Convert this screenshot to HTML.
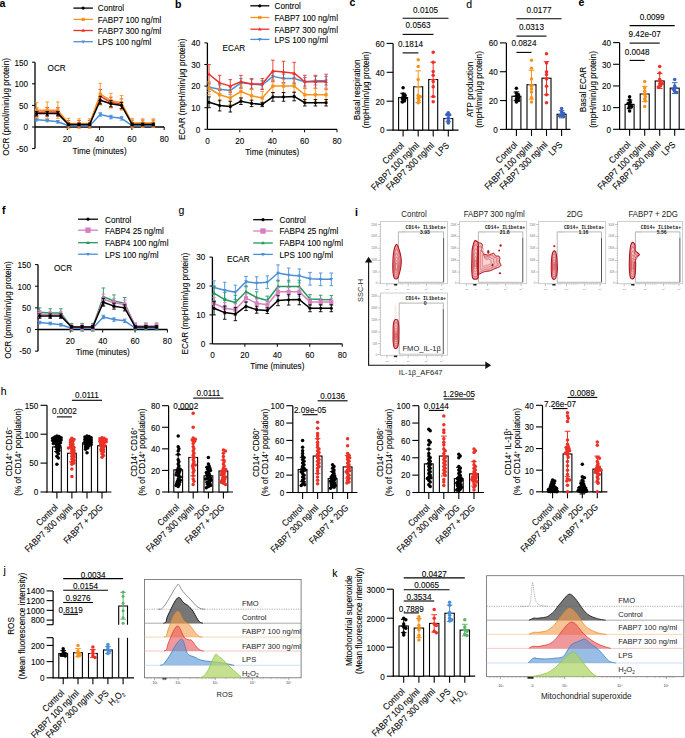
<!DOCTYPE html>
<html><head><meta charset="utf-8"><style>
html,body{margin:0;padding:0;background:#fff;}
svg{display:block;font-family:"Liberation Sans",sans-serif;font-size:8px;}
text:not([fill]){stroke:#000;stroke-width:0.18px;stroke-opacity:0.55;}
</style></head><body>
<svg width="685" height="738" viewBox="0 0 685 738">
<rect width="685" height="738" fill="#fff"/>
<text transform="translate(-0.5 6.9)" font-size="10.5" font-weight="bold">a</text>
<line x1="35" y1="62.2" x2="35" y2="148.6" stroke="#000" stroke-width="1.3"/>
<line x1="35" y1="127" x2="164.2" y2="127" stroke="#000" stroke-width="1.3"/>
<line x1="32" y1="62.2" x2="35" y2="62.2" stroke="#000" stroke-width="1"/>
<text transform="translate(28 62.2) scale(0.8870 1)" y="3.31" font-size="9.2" text-anchor="end">150</text>
<line x1="32" y1="83.8" x2="35" y2="83.8" stroke="#000" stroke-width="1"/>
<text transform="translate(28 83.8) scale(0.8870 1)" y="3.31" font-size="9.2" text-anchor="end">100</text>
<line x1="32" y1="105.4" x2="35" y2="105.4" stroke="#000" stroke-width="1"/>
<text transform="translate(28 105.4) scale(0.8870 1)" y="3.31" font-size="9.2" text-anchor="end">50</text>
<line x1="32" y1="127" x2="35" y2="127" stroke="#000" stroke-width="1"/>
<text transform="translate(28 127) scale(0.8870 1)" y="3.31" font-size="9.2" text-anchor="end">0</text>
<line x1="32" y1="148.6" x2="35" y2="148.6" stroke="#000" stroke-width="1"/>
<text transform="translate(28 148.6) scale(0.8870 1)" y="3.31" font-size="9.2" text-anchor="end">-50</text>
<line x1="67.3" y1="127" x2="67.3" y2="130" stroke="#000" stroke-width="1"/>
<text transform="translate(67.3 139) scale(0.8870 1)" y="3.31" font-size="9.2" text-anchor="middle">20</text>
<line x1="99.6" y1="127" x2="99.6" y2="130" stroke="#000" stroke-width="1"/>
<text transform="translate(99.6 139) scale(0.8870 1)" y="3.31" font-size="9.2" text-anchor="middle">40</text>
<line x1="131.9" y1="127" x2="131.9" y2="130" stroke="#000" stroke-width="1"/>
<text transform="translate(131.9 139) scale(0.8870 1)" y="3.31" font-size="9.2" text-anchor="middle">60</text>
<line x1="164.2" y1="127" x2="164.2" y2="130" stroke="#000" stroke-width="1"/>
<text transform="translate(164.2 139) scale(0.8870 1)" y="3.31" font-size="9.2" text-anchor="middle">80</text>
<text transform="translate(99.6 150.3) scale(0.8870 1)" y="3.31" font-size="9.2" text-anchor="middle">Time (minutes)</text>
<text transform="translate(5.8 106.9) rotate(-90) scale(0.8870 1)" y="3.31" font-size="9.2" text-anchor="middle">OCR (pmol/min/μg protein)</text>
<text transform="translate(47.6 67.8) scale(0.8870 1)" y="3.31" font-size="9.2">OCR</text>
<line x1="36.62" y1="118.36" x2="36.62" y2="120.95" stroke="#4A8FD8" stroke-width="0.9"/>
<line x1="34.82" y1="118.36" x2="38.41" y2="118.36" stroke="#4A8FD8" stroke-width="0.9"/>
<line x1="34.82" y1="120.95" x2="38.41" y2="120.95" stroke="#4A8FD8" stroke-width="0.9"/>
<line x1="47.23" y1="119.22" x2="47.23" y2="121.82" stroke="#4A8FD8" stroke-width="0.9"/>
<line x1="45.43" y1="119.22" x2="49.03" y2="119.22" stroke="#4A8FD8" stroke-width="0.9"/>
<line x1="45.43" y1="121.82" x2="49.03" y2="121.82" stroke="#4A8FD8" stroke-width="0.9"/>
<line x1="57.84" y1="120.52" x2="57.84" y2="123.11" stroke="#4A8FD8" stroke-width="0.9"/>
<line x1="56.04" y1="120.52" x2="59.64" y2="120.52" stroke="#4A8FD8" stroke-width="0.9"/>
<line x1="56.04" y1="123.11" x2="59.64" y2="123.11" stroke="#4A8FD8" stroke-width="0.9"/>
<line x1="68.45" y1="124.84" x2="68.45" y2="126.57" stroke="#4A8FD8" stroke-width="0.9"/>
<line x1="66.65" y1="124.84" x2="70.25" y2="124.84" stroke="#4A8FD8" stroke-width="0.9"/>
<line x1="66.65" y1="126.57" x2="70.25" y2="126.57" stroke="#4A8FD8" stroke-width="0.9"/>
<line x1="79.06" y1="124.84" x2="79.06" y2="126.57" stroke="#4A8FD8" stroke-width="0.9"/>
<line x1="77.26" y1="124.84" x2="80.86" y2="124.84" stroke="#4A8FD8" stroke-width="0.9"/>
<line x1="77.26" y1="126.57" x2="80.86" y2="126.57" stroke="#4A8FD8" stroke-width="0.9"/>
<line x1="89.67" y1="124.84" x2="89.67" y2="126.57" stroke="#4A8FD8" stroke-width="0.9"/>
<line x1="87.87" y1="124.84" x2="91.47" y2="124.84" stroke="#4A8FD8" stroke-width="0.9"/>
<line x1="87.87" y1="126.57" x2="91.47" y2="126.57" stroke="#4A8FD8" stroke-width="0.9"/>
<line x1="100.28" y1="112.74" x2="100.28" y2="116.2" stroke="#4A8FD8" stroke-width="0.9"/>
<line x1="98.48" y1="112.74" x2="102.08" y2="112.74" stroke="#4A8FD8" stroke-width="0.9"/>
<line x1="98.48" y1="116.2" x2="102.08" y2="116.2" stroke="#4A8FD8" stroke-width="0.9"/>
<line x1="110.89" y1="115.34" x2="110.89" y2="118.79" stroke="#4A8FD8" stroke-width="0.9"/>
<line x1="109.09" y1="115.34" x2="112.69" y2="115.34" stroke="#4A8FD8" stroke-width="0.9"/>
<line x1="109.09" y1="118.79" x2="112.69" y2="118.79" stroke="#4A8FD8" stroke-width="0.9"/>
<line x1="121.5" y1="116.63" x2="121.5" y2="120.09" stroke="#4A8FD8" stroke-width="0.9"/>
<line x1="119.7" y1="116.63" x2="123.3" y2="116.63" stroke="#4A8FD8" stroke-width="0.9"/>
<line x1="119.7" y1="120.09" x2="123.3" y2="120.09" stroke="#4A8FD8" stroke-width="0.9"/>
<line x1="132.11" y1="124.84" x2="132.11" y2="126.57" stroke="#4A8FD8" stroke-width="0.9"/>
<line x1="130.31" y1="124.84" x2="133.91" y2="124.84" stroke="#4A8FD8" stroke-width="0.9"/>
<line x1="130.31" y1="126.57" x2="133.91" y2="126.57" stroke="#4A8FD8" stroke-width="0.9"/>
<line x1="142.72" y1="124.84" x2="142.72" y2="126.57" stroke="#4A8FD8" stroke-width="0.9"/>
<line x1="140.92" y1="124.84" x2="144.52" y2="124.84" stroke="#4A8FD8" stroke-width="0.9"/>
<line x1="140.92" y1="126.57" x2="144.52" y2="126.57" stroke="#4A8FD8" stroke-width="0.9"/>
<line x1="153.33" y1="124.84" x2="153.33" y2="126.57" stroke="#4A8FD8" stroke-width="0.9"/>
<line x1="151.53" y1="124.84" x2="155.13" y2="124.84" stroke="#4A8FD8" stroke-width="0.9"/>
<line x1="151.53" y1="126.57" x2="155.13" y2="126.57" stroke="#4A8FD8" stroke-width="0.9"/>
<path d="M36.62 119.66 L47.23 120.52 L57.84 121.82 L68.45 125.7 L79.06 125.7 L89.67 125.7 L100.28 114.47 L110.89 117.06 L121.5 118.36 L132.11 125.7 L142.72 125.7 L153.33 125.7" stroke="#4A8FD8" fill="none" stroke-width="1.5" stroke-linejoin="round"/>
<path d="M36.62 121.66L38.41 118.36L34.82 118.36Z" stroke="none" fill="#4A8FD8" stroke-width="1"/>
<path d="M47.23 122.52L49.03 119.22L45.43 119.22Z" stroke="none" fill="#4A8FD8" stroke-width="1"/>
<path d="M57.84 123.82L59.64 120.52L56.04 120.52Z" stroke="none" fill="#4A8FD8" stroke-width="1"/>
<path d="M68.45 127.7L70.25 124.4L66.65 124.4Z" stroke="none" fill="#4A8FD8" stroke-width="1"/>
<path d="M79.06 127.7L80.86 124.4L77.26 124.4Z" stroke="none" fill="#4A8FD8" stroke-width="1"/>
<path d="M89.67 127.7L91.47 124.4L87.87 124.4Z" stroke="none" fill="#4A8FD8" stroke-width="1"/>
<path d="M100.28 116.47L102.08 113.17L98.48 113.17Z" stroke="none" fill="#4A8FD8" stroke-width="1"/>
<path d="M110.89 119.06L112.69 115.76L109.09 115.76Z" stroke="none" fill="#4A8FD8" stroke-width="1"/>
<path d="M121.5 120.36L123.3 117.06L119.7 117.06Z" stroke="none" fill="#4A8FD8" stroke-width="1"/>
<path d="M132.11 127.7L133.91 124.4L130.31 124.4Z" stroke="none" fill="#4A8FD8" stroke-width="1"/>
<path d="M142.72 127.7L144.52 124.4L140.92 124.4Z" stroke="none" fill="#4A8FD8" stroke-width="1"/>
<path d="M153.33 127.7L155.13 124.4L151.53 124.4Z" stroke="none" fill="#4A8FD8" stroke-width="1"/>
<line x1="36.62" y1="107.99" x2="36.62" y2="116.63" stroke="#EC3127" stroke-width="0.9"/>
<line x1="34.82" y1="107.99" x2="38.41" y2="107.99" stroke="#EC3127" stroke-width="0.9"/>
<line x1="34.82" y1="116.63" x2="38.41" y2="116.63" stroke="#EC3127" stroke-width="0.9"/>
<line x1="47.23" y1="107.56" x2="47.23" y2="116.2" stroke="#EC3127" stroke-width="0.9"/>
<line x1="45.43" y1="107.56" x2="49.03" y2="107.56" stroke="#EC3127" stroke-width="0.9"/>
<line x1="45.43" y1="116.2" x2="49.03" y2="116.2" stroke="#EC3127" stroke-width="0.9"/>
<line x1="57.84" y1="107.56" x2="57.84" y2="116.2" stroke="#EC3127" stroke-width="0.9"/>
<line x1="56.04" y1="107.56" x2="59.64" y2="107.56" stroke="#EC3127" stroke-width="0.9"/>
<line x1="56.04" y1="116.2" x2="59.64" y2="116.2" stroke="#EC3127" stroke-width="0.9"/>
<line x1="68.45" y1="120.52" x2="68.45" y2="127.43" stroke="#EC3127" stroke-width="0.9"/>
<line x1="66.65" y1="120.52" x2="70.25" y2="120.52" stroke="#EC3127" stroke-width="0.9"/>
<line x1="66.65" y1="127.43" x2="70.25" y2="127.43" stroke="#EC3127" stroke-width="0.9"/>
<line x1="79.06" y1="120.52" x2="79.06" y2="127.43" stroke="#EC3127" stroke-width="0.9"/>
<line x1="77.26" y1="120.52" x2="80.86" y2="120.52" stroke="#EC3127" stroke-width="0.9"/>
<line x1="77.26" y1="127.43" x2="80.86" y2="127.43" stroke="#EC3127" stroke-width="0.9"/>
<line x1="89.67" y1="120.52" x2="89.67" y2="127.43" stroke="#EC3127" stroke-width="0.9"/>
<line x1="87.87" y1="120.52" x2="91.47" y2="120.52" stroke="#EC3127" stroke-width="0.9"/>
<line x1="87.87" y1="127.43" x2="91.47" y2="127.43" stroke="#EC3127" stroke-width="0.9"/>
<line x1="100.28" y1="89.42" x2="100.28" y2="103.24" stroke="#EC3127" stroke-width="0.9"/>
<line x1="98.48" y1="89.42" x2="102.08" y2="89.42" stroke="#EC3127" stroke-width="0.9"/>
<line x1="98.48" y1="103.24" x2="102.08" y2="103.24" stroke="#EC3127" stroke-width="0.9"/>
<line x1="110.89" y1="97.19" x2="110.89" y2="107.56" stroke="#EC3127" stroke-width="0.9"/>
<line x1="109.09" y1="97.19" x2="112.69" y2="97.19" stroke="#EC3127" stroke-width="0.9"/>
<line x1="109.09" y1="107.56" x2="112.69" y2="107.56" stroke="#EC3127" stroke-width="0.9"/>
<line x1="121.5" y1="98.92" x2="121.5" y2="109.29" stroke="#EC3127" stroke-width="0.9"/>
<line x1="119.7" y1="98.92" x2="123.3" y2="98.92" stroke="#EC3127" stroke-width="0.9"/>
<line x1="119.7" y1="109.29" x2="123.3" y2="109.29" stroke="#EC3127" stroke-width="0.9"/>
<line x1="132.11" y1="120.09" x2="132.11" y2="127" stroke="#EC3127" stroke-width="0.9"/>
<line x1="130.31" y1="120.09" x2="133.91" y2="120.09" stroke="#EC3127" stroke-width="0.9"/>
<line x1="130.31" y1="127" x2="133.91" y2="127" stroke="#EC3127" stroke-width="0.9"/>
<line x1="142.72" y1="120.09" x2="142.72" y2="127" stroke="#EC3127" stroke-width="0.9"/>
<line x1="140.92" y1="120.09" x2="144.52" y2="120.09" stroke="#EC3127" stroke-width="0.9"/>
<line x1="140.92" y1="127" x2="144.52" y2="127" stroke="#EC3127" stroke-width="0.9"/>
<line x1="153.33" y1="120.09" x2="153.33" y2="127" stroke="#EC3127" stroke-width="0.9"/>
<line x1="151.53" y1="120.09" x2="155.13" y2="120.09" stroke="#EC3127" stroke-width="0.9"/>
<line x1="151.53" y1="127" x2="155.13" y2="127" stroke="#EC3127" stroke-width="0.9"/>
<path d="M36.62 112.31 L47.23 111.88 L57.84 111.88 L68.45 123.98 L79.06 123.98 L89.67 123.98 L100.28 96.33 L110.89 102.38 L121.5 104.1 L132.11 123.54 L142.72 123.54 L153.33 123.54" stroke="#EC3127" fill="none" stroke-width="1.5" stroke-linejoin="round"/>
<path d="M36.62 110.31L38.41 113.61L34.82 113.61Z" stroke="none" fill="#EC3127" stroke-width="1"/>
<path d="M47.23 109.88L49.03 113.18L45.43 113.18Z" stroke="none" fill="#EC3127" stroke-width="1"/>
<path d="M57.84 109.88L59.64 113.18L56.04 113.18Z" stroke="none" fill="#EC3127" stroke-width="1"/>
<path d="M68.45 121.98L70.25 125.28L66.65 125.28Z" stroke="none" fill="#EC3127" stroke-width="1"/>
<path d="M79.06 121.98L80.86 125.28L77.26 125.28Z" stroke="none" fill="#EC3127" stroke-width="1"/>
<path d="M89.67 121.98L91.47 125.28L87.87 125.28Z" stroke="none" fill="#EC3127" stroke-width="1"/>
<path d="M100.28 94.33L102.08 97.63L98.48 97.63Z" stroke="none" fill="#EC3127" stroke-width="1"/>
<path d="M110.89 100.38L112.69 103.68L109.09 103.68Z" stroke="none" fill="#EC3127" stroke-width="1"/>
<path d="M121.5 102.1L123.3 105.4L119.7 105.4Z" stroke="none" fill="#EC3127" stroke-width="1"/>
<path d="M132.11 121.54L133.91 124.84L130.31 124.84Z" stroke="none" fill="#EC3127" stroke-width="1"/>
<path d="M142.72 121.54L144.52 124.84L140.92 124.84Z" stroke="none" fill="#EC3127" stroke-width="1"/>
<path d="M153.33 121.54L155.13 124.84L151.53 124.84Z" stroke="none" fill="#EC3127" stroke-width="1"/>
<line x1="36.62" y1="102.38" x2="36.62" y2="117.93" stroke="#F7941D" stroke-width="0.9"/>
<line x1="34.82" y1="102.38" x2="38.41" y2="102.38" stroke="#F7941D" stroke-width="0.9"/>
<line x1="34.82" y1="117.93" x2="38.41" y2="117.93" stroke="#F7941D" stroke-width="0.9"/>
<line x1="47.23" y1="101.94" x2="47.23" y2="118.36" stroke="#F7941D" stroke-width="0.9"/>
<line x1="45.43" y1="101.94" x2="49.03" y2="101.94" stroke="#F7941D" stroke-width="0.9"/>
<line x1="45.43" y1="118.36" x2="49.03" y2="118.36" stroke="#F7941D" stroke-width="0.9"/>
<line x1="57.84" y1="101.94" x2="57.84" y2="118.36" stroke="#F7941D" stroke-width="0.9"/>
<line x1="56.04" y1="101.94" x2="59.64" y2="101.94" stroke="#F7941D" stroke-width="0.9"/>
<line x1="56.04" y1="118.36" x2="59.64" y2="118.36" stroke="#F7941D" stroke-width="0.9"/>
<line x1="68.45" y1="118.36" x2="68.45" y2="128.73" stroke="#F7941D" stroke-width="0.9"/>
<line x1="66.65" y1="118.36" x2="70.25" y2="118.36" stroke="#F7941D" stroke-width="0.9"/>
<line x1="66.65" y1="128.73" x2="70.25" y2="128.73" stroke="#F7941D" stroke-width="0.9"/>
<line x1="79.06" y1="118.79" x2="79.06" y2="128.3" stroke="#F7941D" stroke-width="0.9"/>
<line x1="77.26" y1="118.79" x2="80.86" y2="118.79" stroke="#F7941D" stroke-width="0.9"/>
<line x1="77.26" y1="128.3" x2="80.86" y2="128.3" stroke="#F7941D" stroke-width="0.9"/>
<line x1="89.67" y1="118.79" x2="89.67" y2="128.3" stroke="#F7941D" stroke-width="0.9"/>
<line x1="87.87" y1="118.79" x2="91.47" y2="118.79" stroke="#F7941D" stroke-width="0.9"/>
<line x1="87.87" y1="128.3" x2="91.47" y2="128.3" stroke="#F7941D" stroke-width="0.9"/>
<line x1="100.28" y1="83.37" x2="100.28" y2="104.97" stroke="#F7941D" stroke-width="0.9"/>
<line x1="98.48" y1="83.37" x2="102.08" y2="83.37" stroke="#F7941D" stroke-width="0.9"/>
<line x1="98.48" y1="104.97" x2="102.08" y2="104.97" stroke="#F7941D" stroke-width="0.9"/>
<line x1="110.89" y1="93.3" x2="110.89" y2="107.99" stroke="#F7941D" stroke-width="0.9"/>
<line x1="109.09" y1="93.3" x2="112.69" y2="93.3" stroke="#F7941D" stroke-width="0.9"/>
<line x1="109.09" y1="107.99" x2="112.69" y2="107.99" stroke="#F7941D" stroke-width="0.9"/>
<line x1="121.5" y1="95.46" x2="121.5" y2="110.15" stroke="#F7941D" stroke-width="0.9"/>
<line x1="119.7" y1="95.46" x2="123.3" y2="95.46" stroke="#F7941D" stroke-width="0.9"/>
<line x1="119.7" y1="110.15" x2="123.3" y2="110.15" stroke="#F7941D" stroke-width="0.9"/>
<line x1="132.11" y1="118.36" x2="132.11" y2="127.86" stroke="#F7941D" stroke-width="0.9"/>
<line x1="130.31" y1="118.36" x2="133.91" y2="118.36" stroke="#F7941D" stroke-width="0.9"/>
<line x1="130.31" y1="127.86" x2="133.91" y2="127.86" stroke="#F7941D" stroke-width="0.9"/>
<line x1="142.72" y1="118.79" x2="142.72" y2="127.43" stroke="#F7941D" stroke-width="0.9"/>
<line x1="140.92" y1="118.79" x2="144.52" y2="118.79" stroke="#F7941D" stroke-width="0.9"/>
<line x1="140.92" y1="127.43" x2="144.52" y2="127.43" stroke="#F7941D" stroke-width="0.9"/>
<line x1="153.33" y1="118.79" x2="153.33" y2="127.43" stroke="#F7941D" stroke-width="0.9"/>
<line x1="151.53" y1="118.79" x2="155.13" y2="118.79" stroke="#F7941D" stroke-width="0.9"/>
<line x1="151.53" y1="127.43" x2="155.13" y2="127.43" stroke="#F7941D" stroke-width="0.9"/>
<path d="M36.62 110.15 L47.23 110.15 L57.84 110.15 L68.45 123.54 L79.06 123.54 L89.67 123.54 L100.28 94.17 L110.89 100.65 L121.5 102.81 L132.11 123.11 L142.72 123.11 L153.33 123.11" stroke="#F7941D" fill="none" stroke-width="1.5" stroke-linejoin="round"/>
<rect x="35.02" y="108.55" width="3.2" height="3.2" stroke="none" fill="#F7941D" stroke-width="1"/>
<rect x="45.63" y="108.55" width="3.2" height="3.2" stroke="none" fill="#F7941D" stroke-width="1"/>
<rect x="56.24" y="108.55" width="3.2" height="3.2" stroke="none" fill="#F7941D" stroke-width="1"/>
<rect x="66.85" y="121.94" width="3.2" height="3.2" stroke="none" fill="#F7941D" stroke-width="1"/>
<rect x="77.46" y="121.94" width="3.2" height="3.2" stroke="none" fill="#F7941D" stroke-width="1"/>
<rect x="88.07" y="121.94" width="3.2" height="3.2" stroke="none" fill="#F7941D" stroke-width="1"/>
<rect x="98.68" y="92.57" width="3.2" height="3.2" stroke="none" fill="#F7941D" stroke-width="1"/>
<rect x="109.29" y="99.05" width="3.2" height="3.2" stroke="none" fill="#F7941D" stroke-width="1"/>
<rect x="119.9" y="101.21" width="3.2" height="3.2" stroke="none" fill="#F7941D" stroke-width="1"/>
<rect x="130.51" y="121.51" width="3.2" height="3.2" stroke="none" fill="#F7941D" stroke-width="1"/>
<rect x="141.12" y="121.51" width="3.2" height="3.2" stroke="none" fill="#F7941D" stroke-width="1"/>
<rect x="151.73" y="121.51" width="3.2" height="3.2" stroke="none" fill="#F7941D" stroke-width="1"/>
<line x1="36.62" y1="111.45" x2="36.62" y2="115.77" stroke="#000" stroke-width="0.9"/>
<line x1="34.82" y1="111.45" x2="38.41" y2="111.45" stroke="#000" stroke-width="0.9"/>
<line x1="34.82" y1="115.77" x2="38.41" y2="115.77" stroke="#000" stroke-width="0.9"/>
<line x1="47.23" y1="111.45" x2="47.23" y2="115.77" stroke="#000" stroke-width="0.9"/>
<line x1="45.43" y1="111.45" x2="49.03" y2="111.45" stroke="#000" stroke-width="0.9"/>
<line x1="45.43" y1="115.77" x2="49.03" y2="115.77" stroke="#000" stroke-width="0.9"/>
<line x1="57.84" y1="111.45" x2="57.84" y2="115.77" stroke="#000" stroke-width="0.9"/>
<line x1="56.04" y1="111.45" x2="59.64" y2="111.45" stroke="#000" stroke-width="0.9"/>
<line x1="56.04" y1="115.77" x2="59.64" y2="115.77" stroke="#000" stroke-width="0.9"/>
<line x1="68.45" y1="123.11" x2="68.45" y2="125.7" stroke="#000" stroke-width="0.9"/>
<line x1="66.65" y1="123.11" x2="70.25" y2="123.11" stroke="#000" stroke-width="0.9"/>
<line x1="66.65" y1="125.7" x2="70.25" y2="125.7" stroke="#000" stroke-width="0.9"/>
<line x1="79.06" y1="123.11" x2="79.06" y2="125.7" stroke="#000" stroke-width="0.9"/>
<line x1="77.26" y1="123.11" x2="80.86" y2="123.11" stroke="#000" stroke-width="0.9"/>
<line x1="77.26" y1="125.7" x2="80.86" y2="125.7" stroke="#000" stroke-width="0.9"/>
<line x1="89.67" y1="123.11" x2="89.67" y2="125.7" stroke="#000" stroke-width="0.9"/>
<line x1="87.87" y1="123.11" x2="91.47" y2="123.11" stroke="#000" stroke-width="0.9"/>
<line x1="87.87" y1="125.7" x2="91.47" y2="125.7" stroke="#000" stroke-width="0.9"/>
<line x1="100.28" y1="96.33" x2="100.28" y2="104.1" stroke="#000" stroke-width="0.9"/>
<line x1="98.48" y1="96.33" x2="102.08" y2="96.33" stroke="#000" stroke-width="0.9"/>
<line x1="98.48" y1="104.1" x2="102.08" y2="104.1" stroke="#000" stroke-width="0.9"/>
<line x1="110.89" y1="100.65" x2="110.89" y2="106.7" stroke="#000" stroke-width="0.9"/>
<line x1="109.09" y1="100.65" x2="112.69" y2="100.65" stroke="#000" stroke-width="0.9"/>
<line x1="109.09" y1="106.7" x2="112.69" y2="106.7" stroke="#000" stroke-width="0.9"/>
<line x1="121.5" y1="102.38" x2="121.5" y2="108.42" stroke="#000" stroke-width="0.9"/>
<line x1="119.7" y1="102.38" x2="123.3" y2="102.38" stroke="#000" stroke-width="0.9"/>
<line x1="119.7" y1="108.42" x2="123.3" y2="108.42" stroke="#000" stroke-width="0.9"/>
<line x1="132.11" y1="123.11" x2="132.11" y2="125.7" stroke="#000" stroke-width="0.9"/>
<line x1="130.31" y1="123.11" x2="133.91" y2="123.11" stroke="#000" stroke-width="0.9"/>
<line x1="130.31" y1="125.7" x2="133.91" y2="125.7" stroke="#000" stroke-width="0.9"/>
<line x1="142.72" y1="123.11" x2="142.72" y2="125.7" stroke="#000" stroke-width="0.9"/>
<line x1="140.92" y1="123.11" x2="144.52" y2="123.11" stroke="#000" stroke-width="0.9"/>
<line x1="140.92" y1="125.7" x2="144.52" y2="125.7" stroke="#000" stroke-width="0.9"/>
<line x1="153.33" y1="123.11" x2="153.33" y2="125.7" stroke="#000" stroke-width="0.9"/>
<line x1="151.53" y1="123.11" x2="155.13" y2="123.11" stroke="#000" stroke-width="0.9"/>
<line x1="151.53" y1="125.7" x2="155.13" y2="125.7" stroke="#000" stroke-width="0.9"/>
<path d="M36.62 113.61 L47.23 113.61 L57.84 113.61 L68.45 124.41 L79.06 124.41 L89.67 124.41 L100.28 100.22 L110.89 103.67 L121.5 105.4 L132.11 124.41 L142.72 124.41 L153.33 124.41" stroke="#000" fill="none" stroke-width="1.5" stroke-linejoin="round"/>
<circle cx="36.62" cy="113.61" r="1.6" fill="#000"/>
<circle cx="47.23" cy="113.61" r="1.6" fill="#000"/>
<circle cx="57.84" cy="113.61" r="1.6" fill="#000"/>
<circle cx="68.45" cy="124.41" r="1.6" fill="#000"/>
<circle cx="79.06" cy="124.41" r="1.6" fill="#000"/>
<circle cx="89.67" cy="124.41" r="1.6" fill="#000"/>
<circle cx="100.28" cy="100.22" r="1.6" fill="#000"/>
<circle cx="110.89" cy="103.67" r="1.6" fill="#000"/>
<circle cx="121.5" cy="105.4" r="1.6" fill="#000"/>
<circle cx="132.11" cy="124.41" r="1.6" fill="#000"/>
<circle cx="142.72" cy="124.41" r="1.6" fill="#000"/>
<circle cx="153.33" cy="124.41" r="1.6" fill="#000"/>
<line x1="73.4" y1="8.1" x2="92.9" y2="8.1" stroke="#000" stroke-width="1.3"/>
<circle cx="83.15" cy="8.1" r="1.6" fill="#000"/>
<text transform="translate(97.8 8.1) scale(0.8870 1)" y="3.31" font-size="9.2">Control</text>
<line x1="73.4" y1="19.4" x2="92.9" y2="19.4" stroke="#F7941D" stroke-width="1.3"/>
<rect x="81.55" y="17.8" width="3.2" height="3.2" stroke="none" fill="#F7941D" stroke-width="1"/>
<text transform="translate(97.8 19.4) scale(0.8870 1)" y="3.31" font-size="9.2">FABP7 100 ng/ml</text>
<line x1="73.4" y1="30.5" x2="92.9" y2="30.5" stroke="#EC3127" stroke-width="1.3"/>
<path d="M83.15 28.5L84.95 31.8L81.35 31.8Z" stroke="none" fill="#EC3127" stroke-width="1"/>
<text transform="translate(97.8 30.5) scale(0.8870 1)" y="3.31" font-size="9.2">FABP7 300 ng/ml</text>
<line x1="73.4" y1="41.7" x2="92.9" y2="41.7" stroke="#4A8FD8" stroke-width="1.3"/>
<path d="M83.15 43.7L84.95 40.4L81.35 40.4Z" stroke="none" fill="#4A8FD8" stroke-width="1"/>
<text transform="translate(97.8 41.7) scale(0.8870 1)" y="3.31" font-size="9.2">LPS 100 ng/ml</text>
<text transform="translate(175.1 7.6)" font-size="10.5" font-weight="bold">b</text>
<line x1="207.4" y1="42.9" x2="207.4" y2="129.3" stroke="#000" stroke-width="1.3"/>
<line x1="207.4" y1="129.3" x2="337" y2="129.3" stroke="#000" stroke-width="1.3"/>
<line x1="204.4" y1="42.9" x2="207.4" y2="42.9" stroke="#000" stroke-width="1"/>
<text transform="translate(200.4 42.9) scale(0.8870 1)" y="3.31" font-size="9.2" text-anchor="end">40</text>
<line x1="204.4" y1="64.5" x2="207.4" y2="64.5" stroke="#000" stroke-width="1"/>
<text transform="translate(200.4 64.5) scale(0.8870 1)" y="3.31" font-size="9.2" text-anchor="end">30</text>
<line x1="204.4" y1="86.1" x2="207.4" y2="86.1" stroke="#000" stroke-width="1"/>
<text transform="translate(200.4 86.1) scale(0.8870 1)" y="3.31" font-size="9.2" text-anchor="end">20</text>
<line x1="204.4" y1="107.7" x2="207.4" y2="107.7" stroke="#000" stroke-width="1"/>
<text transform="translate(200.4 107.7) scale(0.8870 1)" y="3.31" font-size="9.2" text-anchor="end">10</text>
<line x1="204.4" y1="129.3" x2="207.4" y2="129.3" stroke="#000" stroke-width="1"/>
<text transform="translate(200.4 129.3) scale(0.8870 1)" y="3.31" font-size="9.2" text-anchor="end">0</text>
<text transform="translate(207.4 141) scale(0.8870 1)" y="3.31" font-size="9.2" text-anchor="middle">0</text>
<line x1="239.8" y1="129.3" x2="239.8" y2="132.3" stroke="#000" stroke-width="1"/>
<text transform="translate(239.8 141) scale(0.8870 1)" y="3.31" font-size="9.2" text-anchor="middle">20</text>
<line x1="272.2" y1="129.3" x2="272.2" y2="132.3" stroke="#000" stroke-width="1"/>
<text transform="translate(272.2 141) scale(0.8870 1)" y="3.31" font-size="9.2" text-anchor="middle">40</text>
<line x1="304.6" y1="129.3" x2="304.6" y2="132.3" stroke="#000" stroke-width="1"/>
<text transform="translate(304.6 141) scale(0.8870 1)" y="3.31" font-size="9.2" text-anchor="middle">60</text>
<line x1="337" y1="129.3" x2="337" y2="132.3" stroke="#000" stroke-width="1"/>
<text transform="translate(337 141) scale(0.8870 1)" y="3.31" font-size="9.2" text-anchor="middle">80</text>
<text transform="translate(272.2 151.8) scale(0.8870 1)" y="3.31" font-size="9.2" text-anchor="middle">Time (minutes)</text>
<text transform="translate(181.7 89.3) rotate(-90) scale(0.8870 1)" y="3.31" font-size="9.2" text-anchor="middle">ECAR (mpH/min/μg protein)</text>
<text transform="translate(222.6 47.6) scale(0.8870 1)" y="3.31" font-size="9.2">ECAR</text>
<line x1="209.02" y1="82.86" x2="209.02" y2="91.5" stroke="#4A8FD8" stroke-width="0.9"/>
<line x1="207.22" y1="82.86" x2="210.82" y2="82.86" stroke="#4A8FD8" stroke-width="0.9"/>
<line x1="207.22" y1="91.5" x2="210.82" y2="91.5" stroke="#4A8FD8" stroke-width="0.9"/>
<line x1="219.66" y1="85.02" x2="219.66" y2="93.66" stroke="#4A8FD8" stroke-width="0.9"/>
<line x1="217.86" y1="85.02" x2="221.46" y2="85.02" stroke="#4A8FD8" stroke-width="0.9"/>
<line x1="217.86" y1="93.66" x2="221.46" y2="93.66" stroke="#4A8FD8" stroke-width="0.9"/>
<line x1="230.31" y1="86.1" x2="230.31" y2="94.74" stroke="#4A8FD8" stroke-width="0.9"/>
<line x1="228.51" y1="86.1" x2="232.11" y2="86.1" stroke="#4A8FD8" stroke-width="0.9"/>
<line x1="228.51" y1="94.74" x2="232.11" y2="94.74" stroke="#4A8FD8" stroke-width="0.9"/>
<line x1="240.95" y1="78.54" x2="240.95" y2="87.18" stroke="#4A8FD8" stroke-width="0.9"/>
<line x1="239.15" y1="78.54" x2="242.75" y2="78.54" stroke="#4A8FD8" stroke-width="0.9"/>
<line x1="239.15" y1="87.18" x2="242.75" y2="87.18" stroke="#4A8FD8" stroke-width="0.9"/>
<line x1="251.59" y1="79.62" x2="251.59" y2="88.26" stroke="#4A8FD8" stroke-width="0.9"/>
<line x1="249.79" y1="79.62" x2="253.39" y2="79.62" stroke="#4A8FD8" stroke-width="0.9"/>
<line x1="249.79" y1="88.26" x2="253.39" y2="88.26" stroke="#4A8FD8" stroke-width="0.9"/>
<line x1="262.24" y1="80.7" x2="262.24" y2="89.34" stroke="#4A8FD8" stroke-width="0.9"/>
<line x1="260.44" y1="80.7" x2="264.04" y2="80.7" stroke="#4A8FD8" stroke-width="0.9"/>
<line x1="260.44" y1="89.34" x2="264.04" y2="89.34" stroke="#4A8FD8" stroke-width="0.9"/>
<line x1="272.88" y1="72.06" x2="272.88" y2="80.7" stroke="#4A8FD8" stroke-width="0.9"/>
<line x1="271.08" y1="72.06" x2="274.68" y2="72.06" stroke="#4A8FD8" stroke-width="0.9"/>
<line x1="271.08" y1="80.7" x2="274.68" y2="80.7" stroke="#4A8FD8" stroke-width="0.9"/>
<line x1="283.52" y1="74.22" x2="283.52" y2="82.86" stroke="#4A8FD8" stroke-width="0.9"/>
<line x1="281.72" y1="74.22" x2="285.32" y2="74.22" stroke="#4A8FD8" stroke-width="0.9"/>
<line x1="281.72" y1="82.86" x2="285.32" y2="82.86" stroke="#4A8FD8" stroke-width="0.9"/>
<line x1="294.17" y1="74.22" x2="294.17" y2="82.86" stroke="#4A8FD8" stroke-width="0.9"/>
<line x1="292.37" y1="74.22" x2="295.97" y2="74.22" stroke="#4A8FD8" stroke-width="0.9"/>
<line x1="292.37" y1="82.86" x2="295.97" y2="82.86" stroke="#4A8FD8" stroke-width="0.9"/>
<line x1="304.81" y1="77.46" x2="304.81" y2="86.1" stroke="#4A8FD8" stroke-width="0.9"/>
<line x1="303.01" y1="77.46" x2="306.61" y2="77.46" stroke="#4A8FD8" stroke-width="0.9"/>
<line x1="303.01" y1="86.1" x2="306.61" y2="86.1" stroke="#4A8FD8" stroke-width="0.9"/>
<line x1="315.45" y1="76.38" x2="315.45" y2="85.02" stroke="#4A8FD8" stroke-width="0.9"/>
<line x1="313.65" y1="76.38" x2="317.25" y2="76.38" stroke="#4A8FD8" stroke-width="0.9"/>
<line x1="313.65" y1="85.02" x2="317.25" y2="85.02" stroke="#4A8FD8" stroke-width="0.9"/>
<line x1="326.1" y1="76.38" x2="326.1" y2="85.02" stroke="#4A8FD8" stroke-width="0.9"/>
<line x1="324.3" y1="76.38" x2="327.9" y2="76.38" stroke="#4A8FD8" stroke-width="0.9"/>
<line x1="324.3" y1="85.02" x2="327.9" y2="85.02" stroke="#4A8FD8" stroke-width="0.9"/>
<path d="M209.02 87.18 L219.66 89.34 L230.31 90.42 L240.95 82.86 L251.59 83.94 L262.24 85.02 L272.88 76.38 L283.52 78.54 L294.17 78.54 L304.81 81.78 L315.45 80.7 L326.1 80.7" stroke="#4A8FD8" fill="none" stroke-width="1.5" stroke-linejoin="round"/>
<path d="M209.02 89.18L210.82 85.88L207.22 85.88Z" stroke="none" fill="#4A8FD8" stroke-width="1"/>
<path d="M219.66 91.34L221.46 88.04L217.86 88.04Z" stroke="none" fill="#4A8FD8" stroke-width="1"/>
<path d="M230.31 92.42L232.11 89.12L228.51 89.12Z" stroke="none" fill="#4A8FD8" stroke-width="1"/>
<path d="M240.95 84.86L242.75 81.56L239.15 81.56Z" stroke="none" fill="#4A8FD8" stroke-width="1"/>
<path d="M251.59 85.94L253.39 82.64L249.79 82.64Z" stroke="none" fill="#4A8FD8" stroke-width="1"/>
<path d="M262.24 87.02L264.04 83.72L260.44 83.72Z" stroke="none" fill="#4A8FD8" stroke-width="1"/>
<path d="M272.88 78.38L274.68 75.08L271.08 75.08Z" stroke="none" fill="#4A8FD8" stroke-width="1"/>
<path d="M283.52 80.54L285.32 77.24L281.72 77.24Z" stroke="none" fill="#4A8FD8" stroke-width="1"/>
<path d="M294.17 80.54L295.97 77.24L292.37 77.24Z" stroke="none" fill="#4A8FD8" stroke-width="1"/>
<path d="M304.81 83.78L306.61 80.48L303.01 80.48Z" stroke="none" fill="#4A8FD8" stroke-width="1"/>
<path d="M315.45 82.7L317.25 79.4L313.65 79.4Z" stroke="none" fill="#4A8FD8" stroke-width="1"/>
<path d="M326.1 82.7L327.9 79.4L324.3 79.4Z" stroke="none" fill="#4A8FD8" stroke-width="1"/>
<line x1="209.02" y1="64.5" x2="209.02" y2="83.94" stroke="#EC3127" stroke-width="0.9"/>
<line x1="207.22" y1="64.5" x2="210.82" y2="64.5" stroke="#EC3127" stroke-width="0.9"/>
<line x1="207.22" y1="83.94" x2="210.82" y2="83.94" stroke="#EC3127" stroke-width="0.9"/>
<line x1="219.66" y1="75.3" x2="219.66" y2="90.42" stroke="#EC3127" stroke-width="0.9"/>
<line x1="217.86" y1="75.3" x2="221.46" y2="75.3" stroke="#EC3127" stroke-width="0.9"/>
<line x1="217.86" y1="90.42" x2="221.46" y2="90.42" stroke="#EC3127" stroke-width="0.9"/>
<line x1="230.31" y1="79.62" x2="230.31" y2="92.58" stroke="#EC3127" stroke-width="0.9"/>
<line x1="228.51" y1="79.62" x2="232.11" y2="79.62" stroke="#EC3127" stroke-width="0.9"/>
<line x1="228.51" y1="92.58" x2="232.11" y2="92.58" stroke="#EC3127" stroke-width="0.9"/>
<line x1="240.95" y1="75.3" x2="240.95" y2="88.26" stroke="#EC3127" stroke-width="0.9"/>
<line x1="239.15" y1="75.3" x2="242.75" y2="75.3" stroke="#EC3127" stroke-width="0.9"/>
<line x1="239.15" y1="88.26" x2="242.75" y2="88.26" stroke="#EC3127" stroke-width="0.9"/>
<line x1="251.59" y1="78.54" x2="251.59" y2="89.34" stroke="#EC3127" stroke-width="0.9"/>
<line x1="249.79" y1="78.54" x2="253.39" y2="78.54" stroke="#EC3127" stroke-width="0.9"/>
<line x1="249.79" y1="89.34" x2="253.39" y2="89.34" stroke="#EC3127" stroke-width="0.9"/>
<line x1="262.24" y1="78.54" x2="262.24" y2="89.34" stroke="#EC3127" stroke-width="0.9"/>
<line x1="260.44" y1="78.54" x2="264.04" y2="78.54" stroke="#EC3127" stroke-width="0.9"/>
<line x1="260.44" y1="89.34" x2="264.04" y2="89.34" stroke="#EC3127" stroke-width="0.9"/>
<line x1="272.88" y1="60.18" x2="272.88" y2="81.78" stroke="#EC3127" stroke-width="0.9"/>
<line x1="271.08" y1="60.18" x2="274.68" y2="60.18" stroke="#EC3127" stroke-width="0.9"/>
<line x1="271.08" y1="81.78" x2="274.68" y2="81.78" stroke="#EC3127" stroke-width="0.9"/>
<line x1="283.52" y1="61.26" x2="283.52" y2="82.86" stroke="#EC3127" stroke-width="0.9"/>
<line x1="281.72" y1="61.26" x2="285.32" y2="61.26" stroke="#EC3127" stroke-width="0.9"/>
<line x1="281.72" y1="82.86" x2="285.32" y2="82.86" stroke="#EC3127" stroke-width="0.9"/>
<line x1="294.17" y1="62.34" x2="294.17" y2="83.94" stroke="#EC3127" stroke-width="0.9"/>
<line x1="292.37" y1="62.34" x2="295.97" y2="62.34" stroke="#EC3127" stroke-width="0.9"/>
<line x1="292.37" y1="83.94" x2="295.97" y2="83.94" stroke="#EC3127" stroke-width="0.9"/>
<line x1="304.81" y1="75.3" x2="304.81" y2="88.26" stroke="#EC3127" stroke-width="0.9"/>
<line x1="303.01" y1="75.3" x2="306.61" y2="75.3" stroke="#EC3127" stroke-width="0.9"/>
<line x1="303.01" y1="88.26" x2="306.61" y2="88.26" stroke="#EC3127" stroke-width="0.9"/>
<line x1="315.45" y1="75.3" x2="315.45" y2="88.26" stroke="#EC3127" stroke-width="0.9"/>
<line x1="313.65" y1="75.3" x2="317.25" y2="75.3" stroke="#EC3127" stroke-width="0.9"/>
<line x1="313.65" y1="88.26" x2="317.25" y2="88.26" stroke="#EC3127" stroke-width="0.9"/>
<line x1="326.1" y1="74.22" x2="326.1" y2="89.34" stroke="#EC3127" stroke-width="0.9"/>
<line x1="324.3" y1="74.22" x2="327.9" y2="74.22" stroke="#EC3127" stroke-width="0.9"/>
<line x1="324.3" y1="89.34" x2="327.9" y2="89.34" stroke="#EC3127" stroke-width="0.9"/>
<path d="M209.02 74.22 L219.66 82.86 L230.31 86.1 L240.95 81.78 L251.59 83.94 L262.24 83.94 L272.88 70.98 L283.52 72.06 L294.17 73.14 L304.81 81.78 L315.45 81.78 L326.1 81.78" stroke="#EC3127" fill="none" stroke-width="1.5" stroke-linejoin="round"/>
<path d="M209.02 72.22L210.82 75.52L207.22 75.52Z" stroke="none" fill="#EC3127" stroke-width="1"/>
<path d="M219.66 80.86L221.46 84.16L217.86 84.16Z" stroke="none" fill="#EC3127" stroke-width="1"/>
<path d="M230.31 84.1L232.11 87.4L228.51 87.4Z" stroke="none" fill="#EC3127" stroke-width="1"/>
<path d="M240.95 79.78L242.75 83.08L239.15 83.08Z" stroke="none" fill="#EC3127" stroke-width="1"/>
<path d="M251.59 81.94L253.39 85.24L249.79 85.24Z" stroke="none" fill="#EC3127" stroke-width="1"/>
<path d="M262.24 81.94L264.04 85.24L260.44 85.24Z" stroke="none" fill="#EC3127" stroke-width="1"/>
<path d="M272.88 68.98L274.68 72.28L271.08 72.28Z" stroke="none" fill="#EC3127" stroke-width="1"/>
<path d="M283.52 70.06L285.32 73.36L281.72 73.36Z" stroke="none" fill="#EC3127" stroke-width="1"/>
<path d="M294.17 71.14L295.97 74.44L292.37 74.44Z" stroke="none" fill="#EC3127" stroke-width="1"/>
<path d="M304.81 79.78L306.61 83.08L303.01 83.08Z" stroke="none" fill="#EC3127" stroke-width="1"/>
<path d="M315.45 79.78L317.25 83.08L313.65 83.08Z" stroke="none" fill="#EC3127" stroke-width="1"/>
<path d="M326.1 79.78L327.9 83.08L324.3 83.08Z" stroke="none" fill="#EC3127" stroke-width="1"/>
<line x1="209.02" y1="81.78" x2="209.02" y2="94.74" stroke="#F7941D" stroke-width="0.9"/>
<line x1="207.22" y1="81.78" x2="210.82" y2="81.78" stroke="#F7941D" stroke-width="0.9"/>
<line x1="207.22" y1="94.74" x2="210.82" y2="94.74" stroke="#F7941D" stroke-width="0.9"/>
<line x1="219.66" y1="88.26" x2="219.66" y2="101.22" stroke="#F7941D" stroke-width="0.9"/>
<line x1="217.86" y1="88.26" x2="221.46" y2="88.26" stroke="#F7941D" stroke-width="0.9"/>
<line x1="217.86" y1="101.22" x2="221.46" y2="101.22" stroke="#F7941D" stroke-width="0.9"/>
<line x1="230.31" y1="91.5" x2="230.31" y2="104.46" stroke="#F7941D" stroke-width="0.9"/>
<line x1="228.51" y1="91.5" x2="232.11" y2="91.5" stroke="#F7941D" stroke-width="0.9"/>
<line x1="228.51" y1="104.46" x2="232.11" y2="104.46" stroke="#F7941D" stroke-width="0.9"/>
<line x1="240.95" y1="85.02" x2="240.95" y2="97.98" stroke="#F7941D" stroke-width="0.9"/>
<line x1="239.15" y1="85.02" x2="242.75" y2="85.02" stroke="#F7941D" stroke-width="0.9"/>
<line x1="239.15" y1="97.98" x2="242.75" y2="97.98" stroke="#F7941D" stroke-width="0.9"/>
<line x1="251.59" y1="89.34" x2="251.59" y2="102.3" stroke="#F7941D" stroke-width="0.9"/>
<line x1="249.79" y1="89.34" x2="253.39" y2="89.34" stroke="#F7941D" stroke-width="0.9"/>
<line x1="249.79" y1="102.3" x2="253.39" y2="102.3" stroke="#F7941D" stroke-width="0.9"/>
<line x1="262.24" y1="91.5" x2="262.24" y2="104.46" stroke="#F7941D" stroke-width="0.9"/>
<line x1="260.44" y1="91.5" x2="264.04" y2="91.5" stroke="#F7941D" stroke-width="0.9"/>
<line x1="260.44" y1="104.46" x2="264.04" y2="104.46" stroke="#F7941D" stroke-width="0.9"/>
<line x1="272.88" y1="79.62" x2="272.88" y2="92.58" stroke="#F7941D" stroke-width="0.9"/>
<line x1="271.08" y1="79.62" x2="274.68" y2="79.62" stroke="#F7941D" stroke-width="0.9"/>
<line x1="271.08" y1="92.58" x2="274.68" y2="92.58" stroke="#F7941D" stroke-width="0.9"/>
<line x1="283.52" y1="79.62" x2="283.52" y2="92.58" stroke="#F7941D" stroke-width="0.9"/>
<line x1="281.72" y1="79.62" x2="285.32" y2="79.62" stroke="#F7941D" stroke-width="0.9"/>
<line x1="281.72" y1="92.58" x2="285.32" y2="92.58" stroke="#F7941D" stroke-width="0.9"/>
<line x1="294.17" y1="79.62" x2="294.17" y2="92.58" stroke="#F7941D" stroke-width="0.9"/>
<line x1="292.37" y1="79.62" x2="295.97" y2="79.62" stroke="#F7941D" stroke-width="0.9"/>
<line x1="292.37" y1="92.58" x2="295.97" y2="92.58" stroke="#F7941D" stroke-width="0.9"/>
<line x1="304.81" y1="88.26" x2="304.81" y2="101.22" stroke="#F7941D" stroke-width="0.9"/>
<line x1="303.01" y1="88.26" x2="306.61" y2="88.26" stroke="#F7941D" stroke-width="0.9"/>
<line x1="303.01" y1="101.22" x2="306.61" y2="101.22" stroke="#F7941D" stroke-width="0.9"/>
<line x1="315.45" y1="88.26" x2="315.45" y2="101.22" stroke="#F7941D" stroke-width="0.9"/>
<line x1="313.65" y1="88.26" x2="317.25" y2="88.26" stroke="#F7941D" stroke-width="0.9"/>
<line x1="313.65" y1="101.22" x2="317.25" y2="101.22" stroke="#F7941D" stroke-width="0.9"/>
<line x1="326.1" y1="88.26" x2="326.1" y2="101.22" stroke="#F7941D" stroke-width="0.9"/>
<line x1="324.3" y1="88.26" x2="327.9" y2="88.26" stroke="#F7941D" stroke-width="0.9"/>
<line x1="324.3" y1="101.22" x2="327.9" y2="101.22" stroke="#F7941D" stroke-width="0.9"/>
<path d="M209.02 88.26 L219.66 94.74 L230.31 97.98 L240.95 91.5 L251.59 95.82 L262.24 97.98 L272.88 86.1 L283.52 86.1 L294.17 86.1 L304.81 94.74 L315.45 94.74 L326.1 94.74" stroke="#F7941D" fill="none" stroke-width="1.5" stroke-linejoin="round"/>
<rect x="207.42" y="86.66" width="3.2" height="3.2" stroke="none" fill="#F7941D" stroke-width="1"/>
<rect x="218.06" y="93.14" width="3.2" height="3.2" stroke="none" fill="#F7941D" stroke-width="1"/>
<rect x="228.71" y="96.38" width="3.2" height="3.2" stroke="none" fill="#F7941D" stroke-width="1"/>
<rect x="239.35" y="89.9" width="3.2" height="3.2" stroke="none" fill="#F7941D" stroke-width="1"/>
<rect x="249.99" y="94.22" width="3.2" height="3.2" stroke="none" fill="#F7941D" stroke-width="1"/>
<rect x="260.64" y="96.38" width="3.2" height="3.2" stroke="none" fill="#F7941D" stroke-width="1"/>
<rect x="271.28" y="84.5" width="3.2" height="3.2" stroke="none" fill="#F7941D" stroke-width="1"/>
<rect x="281.92" y="84.5" width="3.2" height="3.2" stroke="none" fill="#F7941D" stroke-width="1"/>
<rect x="292.57" y="84.5" width="3.2" height="3.2" stroke="none" fill="#F7941D" stroke-width="1"/>
<rect x="303.21" y="93.14" width="3.2" height="3.2" stroke="none" fill="#F7941D" stroke-width="1"/>
<rect x="313.85" y="93.14" width="3.2" height="3.2" stroke="none" fill="#F7941D" stroke-width="1"/>
<rect x="324.5" y="93.14" width="3.2" height="3.2" stroke="none" fill="#F7941D" stroke-width="1"/>
<line x1="209.02" y1="96.9" x2="209.02" y2="107.7" stroke="#000" stroke-width="0.9"/>
<line x1="207.22" y1="96.9" x2="210.82" y2="96.9" stroke="#000" stroke-width="0.9"/>
<line x1="207.22" y1="107.7" x2="210.82" y2="107.7" stroke="#000" stroke-width="0.9"/>
<line x1="219.66" y1="100.14" x2="219.66" y2="110.94" stroke="#000" stroke-width="0.9"/>
<line x1="217.86" y1="100.14" x2="221.46" y2="100.14" stroke="#000" stroke-width="0.9"/>
<line x1="217.86" y1="110.94" x2="221.46" y2="110.94" stroke="#000" stroke-width="0.9"/>
<line x1="230.31" y1="101.22" x2="230.31" y2="112.02" stroke="#000" stroke-width="0.9"/>
<line x1="228.51" y1="101.22" x2="232.11" y2="101.22" stroke="#000" stroke-width="0.9"/>
<line x1="228.51" y1="112.02" x2="232.11" y2="112.02" stroke="#000" stroke-width="0.9"/>
<line x1="240.95" y1="97.98" x2="240.95" y2="104.46" stroke="#000" stroke-width="0.9"/>
<line x1="239.15" y1="97.98" x2="242.75" y2="97.98" stroke="#000" stroke-width="0.9"/>
<line x1="239.15" y1="104.46" x2="242.75" y2="104.46" stroke="#000" stroke-width="0.9"/>
<line x1="251.59" y1="100.14" x2="251.59" y2="106.62" stroke="#000" stroke-width="0.9"/>
<line x1="249.79" y1="100.14" x2="253.39" y2="100.14" stroke="#000" stroke-width="0.9"/>
<line x1="249.79" y1="106.62" x2="253.39" y2="106.62" stroke="#000" stroke-width="0.9"/>
<line x1="262.24" y1="102.3" x2="262.24" y2="106.62" stroke="#000" stroke-width="0.9"/>
<line x1="260.44" y1="102.3" x2="264.04" y2="102.3" stroke="#000" stroke-width="0.9"/>
<line x1="260.44" y1="106.62" x2="264.04" y2="106.62" stroke="#000" stroke-width="0.9"/>
<line x1="272.88" y1="92.58" x2="272.88" y2="101.22" stroke="#000" stroke-width="0.9"/>
<line x1="271.08" y1="92.58" x2="274.68" y2="92.58" stroke="#000" stroke-width="0.9"/>
<line x1="271.08" y1="101.22" x2="274.68" y2="101.22" stroke="#000" stroke-width="0.9"/>
<line x1="283.52" y1="92.58" x2="283.52" y2="101.22" stroke="#000" stroke-width="0.9"/>
<line x1="281.72" y1="92.58" x2="285.32" y2="92.58" stroke="#000" stroke-width="0.9"/>
<line x1="281.72" y1="101.22" x2="285.32" y2="101.22" stroke="#000" stroke-width="0.9"/>
<line x1="294.17" y1="92.15" x2="294.17" y2="100.79" stroke="#000" stroke-width="0.9"/>
<line x1="292.37" y1="92.15" x2="295.97" y2="92.15" stroke="#000" stroke-width="0.9"/>
<line x1="292.37" y1="100.79" x2="295.97" y2="100.79" stroke="#000" stroke-width="0.9"/>
<line x1="304.81" y1="99.49" x2="304.81" y2="105.97" stroke="#000" stroke-width="0.9"/>
<line x1="303.01" y1="99.49" x2="306.61" y2="99.49" stroke="#000" stroke-width="0.9"/>
<line x1="303.01" y1="105.97" x2="306.61" y2="105.97" stroke="#000" stroke-width="0.9"/>
<line x1="315.45" y1="99.49" x2="315.45" y2="105.97" stroke="#000" stroke-width="0.9"/>
<line x1="313.65" y1="99.49" x2="317.25" y2="99.49" stroke="#000" stroke-width="0.9"/>
<line x1="313.65" y1="105.97" x2="317.25" y2="105.97" stroke="#000" stroke-width="0.9"/>
<line x1="326.1" y1="99.49" x2="326.1" y2="105.97" stroke="#000" stroke-width="0.9"/>
<line x1="324.3" y1="99.49" x2="327.9" y2="99.49" stroke="#000" stroke-width="0.9"/>
<line x1="324.3" y1="105.97" x2="327.9" y2="105.97" stroke="#000" stroke-width="0.9"/>
<path d="M209.02 102.3 L219.66 105.54 L230.31 106.62 L240.95 101.22 L251.59 103.38 L262.24 104.46 L272.88 96.9 L283.52 96.9 L294.17 96.47 L304.81 102.73 L315.45 102.73 L326.1 102.73" stroke="#000" fill="none" stroke-width="1.5" stroke-linejoin="round"/>
<circle cx="209.02" cy="102.3" r="1.6" fill="#000"/>
<circle cx="219.66" cy="105.54" r="1.6" fill="#000"/>
<circle cx="230.31" cy="106.62" r="1.6" fill="#000"/>
<circle cx="240.95" cy="101.22" r="1.6" fill="#000"/>
<circle cx="251.59" cy="103.38" r="1.6" fill="#000"/>
<circle cx="262.24" cy="104.46" r="1.6" fill="#000"/>
<circle cx="272.88" cy="96.9" r="1.6" fill="#000"/>
<circle cx="283.52" cy="96.9" r="1.6" fill="#000"/>
<circle cx="294.17" cy="96.47" r="1.6" fill="#000"/>
<circle cx="304.81" cy="102.73" r="1.6" fill="#000"/>
<circle cx="315.45" cy="102.73" r="1.6" fill="#000"/>
<circle cx="326.1" cy="102.73" r="1.6" fill="#000"/>
<line x1="250.3" y1="5.8" x2="269.3" y2="5.8" stroke="#000" stroke-width="1.3"/>
<circle cx="259.8" cy="5.8" r="1.6" fill="#000"/>
<text transform="translate(274.5 5.8) scale(0.8870 1)" y="3.31" font-size="9.2">Control</text>
<line x1="250.3" y1="17.5" x2="269.3" y2="17.5" stroke="#F7941D" stroke-width="1.3"/>
<rect x="258.2" y="15.9" width="3.2" height="3.2" stroke="none" fill="#F7941D" stroke-width="1"/>
<text transform="translate(274.5 17.5) scale(0.8870 1)" y="3.31" font-size="9.2">FABP7 100 ng/ml</text>
<line x1="250.3" y1="29.2" x2="269.3" y2="29.2" stroke="#EC3127" stroke-width="1.3"/>
<path d="M259.8 27.2L261.6 30.5L258 30.5Z" stroke="none" fill="#EC3127" stroke-width="1"/>
<text transform="translate(274.5 29.2) scale(0.8870 1)" y="3.31" font-size="9.2">FABP7 300 ng/ml</text>
<line x1="250.3" y1="39.4" x2="269.3" y2="39.4" stroke="#4A8FD8" stroke-width="1.3"/>
<path d="M259.8 41.4L261.6 38.1L258 38.1Z" stroke="none" fill="#4A8FD8" stroke-width="1"/>
<text transform="translate(274.5 39.4) scale(0.8870 1)" y="3.31" font-size="9.2">LPS 100 ng/ml</text>
<text transform="translate(2 214.3)" font-size="10.5" font-weight="bold">f</text>
<line x1="38" y1="264.61" x2="38" y2="351.13" stroke="#000" stroke-width="1.3"/>
<line x1="38" y1="329.5" x2="167.4" y2="329.5" stroke="#000" stroke-width="1.3"/>
<line x1="35" y1="264.61" x2="38" y2="264.61" stroke="#000" stroke-width="1"/>
<text transform="translate(31 264.61) scale(0.8870 1)" y="3.31" font-size="9.2" text-anchor="end">150</text>
<line x1="35" y1="286.24" x2="38" y2="286.24" stroke="#000" stroke-width="1"/>
<text transform="translate(31 286.24) scale(0.8870 1)" y="3.31" font-size="9.2" text-anchor="end">100</text>
<line x1="35" y1="307.87" x2="38" y2="307.87" stroke="#000" stroke-width="1"/>
<text transform="translate(31 307.87) scale(0.8870 1)" y="3.31" font-size="9.2" text-anchor="end">50</text>
<line x1="35" y1="329.5" x2="38" y2="329.5" stroke="#000" stroke-width="1"/>
<text transform="translate(31 329.5) scale(0.8870 1)" y="3.31" font-size="9.2" text-anchor="end">0</text>
<line x1="35" y1="351.13" x2="38" y2="351.13" stroke="#000" stroke-width="1"/>
<text transform="translate(31 351.13) scale(0.8870 1)" y="3.31" font-size="9.2" text-anchor="end">-50</text>
<line x1="70.35" y1="329.5" x2="70.35" y2="332.5" stroke="#000" stroke-width="1"/>
<text transform="translate(70.35 340.8) scale(0.8870 1)" y="3.31" font-size="9.2" text-anchor="middle">20</text>
<line x1="102.7" y1="329.5" x2="102.7" y2="332.5" stroke="#000" stroke-width="1"/>
<text transform="translate(102.7 340.8) scale(0.8870 1)" y="3.31" font-size="9.2" text-anchor="middle">40</text>
<line x1="135.05" y1="329.5" x2="135.05" y2="332.5" stroke="#000" stroke-width="1"/>
<text transform="translate(135.05 340.8) scale(0.8870 1)" y="3.31" font-size="9.2" text-anchor="middle">60</text>
<line x1="167.4" y1="329.5" x2="167.4" y2="332.5" stroke="#000" stroke-width="1"/>
<text transform="translate(167.4 340.8) scale(0.8870 1)" y="3.31" font-size="9.2" text-anchor="middle">80</text>
<text transform="translate(102.7 351.6) scale(0.8870 1)" y="3.31" font-size="9.2" text-anchor="middle">Time (minutes)</text>
<text transform="translate(7.4 310.07) rotate(-90) scale(0.8870 1)" y="3.31" font-size="9.2" text-anchor="middle">OCR (pmol/min/μg protein)</text>
<text transform="translate(54 267.8) scale(0.8870 1)" y="3.31" font-size="9.2">OCR</text>
<line x1="39.62" y1="321.28" x2="39.62" y2="323.88" stroke="#4A8FD8" stroke-width="0.9"/>
<line x1="37.82" y1="321.28" x2="41.42" y2="321.28" stroke="#4A8FD8" stroke-width="0.9"/>
<line x1="37.82" y1="323.88" x2="41.42" y2="323.88" stroke="#4A8FD8" stroke-width="0.9"/>
<line x1="50.24" y1="322.15" x2="50.24" y2="324.74" stroke="#4A8FD8" stroke-width="0.9"/>
<line x1="48.44" y1="322.15" x2="52.04" y2="322.15" stroke="#4A8FD8" stroke-width="0.9"/>
<line x1="48.44" y1="324.74" x2="52.04" y2="324.74" stroke="#4A8FD8" stroke-width="0.9"/>
<line x1="60.87" y1="323.44" x2="60.87" y2="326.04" stroke="#4A8FD8" stroke-width="0.9"/>
<line x1="59.07" y1="323.44" x2="62.67" y2="323.44" stroke="#4A8FD8" stroke-width="0.9"/>
<line x1="59.07" y1="326.04" x2="62.67" y2="326.04" stroke="#4A8FD8" stroke-width="0.9"/>
<line x1="71.5" y1="327.34" x2="71.5" y2="329.07" stroke="#4A8FD8" stroke-width="0.9"/>
<line x1="69.7" y1="327.34" x2="73.3" y2="327.34" stroke="#4A8FD8" stroke-width="0.9"/>
<line x1="69.7" y1="329.07" x2="73.3" y2="329.07" stroke="#4A8FD8" stroke-width="0.9"/>
<line x1="82.13" y1="327.34" x2="82.13" y2="329.07" stroke="#4A8FD8" stroke-width="0.9"/>
<line x1="80.33" y1="327.34" x2="83.93" y2="327.34" stroke="#4A8FD8" stroke-width="0.9"/>
<line x1="80.33" y1="329.07" x2="83.93" y2="329.07" stroke="#4A8FD8" stroke-width="0.9"/>
<line x1="92.75" y1="327.34" x2="92.75" y2="329.07" stroke="#4A8FD8" stroke-width="0.9"/>
<line x1="90.95" y1="327.34" x2="94.55" y2="327.34" stroke="#4A8FD8" stroke-width="0.9"/>
<line x1="90.95" y1="329.07" x2="94.55" y2="329.07" stroke="#4A8FD8" stroke-width="0.9"/>
<line x1="103.38" y1="315.22" x2="103.38" y2="318.69" stroke="#4A8FD8" stroke-width="0.9"/>
<line x1="101.58" y1="315.22" x2="105.18" y2="315.22" stroke="#4A8FD8" stroke-width="0.9"/>
<line x1="101.58" y1="318.69" x2="105.18" y2="318.69" stroke="#4A8FD8" stroke-width="0.9"/>
<line x1="114.01" y1="317.82" x2="114.01" y2="321.28" stroke="#4A8FD8" stroke-width="0.9"/>
<line x1="112.21" y1="317.82" x2="115.81" y2="317.82" stroke="#4A8FD8" stroke-width="0.9"/>
<line x1="112.21" y1="321.28" x2="115.81" y2="321.28" stroke="#4A8FD8" stroke-width="0.9"/>
<line x1="124.63" y1="319.12" x2="124.63" y2="322.58" stroke="#4A8FD8" stroke-width="0.9"/>
<line x1="122.83" y1="319.12" x2="126.43" y2="319.12" stroke="#4A8FD8" stroke-width="0.9"/>
<line x1="122.83" y1="322.58" x2="126.43" y2="322.58" stroke="#4A8FD8" stroke-width="0.9"/>
<line x1="135.26" y1="327.34" x2="135.26" y2="329.07" stroke="#4A8FD8" stroke-width="0.9"/>
<line x1="133.46" y1="327.34" x2="137.06" y2="327.34" stroke="#4A8FD8" stroke-width="0.9"/>
<line x1="133.46" y1="329.07" x2="137.06" y2="329.07" stroke="#4A8FD8" stroke-width="0.9"/>
<line x1="145.89" y1="327.34" x2="145.89" y2="329.07" stroke="#4A8FD8" stroke-width="0.9"/>
<line x1="144.09" y1="327.34" x2="147.69" y2="327.34" stroke="#4A8FD8" stroke-width="0.9"/>
<line x1="144.09" y1="329.07" x2="147.69" y2="329.07" stroke="#4A8FD8" stroke-width="0.9"/>
<line x1="156.51" y1="327.34" x2="156.51" y2="329.07" stroke="#4A8FD8" stroke-width="0.9"/>
<line x1="154.71" y1="327.34" x2="158.31" y2="327.34" stroke="#4A8FD8" stroke-width="0.9"/>
<line x1="154.71" y1="329.07" x2="158.31" y2="329.07" stroke="#4A8FD8" stroke-width="0.9"/>
<path d="M39.62 322.58 L50.24 323.44 L60.87 324.74 L71.5 328.2 L82.13 328.2 L92.75 328.2 L103.38 316.95 L114.01 319.55 L124.63 320.85 L135.26 328.2 L145.89 328.2 L156.51 328.2" stroke="#4A8FD8" fill="none" stroke-width="1.5" stroke-linejoin="round"/>
<path d="M39.62 324.58L41.42 321.28L37.82 321.28Z" stroke="none" fill="#4A8FD8" stroke-width="1"/>
<path d="M50.24 325.44L52.04 322.14L48.44 322.14Z" stroke="none" fill="#4A8FD8" stroke-width="1"/>
<path d="M60.87 326.74L62.67 323.44L59.07 323.44Z" stroke="none" fill="#4A8FD8" stroke-width="1"/>
<path d="M71.5 330.2L73.3 326.9L69.7 326.9Z" stroke="none" fill="#4A8FD8" stroke-width="1"/>
<path d="M82.13 330.2L83.93 326.9L80.33 326.9Z" stroke="none" fill="#4A8FD8" stroke-width="1"/>
<path d="M92.75 330.2L94.55 326.9L90.95 326.9Z" stroke="none" fill="#4A8FD8" stroke-width="1"/>
<path d="M103.38 318.95L105.18 315.65L101.58 315.65Z" stroke="none" fill="#4A8FD8" stroke-width="1"/>
<path d="M114.01 321.55L115.81 318.25L112.21 318.25Z" stroke="none" fill="#4A8FD8" stroke-width="1"/>
<path d="M124.63 322.85L126.43 319.55L122.83 319.55Z" stroke="none" fill="#4A8FD8" stroke-width="1"/>
<path d="M135.26 330.2L137.06 326.9L133.46 326.9Z" stroke="none" fill="#4A8FD8" stroke-width="1"/>
<path d="M145.89 330.2L147.69 326.9L144.09 326.9Z" stroke="none" fill="#4A8FD8" stroke-width="1"/>
<path d="M156.51 330.2L158.31 326.9L154.71 326.9Z" stroke="none" fill="#4A8FD8" stroke-width="1"/>
<line x1="39.62" y1="307.87" x2="39.62" y2="316.52" stroke="#239A5B" stroke-width="0.9"/>
<line x1="37.82" y1="307.87" x2="41.42" y2="307.87" stroke="#239A5B" stroke-width="0.9"/>
<line x1="37.82" y1="316.52" x2="41.42" y2="316.52" stroke="#239A5B" stroke-width="0.9"/>
<line x1="50.24" y1="308.74" x2="50.24" y2="317.39" stroke="#239A5B" stroke-width="0.9"/>
<line x1="48.44" y1="308.74" x2="52.04" y2="308.74" stroke="#239A5B" stroke-width="0.9"/>
<line x1="48.44" y1="317.39" x2="52.04" y2="317.39" stroke="#239A5B" stroke-width="0.9"/>
<line x1="60.87" y1="308.74" x2="60.87" y2="317.39" stroke="#239A5B" stroke-width="0.9"/>
<line x1="59.07" y1="308.74" x2="62.67" y2="308.74" stroke="#239A5B" stroke-width="0.9"/>
<line x1="59.07" y1="317.39" x2="62.67" y2="317.39" stroke="#239A5B" stroke-width="0.9"/>
<line x1="71.5" y1="323.44" x2="71.5" y2="331.23" stroke="#239A5B" stroke-width="0.9"/>
<line x1="69.7" y1="323.44" x2="73.3" y2="323.44" stroke="#239A5B" stroke-width="0.9"/>
<line x1="69.7" y1="331.23" x2="73.3" y2="331.23" stroke="#239A5B" stroke-width="0.9"/>
<line x1="82.13" y1="323.44" x2="82.13" y2="331.23" stroke="#239A5B" stroke-width="0.9"/>
<line x1="80.33" y1="323.44" x2="83.93" y2="323.44" stroke="#239A5B" stroke-width="0.9"/>
<line x1="80.33" y1="331.23" x2="83.93" y2="331.23" stroke="#239A5B" stroke-width="0.9"/>
<line x1="92.75" y1="323.44" x2="92.75" y2="331.23" stroke="#239A5B" stroke-width="0.9"/>
<line x1="90.95" y1="323.44" x2="94.55" y2="323.44" stroke="#239A5B" stroke-width="0.9"/>
<line x1="90.95" y1="331.23" x2="94.55" y2="331.23" stroke="#239A5B" stroke-width="0.9"/>
<line x1="103.38" y1="287.97" x2="103.38" y2="305.27" stroke="#239A5B" stroke-width="0.9"/>
<line x1="101.58" y1="287.97" x2="105.18" y2="287.97" stroke="#239A5B" stroke-width="0.9"/>
<line x1="101.58" y1="305.27" x2="105.18" y2="305.27" stroke="#239A5B" stroke-width="0.9"/>
<line x1="114.01" y1="294.89" x2="114.01" y2="307" stroke="#239A5B" stroke-width="0.9"/>
<line x1="112.21" y1="294.89" x2="115.81" y2="294.89" stroke="#239A5B" stroke-width="0.9"/>
<line x1="112.21" y1="307" x2="115.81" y2="307" stroke="#239A5B" stroke-width="0.9"/>
<line x1="124.63" y1="297.49" x2="124.63" y2="308.74" stroke="#239A5B" stroke-width="0.9"/>
<line x1="122.83" y1="297.49" x2="126.43" y2="297.49" stroke="#239A5B" stroke-width="0.9"/>
<line x1="122.83" y1="308.74" x2="126.43" y2="308.74" stroke="#239A5B" stroke-width="0.9"/>
<line x1="135.26" y1="323.01" x2="135.26" y2="329.93" stroke="#239A5B" stroke-width="0.9"/>
<line x1="133.46" y1="323.01" x2="137.06" y2="323.01" stroke="#239A5B" stroke-width="0.9"/>
<line x1="133.46" y1="329.93" x2="137.06" y2="329.93" stroke="#239A5B" stroke-width="0.9"/>
<line x1="145.89" y1="323.01" x2="145.89" y2="329.93" stroke="#239A5B" stroke-width="0.9"/>
<line x1="144.09" y1="323.01" x2="147.69" y2="323.01" stroke="#239A5B" stroke-width="0.9"/>
<line x1="144.09" y1="329.93" x2="147.69" y2="329.93" stroke="#239A5B" stroke-width="0.9"/>
<line x1="156.51" y1="323.01" x2="156.51" y2="329.93" stroke="#239A5B" stroke-width="0.9"/>
<line x1="154.71" y1="323.01" x2="158.31" y2="323.01" stroke="#239A5B" stroke-width="0.9"/>
<line x1="154.71" y1="329.93" x2="158.31" y2="329.93" stroke="#239A5B" stroke-width="0.9"/>
<path d="M39.62 312.2 L50.24 313.06 L60.87 313.06 L71.5 327.34 L82.13 327.34 L92.75 327.34 L103.38 296.62 L114.01 300.95 L124.63 303.11 L135.26 326.47 L145.89 326.47 L156.51 326.47" stroke="#239A5B" fill="none" stroke-width="1.5" stroke-linejoin="round"/>
<path d="M39.62 310.2L41.42 313.5L37.82 313.5Z" stroke="none" fill="#239A5B" stroke-width="1"/>
<path d="M50.24 311.06L52.04 314.36L48.44 314.36Z" stroke="none" fill="#239A5B" stroke-width="1"/>
<path d="M60.87 311.06L62.67 314.36L59.07 314.36Z" stroke="none" fill="#239A5B" stroke-width="1"/>
<path d="M71.5 325.34L73.3 328.64L69.7 328.64Z" stroke="none" fill="#239A5B" stroke-width="1"/>
<path d="M82.13 325.34L83.93 328.64L80.33 328.64Z" stroke="none" fill="#239A5B" stroke-width="1"/>
<path d="M92.75 325.34L94.55 328.64L90.95 328.64Z" stroke="none" fill="#239A5B" stroke-width="1"/>
<path d="M103.38 294.62L105.18 297.92L101.58 297.92Z" stroke="none" fill="#239A5B" stroke-width="1"/>
<path d="M114.01 298.95L115.81 302.25L112.21 302.25Z" stroke="none" fill="#239A5B" stroke-width="1"/>
<path d="M124.63 301.11L126.43 304.41L122.83 304.41Z" stroke="none" fill="#239A5B" stroke-width="1"/>
<path d="M135.26 324.47L137.06 327.77L133.46 327.77Z" stroke="none" fill="#239A5B" stroke-width="1"/>
<path d="M145.89 324.47L147.69 327.77L144.09 327.77Z" stroke="none" fill="#239A5B" stroke-width="1"/>
<path d="M156.51 324.47L158.31 327.77L154.71 327.77Z" stroke="none" fill="#239A5B" stroke-width="1"/>
<line x1="39.62" y1="310.47" x2="39.62" y2="317.39" stroke="#D77FC0" stroke-width="0.9"/>
<line x1="37.82" y1="310.47" x2="41.42" y2="310.47" stroke="#D77FC0" stroke-width="0.9"/>
<line x1="37.82" y1="317.39" x2="41.42" y2="317.39" stroke="#D77FC0" stroke-width="0.9"/>
<line x1="50.24" y1="311.33" x2="50.24" y2="318.25" stroke="#D77FC0" stroke-width="0.9"/>
<line x1="48.44" y1="311.33" x2="52.04" y2="311.33" stroke="#D77FC0" stroke-width="0.9"/>
<line x1="48.44" y1="318.25" x2="52.04" y2="318.25" stroke="#D77FC0" stroke-width="0.9"/>
<line x1="60.87" y1="311.33" x2="60.87" y2="318.25" stroke="#D77FC0" stroke-width="0.9"/>
<line x1="59.07" y1="311.33" x2="62.67" y2="311.33" stroke="#D77FC0" stroke-width="0.9"/>
<line x1="59.07" y1="318.25" x2="62.67" y2="318.25" stroke="#D77FC0" stroke-width="0.9"/>
<line x1="71.5" y1="324.74" x2="71.5" y2="329.93" stroke="#D77FC0" stroke-width="0.9"/>
<line x1="69.7" y1="324.74" x2="73.3" y2="324.74" stroke="#D77FC0" stroke-width="0.9"/>
<line x1="69.7" y1="329.93" x2="73.3" y2="329.93" stroke="#D77FC0" stroke-width="0.9"/>
<line x1="82.13" y1="324.74" x2="82.13" y2="329.93" stroke="#D77FC0" stroke-width="0.9"/>
<line x1="80.33" y1="324.74" x2="83.93" y2="324.74" stroke="#D77FC0" stroke-width="0.9"/>
<line x1="80.33" y1="329.93" x2="83.93" y2="329.93" stroke="#D77FC0" stroke-width="0.9"/>
<line x1="92.75" y1="324.74" x2="92.75" y2="329.93" stroke="#D77FC0" stroke-width="0.9"/>
<line x1="90.95" y1="324.74" x2="94.55" y2="324.74" stroke="#D77FC0" stroke-width="0.9"/>
<line x1="90.95" y1="329.93" x2="94.55" y2="329.93" stroke="#D77FC0" stroke-width="0.9"/>
<line x1="103.38" y1="294.03" x2="103.38" y2="304.41" stroke="#D77FC0" stroke-width="0.9"/>
<line x1="101.58" y1="294.03" x2="105.18" y2="294.03" stroke="#D77FC0" stroke-width="0.9"/>
<line x1="101.58" y1="304.41" x2="105.18" y2="304.41" stroke="#D77FC0" stroke-width="0.9"/>
<line x1="114.01" y1="298.35" x2="114.01" y2="307" stroke="#D77FC0" stroke-width="0.9"/>
<line x1="112.21" y1="298.35" x2="115.81" y2="298.35" stroke="#D77FC0" stroke-width="0.9"/>
<line x1="112.21" y1="307" x2="115.81" y2="307" stroke="#D77FC0" stroke-width="0.9"/>
<line x1="124.63" y1="300.08" x2="124.63" y2="308.74" stroke="#D77FC0" stroke-width="0.9"/>
<line x1="122.83" y1="300.08" x2="126.43" y2="300.08" stroke="#D77FC0" stroke-width="0.9"/>
<line x1="122.83" y1="308.74" x2="126.43" y2="308.74" stroke="#D77FC0" stroke-width="0.9"/>
<line x1="135.26" y1="323.44" x2="135.26" y2="328.63" stroke="#D77FC0" stroke-width="0.9"/>
<line x1="133.46" y1="323.44" x2="137.06" y2="323.44" stroke="#D77FC0" stroke-width="0.9"/>
<line x1="133.46" y1="328.63" x2="137.06" y2="328.63" stroke="#D77FC0" stroke-width="0.9"/>
<line x1="145.89" y1="323.44" x2="145.89" y2="328.63" stroke="#D77FC0" stroke-width="0.9"/>
<line x1="144.09" y1="323.44" x2="147.69" y2="323.44" stroke="#D77FC0" stroke-width="0.9"/>
<line x1="144.09" y1="328.63" x2="147.69" y2="328.63" stroke="#D77FC0" stroke-width="0.9"/>
<line x1="156.51" y1="323.44" x2="156.51" y2="328.63" stroke="#D77FC0" stroke-width="0.9"/>
<line x1="154.71" y1="323.44" x2="158.31" y2="323.44" stroke="#D77FC0" stroke-width="0.9"/>
<line x1="154.71" y1="328.63" x2="158.31" y2="328.63" stroke="#D77FC0" stroke-width="0.9"/>
<path d="M39.62 313.93 L50.24 314.79 L60.87 314.79 L71.5 327.34 L82.13 327.34 L92.75 327.34 L103.38 299.22 L114.01 302.68 L124.63 304.41 L135.26 326.04 L145.89 326.04 L156.51 326.04" stroke="#D77FC0" fill="none" stroke-width="1.5" stroke-linejoin="round"/>
<rect x="37.62" y="311.93" width="4" height="4" stroke="none" fill="#D77FC0" stroke-width="1"/>
<rect x="48.24" y="312.79" width="4" height="4" stroke="none" fill="#D77FC0" stroke-width="1"/>
<rect x="58.87" y="312.79" width="4" height="4" stroke="none" fill="#D77FC0" stroke-width="1"/>
<rect x="69.5" y="325.34" width="4" height="4" stroke="none" fill="#D77FC0" stroke-width="1"/>
<rect x="80.13" y="325.34" width="4" height="4" stroke="none" fill="#D77FC0" stroke-width="1"/>
<rect x="90.75" y="325.34" width="4" height="4" stroke="none" fill="#D77FC0" stroke-width="1"/>
<rect x="101.38" y="297.22" width="4" height="4" stroke="none" fill="#D77FC0" stroke-width="1"/>
<rect x="112.01" y="300.68" width="4" height="4" stroke="none" fill="#D77FC0" stroke-width="1"/>
<rect x="122.63" y="302.41" width="4" height="4" stroke="none" fill="#D77FC0" stroke-width="1"/>
<rect x="133.26" y="324.04" width="4" height="4" stroke="none" fill="#D77FC0" stroke-width="1"/>
<rect x="143.89" y="324.04" width="4" height="4" stroke="none" fill="#D77FC0" stroke-width="1"/>
<rect x="154.51" y="324.04" width="4" height="4" stroke="none" fill="#D77FC0" stroke-width="1"/>
<line x1="39.62" y1="313.93" x2="39.62" y2="318.25" stroke="#000" stroke-width="0.9"/>
<line x1="37.82" y1="313.93" x2="41.42" y2="313.93" stroke="#000" stroke-width="0.9"/>
<line x1="37.82" y1="318.25" x2="41.42" y2="318.25" stroke="#000" stroke-width="0.9"/>
<line x1="50.24" y1="313.93" x2="50.24" y2="318.25" stroke="#000" stroke-width="0.9"/>
<line x1="48.44" y1="313.93" x2="52.04" y2="313.93" stroke="#000" stroke-width="0.9"/>
<line x1="48.44" y1="318.25" x2="52.04" y2="318.25" stroke="#000" stroke-width="0.9"/>
<line x1="60.87" y1="313.93" x2="60.87" y2="318.25" stroke="#000" stroke-width="0.9"/>
<line x1="59.07" y1="313.93" x2="62.67" y2="313.93" stroke="#000" stroke-width="0.9"/>
<line x1="59.07" y1="318.25" x2="62.67" y2="318.25" stroke="#000" stroke-width="0.9"/>
<line x1="71.5" y1="325.61" x2="71.5" y2="328.2" stroke="#000" stroke-width="0.9"/>
<line x1="69.7" y1="325.61" x2="73.3" y2="325.61" stroke="#000" stroke-width="0.9"/>
<line x1="69.7" y1="328.2" x2="73.3" y2="328.2" stroke="#000" stroke-width="0.9"/>
<line x1="82.13" y1="325.61" x2="82.13" y2="328.2" stroke="#000" stroke-width="0.9"/>
<line x1="80.33" y1="325.61" x2="83.93" y2="325.61" stroke="#000" stroke-width="0.9"/>
<line x1="80.33" y1="328.2" x2="83.93" y2="328.2" stroke="#000" stroke-width="0.9"/>
<line x1="92.75" y1="325.61" x2="92.75" y2="328.2" stroke="#000" stroke-width="0.9"/>
<line x1="90.95" y1="325.61" x2="94.55" y2="325.61" stroke="#000" stroke-width="0.9"/>
<line x1="90.95" y1="328.2" x2="94.55" y2="328.2" stroke="#000" stroke-width="0.9"/>
<line x1="103.38" y1="298.35" x2="103.38" y2="306.14" stroke="#000" stroke-width="0.9"/>
<line x1="101.58" y1="298.35" x2="105.18" y2="298.35" stroke="#000" stroke-width="0.9"/>
<line x1="101.58" y1="306.14" x2="105.18" y2="306.14" stroke="#000" stroke-width="0.9"/>
<line x1="114.01" y1="303.11" x2="114.01" y2="309.17" stroke="#000" stroke-width="0.9"/>
<line x1="112.21" y1="303.11" x2="115.81" y2="303.11" stroke="#000" stroke-width="0.9"/>
<line x1="112.21" y1="309.17" x2="115.81" y2="309.17" stroke="#000" stroke-width="0.9"/>
<line x1="124.63" y1="304.84" x2="124.63" y2="310.9" stroke="#000" stroke-width="0.9"/>
<line x1="122.83" y1="304.84" x2="126.43" y2="304.84" stroke="#000" stroke-width="0.9"/>
<line x1="122.83" y1="310.9" x2="126.43" y2="310.9" stroke="#000" stroke-width="0.9"/>
<line x1="135.26" y1="325.61" x2="135.26" y2="328.2" stroke="#000" stroke-width="0.9"/>
<line x1="133.46" y1="325.61" x2="137.06" y2="325.61" stroke="#000" stroke-width="0.9"/>
<line x1="133.46" y1="328.2" x2="137.06" y2="328.2" stroke="#000" stroke-width="0.9"/>
<line x1="145.89" y1="325.61" x2="145.89" y2="328.2" stroke="#000" stroke-width="0.9"/>
<line x1="144.09" y1="325.61" x2="147.69" y2="325.61" stroke="#000" stroke-width="0.9"/>
<line x1="144.09" y1="328.2" x2="147.69" y2="328.2" stroke="#000" stroke-width="0.9"/>
<line x1="156.51" y1="325.61" x2="156.51" y2="328.2" stroke="#000" stroke-width="0.9"/>
<line x1="154.71" y1="325.61" x2="158.31" y2="325.61" stroke="#000" stroke-width="0.9"/>
<line x1="154.71" y1="328.2" x2="158.31" y2="328.2" stroke="#000" stroke-width="0.9"/>
<path d="M39.62 316.09 L50.24 316.09 L60.87 316.09 L71.5 326.9 L82.13 326.9 L92.75 326.9 L103.38 302.25 L114.01 306.14 L124.63 307.87 L135.26 326.9 L145.89 326.9 L156.51 326.9" stroke="#000" fill="none" stroke-width="1.5" stroke-linejoin="round"/>
<circle cx="39.62" cy="316.09" r="1.6" fill="#000"/>
<circle cx="50.24" cy="316.09" r="1.6" fill="#000"/>
<circle cx="60.87" cy="316.09" r="1.6" fill="#000"/>
<circle cx="71.5" cy="326.9" r="1.6" fill="#000"/>
<circle cx="82.13" cy="326.9" r="1.6" fill="#000"/>
<circle cx="92.75" cy="326.9" r="1.6" fill="#000"/>
<circle cx="103.38" cy="302.25" r="1.6" fill="#000"/>
<circle cx="114.01" cy="306.14" r="1.6" fill="#000"/>
<circle cx="124.63" cy="307.87" r="1.6" fill="#000"/>
<circle cx="135.26" cy="326.9" r="1.6" fill="#000"/>
<circle cx="145.89" cy="326.9" r="1.6" fill="#000"/>
<circle cx="156.51" cy="326.9" r="1.6" fill="#000"/>
<line x1="78.1" y1="219.2" x2="97.9" y2="219.2" stroke="#000" stroke-width="1.3"/>
<circle cx="88" cy="219.2" r="1.6" fill="#000"/>
<text transform="translate(105 219.2) scale(0.8870 1)" y="3.31" font-size="9.2">Control</text>
<line x1="78.1" y1="230.2" x2="97.9" y2="230.2" stroke="#D77FC0" stroke-width="1.3"/>
<rect x="85.3" y="227.5" width="5.4" height="5.4" stroke="none" fill="#D77FC0" stroke-width="1"/>
<text transform="translate(105 230.2) scale(0.8870 1)" y="3.31" font-size="9.2">FABP4 25 ng/ml</text>
<line x1="78.1" y1="242.7" x2="97.9" y2="242.7" stroke="#239A5B" stroke-width="1.3"/>
<path d="M88 240.7L89.8 244L86.2 244Z" stroke="none" fill="#239A5B" stroke-width="1"/>
<text transform="translate(105 242.7) scale(0.8870 1)" y="3.31" font-size="9.2">FABP4 100 ng/ml</text>
<line x1="78.1" y1="254.2" x2="97.9" y2="254.2" stroke="#4A8FD8" stroke-width="1.3"/>
<path d="M88 256.2L89.8 252.9L86.2 252.9Z" stroke="none" fill="#4A8FD8" stroke-width="1"/>
<text transform="translate(105 254.2) scale(0.8870 1)" y="3.31" font-size="9.2">LPS 100 ng/ml</text>
<text transform="translate(178.4 213.8)" font-size="10.5">g</text>
<line x1="212.4" y1="257.1" x2="212.4" y2="343.8" stroke="#000" stroke-width="1.3"/>
<line x1="212.4" y1="343.8" x2="342.24" y2="343.8" stroke="#000" stroke-width="1.3"/>
<line x1="209.4" y1="257.1" x2="212.4" y2="257.1" stroke="#000" stroke-width="1"/>
<text transform="translate(205.4 257.1) scale(0.8870 1)" y="3.31" font-size="9.2" text-anchor="end">30</text>
<line x1="209.4" y1="286" x2="212.4" y2="286" stroke="#000" stroke-width="1"/>
<text transform="translate(205.4 286) scale(0.8870 1)" y="3.31" font-size="9.2" text-anchor="end">20</text>
<line x1="209.4" y1="314.9" x2="212.4" y2="314.9" stroke="#000" stroke-width="1"/>
<text transform="translate(205.4 314.9) scale(0.8870 1)" y="3.31" font-size="9.2" text-anchor="end">10</text>
<line x1="209.4" y1="343.8" x2="212.4" y2="343.8" stroke="#000" stroke-width="1"/>
<text transform="translate(205.4 343.8) scale(0.8870 1)" y="3.31" font-size="9.2" text-anchor="end">0</text>
<text transform="translate(212.4 355) scale(0.8870 1)" y="3.31" font-size="9.2" text-anchor="middle">0</text>
<line x1="244.86" y1="343.8" x2="244.86" y2="346.8" stroke="#000" stroke-width="1"/>
<text transform="translate(244.86 355) scale(0.8870 1)" y="3.31" font-size="9.2" text-anchor="middle">20</text>
<line x1="277.32" y1="343.8" x2="277.32" y2="346.8" stroke="#000" stroke-width="1"/>
<text transform="translate(277.32 355) scale(0.8870 1)" y="3.31" font-size="9.2" text-anchor="middle">40</text>
<line x1="309.78" y1="343.8" x2="309.78" y2="346.8" stroke="#000" stroke-width="1"/>
<text transform="translate(309.78 355) scale(0.8870 1)" y="3.31" font-size="9.2" text-anchor="middle">60</text>
<line x1="342.24" y1="343.8" x2="342.24" y2="346.8" stroke="#000" stroke-width="1"/>
<text transform="translate(342.24 355) scale(0.8870 1)" y="3.31" font-size="9.2" text-anchor="middle">80</text>
<text transform="translate(277.32 366.1) scale(0.8870 1)" y="3.31" font-size="9.2" text-anchor="middle">Time (minutes)</text>
<text transform="translate(185 303.65) rotate(-90) scale(0.8870 1)" y="3.31" font-size="9.2" text-anchor="middle">ECAR (mpH/min/μg protein)</text>
<text transform="translate(227 258.8) scale(0.8870 1)" y="3.31" font-size="9.2">ECAR</text>
<line x1="214.02" y1="280.8" x2="214.02" y2="294.09" stroke="#4A8FD8" stroke-width="0.9"/>
<line x1="212.22" y1="280.8" x2="215.82" y2="280.8" stroke="#4A8FD8" stroke-width="0.9"/>
<line x1="212.22" y1="294.09" x2="215.82" y2="294.09" stroke="#4A8FD8" stroke-width="0.9"/>
<line x1="224.69" y1="282.24" x2="224.69" y2="298.43" stroke="#4A8FD8" stroke-width="0.9"/>
<line x1="222.89" y1="282.24" x2="226.49" y2="282.24" stroke="#4A8FD8" stroke-width="0.9"/>
<line x1="222.89" y1="298.43" x2="226.49" y2="298.43" stroke="#4A8FD8" stroke-width="0.9"/>
<line x1="235.35" y1="285.13" x2="235.35" y2="299.58" stroke="#4A8FD8" stroke-width="0.9"/>
<line x1="233.55" y1="285.13" x2="237.15" y2="285.13" stroke="#4A8FD8" stroke-width="0.9"/>
<line x1="233.55" y1="299.58" x2="237.15" y2="299.58" stroke="#4A8FD8" stroke-width="0.9"/>
<line x1="246.01" y1="276.46" x2="246.01" y2="286.87" stroke="#4A8FD8" stroke-width="0.9"/>
<line x1="244.21" y1="276.46" x2="247.81" y2="276.46" stroke="#4A8FD8" stroke-width="0.9"/>
<line x1="244.21" y1="286.87" x2="247.81" y2="286.87" stroke="#4A8FD8" stroke-width="0.9"/>
<line x1="256.68" y1="276.75" x2="256.68" y2="289.47" stroke="#4A8FD8" stroke-width="0.9"/>
<line x1="254.88" y1="276.75" x2="258.48" y2="276.75" stroke="#4A8FD8" stroke-width="0.9"/>
<line x1="254.88" y1="289.47" x2="258.48" y2="289.47" stroke="#4A8FD8" stroke-width="0.9"/>
<line x1="267.34" y1="275.88" x2="267.34" y2="288.6" stroke="#4A8FD8" stroke-width="0.9"/>
<line x1="265.54" y1="275.88" x2="269.14" y2="275.88" stroke="#4A8FD8" stroke-width="0.9"/>
<line x1="265.54" y1="288.6" x2="269.14" y2="288.6" stroke="#4A8FD8" stroke-width="0.9"/>
<line x1="278" y1="264.9" x2="278" y2="281.09" stroke="#4A8FD8" stroke-width="0.9"/>
<line x1="276.2" y1="264.9" x2="279.8" y2="264.9" stroke="#4A8FD8" stroke-width="0.9"/>
<line x1="276.2" y1="281.09" x2="279.8" y2="281.09" stroke="#4A8FD8" stroke-width="0.9"/>
<line x1="288.66" y1="268.08" x2="288.66" y2="281.95" stroke="#4A8FD8" stroke-width="0.9"/>
<line x1="286.86" y1="268.08" x2="290.46" y2="268.08" stroke="#4A8FD8" stroke-width="0.9"/>
<line x1="286.86" y1="281.95" x2="290.46" y2="281.95" stroke="#4A8FD8" stroke-width="0.9"/>
<line x1="299.33" y1="268.95" x2="299.33" y2="282.82" stroke="#4A8FD8" stroke-width="0.9"/>
<line x1="297.53" y1="268.95" x2="301.13" y2="268.95" stroke="#4A8FD8" stroke-width="0.9"/>
<line x1="297.53" y1="282.82" x2="301.13" y2="282.82" stroke="#4A8FD8" stroke-width="0.9"/>
<line x1="309.99" y1="272.42" x2="309.99" y2="285.13" stroke="#4A8FD8" stroke-width="0.9"/>
<line x1="308.19" y1="272.42" x2="311.79" y2="272.42" stroke="#4A8FD8" stroke-width="0.9"/>
<line x1="308.19" y1="285.13" x2="311.79" y2="285.13" stroke="#4A8FD8" stroke-width="0.9"/>
<line x1="320.65" y1="273" x2="320.65" y2="285.71" stroke="#4A8FD8" stroke-width="0.9"/>
<line x1="318.85" y1="273" x2="322.45" y2="273" stroke="#4A8FD8" stroke-width="0.9"/>
<line x1="318.85" y1="285.71" x2="322.45" y2="285.71" stroke="#4A8FD8" stroke-width="0.9"/>
<line x1="331.32" y1="273" x2="331.32" y2="285.71" stroke="#4A8FD8" stroke-width="0.9"/>
<line x1="329.52" y1="273" x2="333.12" y2="273" stroke="#4A8FD8" stroke-width="0.9"/>
<line x1="329.52" y1="285.71" x2="333.12" y2="285.71" stroke="#4A8FD8" stroke-width="0.9"/>
<path d="M214.02 287.44 L224.69 290.34 L235.35 292.36 L246.01 281.67 L256.68 283.11 L267.34 282.24 L278 273 L288.66 275.02 L299.33 275.88 L309.99 278.77 L320.65 279.35 L331.32 279.35" stroke="#4A8FD8" fill="none" stroke-width="1.5" stroke-linejoin="round"/>
<path d="M214.02 289.44L215.82 286.14L212.22 286.14Z" stroke="none" fill="#4A8FD8" stroke-width="1"/>
<path d="M224.69 292.34L226.49 289.04L222.89 289.04Z" stroke="none" fill="#4A8FD8" stroke-width="1"/>
<path d="M235.35 294.36L237.15 291.06L233.55 291.06Z" stroke="none" fill="#4A8FD8" stroke-width="1"/>
<path d="M246.01 283.67L247.81 280.37L244.21 280.37Z" stroke="none" fill="#4A8FD8" stroke-width="1"/>
<path d="M256.68 285.11L258.48 281.81L254.88 281.81Z" stroke="none" fill="#4A8FD8" stroke-width="1"/>
<path d="M267.34 284.24L269.14 280.94L265.54 280.94Z" stroke="none" fill="#4A8FD8" stroke-width="1"/>
<path d="M278 275L279.8 271.69L276.2 271.69Z" stroke="none" fill="#4A8FD8" stroke-width="1"/>
<path d="M288.66 277.02L290.46 273.72L286.86 273.72Z" stroke="none" fill="#4A8FD8" stroke-width="1"/>
<path d="M299.33 277.88L301.13 274.58L297.53 274.58Z" stroke="none" fill="#4A8FD8" stroke-width="1"/>
<path d="M309.99 280.77L311.79 277.47L308.19 277.47Z" stroke="none" fill="#4A8FD8" stroke-width="1"/>
<path d="M320.65 281.35L322.45 278.05L318.85 278.05Z" stroke="none" fill="#4A8FD8" stroke-width="1"/>
<path d="M331.32 281.35L333.12 278.05L329.52 278.05Z" stroke="none" fill="#4A8FD8" stroke-width="1"/>
<line x1="214.02" y1="286" x2="214.02" y2="300.45" stroke="#239A5B" stroke-width="0.9"/>
<line x1="212.22" y1="286" x2="215.82" y2="286" stroke="#239A5B" stroke-width="0.9"/>
<line x1="212.22" y1="300.45" x2="215.82" y2="300.45" stroke="#239A5B" stroke-width="0.9"/>
<line x1="224.69" y1="292.36" x2="224.69" y2="306.81" stroke="#239A5B" stroke-width="0.9"/>
<line x1="222.89" y1="292.36" x2="226.49" y2="292.36" stroke="#239A5B" stroke-width="0.9"/>
<line x1="222.89" y1="306.81" x2="226.49" y2="306.81" stroke="#239A5B" stroke-width="0.9"/>
<line x1="235.35" y1="295.25" x2="235.35" y2="309.7" stroke="#239A5B" stroke-width="0.9"/>
<line x1="233.55" y1="295.25" x2="237.15" y2="295.25" stroke="#239A5B" stroke-width="0.9"/>
<line x1="233.55" y1="309.7" x2="237.15" y2="309.7" stroke="#239A5B" stroke-width="0.9"/>
<line x1="246.01" y1="286" x2="246.01" y2="297.56" stroke="#239A5B" stroke-width="0.9"/>
<line x1="244.21" y1="286" x2="247.81" y2="286" stroke="#239A5B" stroke-width="0.9"/>
<line x1="244.21" y1="297.56" x2="247.81" y2="297.56" stroke="#239A5B" stroke-width="0.9"/>
<line x1="256.68" y1="291.78" x2="256.68" y2="303.34" stroke="#239A5B" stroke-width="0.9"/>
<line x1="254.88" y1="291.78" x2="258.48" y2="291.78" stroke="#239A5B" stroke-width="0.9"/>
<line x1="254.88" y1="303.34" x2="258.48" y2="303.34" stroke="#239A5B" stroke-width="0.9"/>
<line x1="267.34" y1="296.12" x2="267.34" y2="304.78" stroke="#239A5B" stroke-width="0.9"/>
<line x1="265.54" y1="296.12" x2="269.14" y2="296.12" stroke="#239A5B" stroke-width="0.9"/>
<line x1="265.54" y1="304.78" x2="269.14" y2="304.78" stroke="#239A5B" stroke-width="0.9"/>
<line x1="278" y1="280.22" x2="278" y2="292.94" stroke="#239A5B" stroke-width="0.9"/>
<line x1="276.2" y1="280.22" x2="279.8" y2="280.22" stroke="#239A5B" stroke-width="0.9"/>
<line x1="276.2" y1="292.94" x2="279.8" y2="292.94" stroke="#239A5B" stroke-width="0.9"/>
<line x1="288.66" y1="280.22" x2="288.66" y2="292.94" stroke="#239A5B" stroke-width="0.9"/>
<line x1="286.86" y1="280.22" x2="290.46" y2="280.22" stroke="#239A5B" stroke-width="0.9"/>
<line x1="286.86" y1="292.94" x2="290.46" y2="292.94" stroke="#239A5B" stroke-width="0.9"/>
<line x1="299.33" y1="280.22" x2="299.33" y2="292.94" stroke="#239A5B" stroke-width="0.9"/>
<line x1="297.53" y1="280.22" x2="301.13" y2="280.22" stroke="#239A5B" stroke-width="0.9"/>
<line x1="297.53" y1="292.94" x2="301.13" y2="292.94" stroke="#239A5B" stroke-width="0.9"/>
<line x1="309.99" y1="294.67" x2="309.99" y2="303.34" stroke="#239A5B" stroke-width="0.9"/>
<line x1="308.19" y1="294.67" x2="311.79" y2="294.67" stroke="#239A5B" stroke-width="0.9"/>
<line x1="308.19" y1="303.34" x2="311.79" y2="303.34" stroke="#239A5B" stroke-width="0.9"/>
<line x1="320.65" y1="295.25" x2="320.65" y2="303.92" stroke="#239A5B" stroke-width="0.9"/>
<line x1="318.85" y1="295.25" x2="322.45" y2="295.25" stroke="#239A5B" stroke-width="0.9"/>
<line x1="318.85" y1="303.92" x2="322.45" y2="303.92" stroke="#239A5B" stroke-width="0.9"/>
<line x1="331.32" y1="295.54" x2="331.32" y2="304.21" stroke="#239A5B" stroke-width="0.9"/>
<line x1="329.52" y1="295.54" x2="333.12" y2="295.54" stroke="#239A5B" stroke-width="0.9"/>
<line x1="329.52" y1="304.21" x2="333.12" y2="304.21" stroke="#239A5B" stroke-width="0.9"/>
<path d="M214.02 293.23 L224.69 299.58 L235.35 302.47 L246.01 291.78 L256.68 297.56 L267.34 300.45 L278 286.58 L288.66 286.58 L299.33 286.58 L309.99 299 L320.65 299.58 L331.32 299.87" stroke="#239A5B" fill="none" stroke-width="1.5" stroke-linejoin="round"/>
<path d="M214.02 291.23L215.82 294.53L212.22 294.53Z" stroke="none" fill="#239A5B" stroke-width="1"/>
<path d="M224.69 297.58L226.49 300.88L222.89 300.88Z" stroke="none" fill="#239A5B" stroke-width="1"/>
<path d="M235.35 300.47L237.15 303.77L233.55 303.77Z" stroke="none" fill="#239A5B" stroke-width="1"/>
<path d="M246.01 289.78L247.81 293.08L244.21 293.08Z" stroke="none" fill="#239A5B" stroke-width="1"/>
<path d="M256.68 295.56L258.48 298.86L254.88 298.86Z" stroke="none" fill="#239A5B" stroke-width="1"/>
<path d="M267.34 298.45L269.14 301.75L265.54 301.75Z" stroke="none" fill="#239A5B" stroke-width="1"/>
<path d="M278 284.58L279.8 287.88L276.2 287.88Z" stroke="none" fill="#239A5B" stroke-width="1"/>
<path d="M288.66 284.58L290.46 287.88L286.86 287.88Z" stroke="none" fill="#239A5B" stroke-width="1"/>
<path d="M299.33 284.58L301.13 287.88L297.53 287.88Z" stroke="none" fill="#239A5B" stroke-width="1"/>
<path d="M309.99 297L311.79 300.31L308.19 300.31Z" stroke="none" fill="#239A5B" stroke-width="1"/>
<path d="M320.65 297.58L322.45 300.88L318.85 300.88Z" stroke="none" fill="#239A5B" stroke-width="1"/>
<path d="M331.32 297.87L333.12 301.17L329.52 301.17Z" stroke="none" fill="#239A5B" stroke-width="1"/>
<line x1="214.02" y1="297.56" x2="214.02" y2="309.12" stroke="#D77FC0" stroke-width="0.9"/>
<line x1="212.22" y1="297.56" x2="215.82" y2="297.56" stroke="#D77FC0" stroke-width="0.9"/>
<line x1="212.22" y1="309.12" x2="215.82" y2="309.12" stroke="#D77FC0" stroke-width="0.9"/>
<line x1="224.69" y1="302.47" x2="224.69" y2="314.03" stroke="#D77FC0" stroke-width="0.9"/>
<line x1="222.89" y1="302.47" x2="226.49" y2="302.47" stroke="#D77FC0" stroke-width="0.9"/>
<line x1="222.89" y1="314.03" x2="226.49" y2="314.03" stroke="#D77FC0" stroke-width="0.9"/>
<line x1="235.35" y1="303.92" x2="235.35" y2="315.48" stroke="#D77FC0" stroke-width="0.9"/>
<line x1="233.55" y1="303.92" x2="237.15" y2="303.92" stroke="#D77FC0" stroke-width="0.9"/>
<line x1="233.55" y1="315.48" x2="237.15" y2="315.48" stroke="#D77FC0" stroke-width="0.9"/>
<line x1="246.01" y1="293.8" x2="246.01" y2="302.47" stroke="#D77FC0" stroke-width="0.9"/>
<line x1="244.21" y1="293.8" x2="247.81" y2="293.8" stroke="#D77FC0" stroke-width="0.9"/>
<line x1="244.21" y1="302.47" x2="247.81" y2="302.47" stroke="#D77FC0" stroke-width="0.9"/>
<line x1="256.68" y1="299.01" x2="256.68" y2="307.68" stroke="#D77FC0" stroke-width="0.9"/>
<line x1="254.88" y1="299.01" x2="258.48" y2="299.01" stroke="#D77FC0" stroke-width="0.9"/>
<line x1="254.88" y1="307.68" x2="258.48" y2="307.68" stroke="#D77FC0" stroke-width="0.9"/>
<line x1="267.34" y1="300.45" x2="267.34" y2="309.12" stroke="#D77FC0" stroke-width="0.9"/>
<line x1="265.54" y1="300.45" x2="269.14" y2="300.45" stroke="#D77FC0" stroke-width="0.9"/>
<line x1="265.54" y1="309.12" x2="269.14" y2="309.12" stroke="#D77FC0" stroke-width="0.9"/>
<line x1="278" y1="287.45" x2="278" y2="296.12" stroke="#D77FC0" stroke-width="0.9"/>
<line x1="276.2" y1="287.45" x2="279.8" y2="287.45" stroke="#D77FC0" stroke-width="0.9"/>
<line x1="276.2" y1="296.12" x2="279.8" y2="296.12" stroke="#D77FC0" stroke-width="0.9"/>
<line x1="288.66" y1="287.45" x2="288.66" y2="296.12" stroke="#D77FC0" stroke-width="0.9"/>
<line x1="286.86" y1="287.45" x2="290.46" y2="287.45" stroke="#D77FC0" stroke-width="0.9"/>
<line x1="286.86" y1="296.12" x2="290.46" y2="296.12" stroke="#D77FC0" stroke-width="0.9"/>
<line x1="299.33" y1="287.45" x2="299.33" y2="296.12" stroke="#D77FC0" stroke-width="0.9"/>
<line x1="297.53" y1="287.45" x2="301.13" y2="287.45" stroke="#D77FC0" stroke-width="0.9"/>
<line x1="297.53" y1="296.12" x2="301.13" y2="296.12" stroke="#D77FC0" stroke-width="0.9"/>
<line x1="309.99" y1="298.43" x2="309.99" y2="305.36" stroke="#D77FC0" stroke-width="0.9"/>
<line x1="308.19" y1="298.43" x2="311.79" y2="298.43" stroke="#D77FC0" stroke-width="0.9"/>
<line x1="308.19" y1="305.36" x2="311.79" y2="305.36" stroke="#D77FC0" stroke-width="0.9"/>
<line x1="320.65" y1="298.43" x2="320.65" y2="305.36" stroke="#D77FC0" stroke-width="0.9"/>
<line x1="318.85" y1="298.43" x2="322.45" y2="298.43" stroke="#D77FC0" stroke-width="0.9"/>
<line x1="318.85" y1="305.36" x2="322.45" y2="305.36" stroke="#D77FC0" stroke-width="0.9"/>
<line x1="331.32" y1="298.43" x2="331.32" y2="305.36" stroke="#D77FC0" stroke-width="0.9"/>
<line x1="329.52" y1="298.43" x2="333.12" y2="298.43" stroke="#D77FC0" stroke-width="0.9"/>
<line x1="329.52" y1="305.36" x2="333.12" y2="305.36" stroke="#D77FC0" stroke-width="0.9"/>
<path d="M214.02 303.34 L224.69 308.25 L235.35 309.7 L246.01 298.14 L256.68 303.34 L267.34 304.79 L278 291.78 L288.66 291.78 L299.33 291.78 L309.99 301.89 L320.65 301.89 L331.32 301.89" stroke="#D77FC0" fill="none" stroke-width="1.5" stroke-linejoin="round"/>
<rect x="212.02" y="301.34" width="4" height="4" stroke="none" fill="#D77FC0" stroke-width="1"/>
<rect x="222.69" y="306.25" width="4" height="4" stroke="none" fill="#D77FC0" stroke-width="1"/>
<rect x="233.35" y="307.7" width="4" height="4" stroke="none" fill="#D77FC0" stroke-width="1"/>
<rect x="244.01" y="296.14" width="4" height="4" stroke="none" fill="#D77FC0" stroke-width="1"/>
<rect x="254.68" y="301.34" width="4" height="4" stroke="none" fill="#D77FC0" stroke-width="1"/>
<rect x="265.34" y="302.79" width="4" height="4" stroke="none" fill="#D77FC0" stroke-width="1"/>
<rect x="276" y="289.78" width="4" height="4" stroke="none" fill="#D77FC0" stroke-width="1"/>
<rect x="286.66" y="289.78" width="4" height="4" stroke="none" fill="#D77FC0" stroke-width="1"/>
<rect x="297.33" y="289.78" width="4" height="4" stroke="none" fill="#D77FC0" stroke-width="1"/>
<rect x="307.99" y="299.89" width="4" height="4" stroke="none" fill="#D77FC0" stroke-width="1"/>
<rect x="318.65" y="299.89" width="4" height="4" stroke="none" fill="#D77FC0" stroke-width="1"/>
<rect x="329.32" y="299.89" width="4" height="4" stroke="none" fill="#D77FC0" stroke-width="1"/>
<line x1="214.02" y1="301.61" x2="214.02" y2="314.9" stroke="#000" stroke-width="0.9"/>
<line x1="212.22" y1="301.61" x2="215.82" y2="301.61" stroke="#000" stroke-width="0.9"/>
<line x1="212.22" y1="314.9" x2="215.82" y2="314.9" stroke="#000" stroke-width="0.9"/>
<line x1="224.69" y1="305.94" x2="224.69" y2="319.24" stroke="#000" stroke-width="0.9"/>
<line x1="222.89" y1="305.94" x2="226.49" y2="305.94" stroke="#000" stroke-width="0.9"/>
<line x1="222.89" y1="319.24" x2="226.49" y2="319.24" stroke="#000" stroke-width="0.9"/>
<line x1="235.35" y1="307.39" x2="235.35" y2="320.68" stroke="#000" stroke-width="0.9"/>
<line x1="233.55" y1="307.39" x2="237.15" y2="307.39" stroke="#000" stroke-width="0.9"/>
<line x1="233.55" y1="320.68" x2="237.15" y2="320.68" stroke="#000" stroke-width="0.9"/>
<line x1="246.01" y1="301.9" x2="246.01" y2="310.56" stroke="#000" stroke-width="0.9"/>
<line x1="244.21" y1="301.9" x2="247.81" y2="301.9" stroke="#000" stroke-width="0.9"/>
<line x1="244.21" y1="310.56" x2="247.81" y2="310.56" stroke="#000" stroke-width="0.9"/>
<line x1="256.68" y1="306.23" x2="256.68" y2="313.17" stroke="#000" stroke-width="0.9"/>
<line x1="254.88" y1="306.23" x2="258.48" y2="306.23" stroke="#000" stroke-width="0.9"/>
<line x1="254.88" y1="313.17" x2="258.48" y2="313.17" stroke="#000" stroke-width="0.9"/>
<line x1="267.34" y1="307.68" x2="267.34" y2="313.45" stroke="#000" stroke-width="0.9"/>
<line x1="265.54" y1="307.68" x2="269.14" y2="307.68" stroke="#000" stroke-width="0.9"/>
<line x1="265.54" y1="313.45" x2="269.14" y2="313.45" stroke="#000" stroke-width="0.9"/>
<line x1="278" y1="295.25" x2="278" y2="305.65" stroke="#000" stroke-width="0.9"/>
<line x1="276.2" y1="295.25" x2="279.8" y2="295.25" stroke="#000" stroke-width="0.9"/>
<line x1="276.2" y1="305.65" x2="279.8" y2="305.65" stroke="#000" stroke-width="0.9"/>
<line x1="288.66" y1="294.67" x2="288.66" y2="305.07" stroke="#000" stroke-width="0.9"/>
<line x1="286.86" y1="294.67" x2="290.46" y2="294.67" stroke="#000" stroke-width="0.9"/>
<line x1="286.86" y1="305.07" x2="290.46" y2="305.07" stroke="#000" stroke-width="0.9"/>
<line x1="299.33" y1="294.38" x2="299.33" y2="304.79" stroke="#000" stroke-width="0.9"/>
<line x1="297.53" y1="294.38" x2="301.13" y2="294.38" stroke="#000" stroke-width="0.9"/>
<line x1="297.53" y1="304.79" x2="301.13" y2="304.79" stroke="#000" stroke-width="0.9"/>
<line x1="309.99" y1="304.78" x2="309.99" y2="311.72" stroke="#000" stroke-width="0.9"/>
<line x1="308.19" y1="304.78" x2="311.79" y2="304.78" stroke="#000" stroke-width="0.9"/>
<line x1="308.19" y1="311.72" x2="311.79" y2="311.72" stroke="#000" stroke-width="0.9"/>
<line x1="320.65" y1="304.78" x2="320.65" y2="311.72" stroke="#000" stroke-width="0.9"/>
<line x1="318.85" y1="304.78" x2="322.45" y2="304.78" stroke="#000" stroke-width="0.9"/>
<line x1="318.85" y1="311.72" x2="322.45" y2="311.72" stroke="#000" stroke-width="0.9"/>
<line x1="331.32" y1="304.78" x2="331.32" y2="311.72" stroke="#000" stroke-width="0.9"/>
<line x1="329.52" y1="304.78" x2="333.12" y2="304.78" stroke="#000" stroke-width="0.9"/>
<line x1="329.52" y1="311.72" x2="333.12" y2="311.72" stroke="#000" stroke-width="0.9"/>
<path d="M214.02 308.25 L224.69 312.59 L235.35 314.03 L246.01 306.23 L256.68 309.7 L267.34 310.56 L278 300.45 L288.66 299.87 L299.33 299.58 L309.99 308.25 L320.65 308.25 L331.32 308.25" stroke="#000" fill="none" stroke-width="1.5" stroke-linejoin="round"/>
<circle cx="214.02" cy="308.25" r="1.6" fill="#000"/>
<circle cx="224.69" cy="312.59" r="1.6" fill="#000"/>
<circle cx="235.35" cy="314.03" r="1.6" fill="#000"/>
<circle cx="246.01" cy="306.23" r="1.6" fill="#000"/>
<circle cx="256.68" cy="309.7" r="1.6" fill="#000"/>
<circle cx="267.34" cy="310.56" r="1.6" fill="#000"/>
<circle cx="278" cy="300.45" r="1.6" fill="#000"/>
<circle cx="288.66" cy="299.87" r="1.6" fill="#000"/>
<circle cx="299.33" cy="299.58" r="1.6" fill="#000"/>
<circle cx="309.99" cy="308.25" r="1.6" fill="#000"/>
<circle cx="320.65" cy="308.25" r="1.6" fill="#000"/>
<circle cx="331.32" cy="308.25" r="1.6" fill="#000"/>
<line x1="253.2" y1="219.7" x2="272.8" y2="219.7" stroke="#000" stroke-width="1.3"/>
<circle cx="263" cy="219.7" r="1.6" fill="#000"/>
<text transform="translate(279.5 219.7) scale(0.8870 1)" y="3.31" font-size="9.2">Control</text>
<line x1="253.2" y1="231" x2="272.8" y2="231" stroke="#D77FC0" stroke-width="1.3"/>
<rect x="260.3" y="228.3" width="5.4" height="5.4" stroke="none" fill="#D77FC0" stroke-width="1"/>
<text transform="translate(279.5 231) scale(0.8870 1)" y="3.31" font-size="9.2">FABP4 25 ng/ml</text>
<line x1="253.2" y1="243" x2="272.8" y2="243" stroke="#239A5B" stroke-width="1.3"/>
<path d="M263 241L264.8 244.3L261.2 244.3Z" stroke="none" fill="#239A5B" stroke-width="1"/>
<text transform="translate(279.5 243) scale(0.8870 1)" y="3.31" font-size="9.2">FABP4 100 ng/ml</text>
<line x1="253.2" y1="254.4" x2="272.8" y2="254.4" stroke="#4A8FD8" stroke-width="1.3"/>
<path d="M263 256.4L264.8 253.1L261.2 253.1Z" stroke="none" fill="#4A8FD8" stroke-width="1"/>
<text transform="translate(279.5 254.4) scale(0.8870 1)" y="3.31" font-size="9.2">LPS 100 ng/ml</text>
<text transform="translate(349.5 6.4)" font-size="10.5" font-weight="bold">c</text>
<line x1="393.1" y1="43.4" x2="393.1" y2="130.6" stroke="#000" stroke-width="1.2"/>
<line x1="392.6" y1="130.1" x2="458.5" y2="130.1" stroke="#000" stroke-width="1.2"/>
<line x1="386.6" y1="43.4" x2="393.1" y2="43.4" stroke="#000" stroke-width="1.1"/>
<text transform="translate(384.5 43.4) scale(0.8870 1)" y="3.31" font-size="9.2" text-anchor="end">60</text>
<line x1="386.6" y1="72.3" x2="393.1" y2="72.3" stroke="#000" stroke-width="1.1"/>
<text transform="translate(384.5 72.3) scale(0.8870 1)" y="3.31" font-size="9.2" text-anchor="end">40</text>
<line x1="386.6" y1="101.2" x2="393.1" y2="101.2" stroke="#000" stroke-width="1.1"/>
<text transform="translate(384.5 101.2) scale(0.8870 1)" y="3.31" font-size="9.2" text-anchor="end">20</text>
<line x1="386.6" y1="130.1" x2="393.1" y2="130.1" stroke="#000" stroke-width="1.1"/>
<text transform="translate(384.5 130.1) scale(0.8870 1)" y="3.31" font-size="9.2" text-anchor="end">0</text>
<rect x="398.6" y="97.59" width="9" height="32.51" stroke="#000" fill="#fff" stroke-width="1.1"/>
<line x1="403.1" y1="130.1" x2="403.1" y2="136.6" stroke="#000" stroke-width="1.1"/>
<rect x="413.7" y="86.75" width="9" height="43.35" stroke="#000" fill="#fff" stroke-width="1.1"/>
<line x1="418.2" y1="130.1" x2="418.2" y2="136.6" stroke="#000" stroke-width="1.1"/>
<rect x="428.7" y="79.52" width="9" height="50.58" stroke="#000" fill="#fff" stroke-width="1.1"/>
<line x1="433.2" y1="130.1" x2="433.2" y2="136.6" stroke="#000" stroke-width="1.1"/>
<rect x="443.8" y="118.54" width="9" height="11.56" stroke="#000" fill="#fff" stroke-width="1.1"/>
<line x1="448.3" y1="130.1" x2="448.3" y2="136.6" stroke="#000" stroke-width="1.1"/>
<circle cx="403.1" cy="87.76" r="1.75" fill="#000"/>
<circle cx="403.1" cy="93.97" r="1.75" fill="#000"/>
<circle cx="405.2" cy="95.42" r="1.75" fill="#000"/>
<circle cx="403.1" cy="96.86" r="1.75" fill="#000"/>
<circle cx="405.2" cy="98.31" r="1.75" fill="#000"/>
<circle cx="402.4" cy="99.03" r="1.75" fill="#000"/>
<circle cx="404.5" cy="100.48" r="1.75" fill="#000"/>
<circle cx="402.4" cy="101.92" r="1.75" fill="#000"/>
<line x1="403.1" y1="93.25" x2="403.1" y2="101.92" stroke="#000" stroke-width="1"/>
<line x1="400.3" y1="93.25" x2="405.9" y2="93.25" stroke="#000" stroke-width="1"/>
<line x1="400.3" y1="101.92" x2="405.9" y2="101.92" stroke="#000" stroke-width="1"/>
<line x1="400.1" y1="97.59" x2="406.1" y2="97.59" stroke="#000" stroke-width="1"/>
<circle cx="418.2" cy="59.73" r="1.75" fill="#F7941D"/>
<circle cx="418.2" cy="66.52" r="1.75" fill="#F7941D"/>
<circle cx="418.2" cy="79.52" r="1.75" fill="#F7941D"/>
<circle cx="418.2" cy="95.42" r="1.75" fill="#F7941D"/>
<circle cx="420.3" cy="96.86" r="1.75" fill="#F7941D"/>
<circle cx="418.2" cy="98.31" r="1.75" fill="#F7941D"/>
<circle cx="418.9" cy="100.48" r="1.75" fill="#F7941D"/>
<circle cx="418.2" cy="102.64" r="1.75" fill="#F7941D"/>
<line x1="418.2" y1="70.85" x2="418.2" y2="102.64" stroke="#F7941D" stroke-width="1"/>
<line x1="415.4" y1="70.85" x2="421" y2="70.85" stroke="#F7941D" stroke-width="1"/>
<line x1="415.4" y1="102.64" x2="421" y2="102.64" stroke="#F7941D" stroke-width="1"/>
<line x1="415.2" y1="86.75" x2="421.2" y2="86.75" stroke="#F7941D" stroke-width="1"/>
<circle cx="433.2" cy="52.21" r="1.75" fill="#EC3127"/>
<circle cx="433.2" cy="62.18" r="1.75" fill="#EC3127"/>
<circle cx="433.2" cy="71.58" r="1.75" fill="#EC3127"/>
<circle cx="433.2" cy="75.19" r="1.75" fill="#EC3127"/>
<circle cx="433.2" cy="81.55" r="1.75" fill="#EC3127"/>
<circle cx="433.2" cy="86.75" r="1.75" fill="#EC3127"/>
<circle cx="433.2" cy="96.58" r="1.75" fill="#EC3127"/>
<circle cx="433.2" cy="101.63" r="1.75" fill="#EC3127"/>
<line x1="433.2" y1="62.18" x2="433.2" y2="96.86" stroke="#EC3127" stroke-width="1"/>
<line x1="430.4" y1="62.18" x2="436" y2="62.18" stroke="#EC3127" stroke-width="1"/>
<line x1="430.4" y1="96.86" x2="436" y2="96.86" stroke="#EC3127" stroke-width="1"/>
<line x1="430.2" y1="79.52" x2="436.2" y2="79.52" stroke="#EC3127" stroke-width="1"/>
<circle cx="448.3" cy="112.76" r="1.75" fill="#3A62B8"/>
<circle cx="449.7" cy="114.78" r="1.75" fill="#3A62B8"/>
<circle cx="446.9" cy="114.49" r="1.75" fill="#3A62B8"/>
<circle cx="448.3" cy="117.82" r="1.75" fill="#3A62B8"/>
<circle cx="448.3" cy="120.42" r="1.75" fill="#3A62B8"/>
<circle cx="448.3" cy="122.88" r="1.75" fill="#3A62B8"/>
<line x1="448.3" y1="115.36" x2="448.3" y2="121.72" stroke="#3A62B8" stroke-width="1"/>
<line x1="445.5" y1="115.36" x2="451.1" y2="115.36" stroke="#3A62B8" stroke-width="1"/>
<line x1="445.5" y1="121.72" x2="451.1" y2="121.72" stroke="#3A62B8" stroke-width="1"/>
<line x1="445.3" y1="118.54" x2="451.3" y2="118.54" stroke="#3A62B8" stroke-width="1"/>
<line x1="402.6" y1="52.9" x2="418.4" y2="52.9" stroke="#000" stroke-width="1.1"/>
<text transform="translate(410.5 43.9) scale(0.8870 1)" y="3.31" font-size="9.2" text-anchor="middle">0.1814</text>
<line x1="402.6" y1="34.4" x2="433.5" y2="34.4" stroke="#000" stroke-width="1.1"/>
<text transform="translate(418.05 25.1) scale(0.8870 1)" y="3.31" font-size="9.2" text-anchor="middle">0.0563</text>
<line x1="402.6" y1="18.3" x2="448.5" y2="18.3" stroke="#000" stroke-width="1.1"/>
<text transform="translate(425.55 9.3) scale(0.8870 1)" y="3.31" font-size="9.2" text-anchor="middle">0.0105</text>
<text transform="translate(356.3 89.8) rotate(-90) scale(0.8870 1)" y="3.31" font-size="9.2" text-anchor="middle">Basal respiration</text>
<text transform="translate(365.6 89.8) rotate(-90) scale(0.8870 1)" y="3.31" font-size="9.2" text-anchor="middle">(mpH/min/μg protein)</text>
<text transform="translate(404.6 146.1) rotate(-45) scale(0.8870 1)" font-size="9.2" text-anchor="end">Control</text>
<text transform="translate(419.7 146.1) rotate(-45) scale(0.8870 1)" font-size="9.2" text-anchor="end">FABP7 100 ng/ml</text>
<text transform="translate(434.7 146.1) rotate(-45) scale(0.8870 1)" font-size="9.2" text-anchor="end">FABP7 300 ng/ml</text>
<text transform="translate(449.8 146.1) rotate(-45) scale(0.8870 1)" font-size="9.2" text-anchor="end">LPS</text>
<text transform="translate(466.3 7.6)" font-size="10.5">d</text>
<line x1="506.4" y1="42.9" x2="506.4" y2="129.9" stroke="#000" stroke-width="1.2"/>
<line x1="505.9" y1="129.4" x2="570.5" y2="129.4" stroke="#000" stroke-width="1.2"/>
<line x1="499.9" y1="42.9" x2="506.4" y2="42.9" stroke="#000" stroke-width="1.1"/>
<text transform="translate(497.8 42.9) scale(0.8870 1)" y="3.31" font-size="9.2" text-anchor="end">60</text>
<line x1="499.9" y1="71.73" x2="506.4" y2="71.73" stroke="#000" stroke-width="1.1"/>
<text transform="translate(497.8 71.73) scale(0.8870 1)" y="3.31" font-size="9.2" text-anchor="end">40</text>
<line x1="499.9" y1="100.57" x2="506.4" y2="100.57" stroke="#000" stroke-width="1.1"/>
<text transform="translate(497.8 100.57) scale(0.8870 1)" y="3.31" font-size="9.2" text-anchor="end">20</text>
<line x1="499.9" y1="129.4" x2="506.4" y2="129.4" stroke="#000" stroke-width="1.1"/>
<text transform="translate(497.8 129.4) scale(0.8870 1)" y="3.31" font-size="9.2" text-anchor="end">0</text>
<rect x="511.9" y="96.24" width="9" height="33.16" stroke="#000" fill="#fff" stroke-width="1.1"/>
<line x1="516.4" y1="129.4" x2="516.4" y2="135.9" stroke="#000" stroke-width="1.1"/>
<rect x="527" y="84.71" width="9" height="44.69" stroke="#000" fill="#fff" stroke-width="1.1"/>
<line x1="531.5" y1="129.4" x2="531.5" y2="135.9" stroke="#000" stroke-width="1.1"/>
<rect x="542" y="78.22" width="9" height="51.18" stroke="#000" fill="#fff" stroke-width="1.1"/>
<line x1="546.5" y1="129.4" x2="546.5" y2="135.9" stroke="#000" stroke-width="1.1"/>
<rect x="557.1" y="114.26" width="9" height="15.14" stroke="#000" fill="#fff" stroke-width="1.1"/>
<line x1="561.6" y1="129.4" x2="561.6" y2="135.9" stroke="#000" stroke-width="1.1"/>
<circle cx="516.4" cy="88.31" r="1.75" fill="#000"/>
<circle cx="516.4" cy="93.36" r="1.75" fill="#000"/>
<circle cx="518.5" cy="94.8" r="1.75" fill="#000"/>
<circle cx="516.4" cy="96.24" r="1.75" fill="#000"/>
<circle cx="518.5" cy="97.68" r="1.75" fill="#000"/>
<circle cx="516.4" cy="99.12" r="1.75" fill="#000"/>
<circle cx="518.5" cy="100.57" r="1.75" fill="#000"/>
<circle cx="516.4" cy="102.01" r="1.75" fill="#000"/>
<line x1="516.4" y1="91.92" x2="516.4" y2="100.57" stroke="#000" stroke-width="1"/>
<line x1="513.6" y1="91.92" x2="519.2" y2="91.92" stroke="#000" stroke-width="1"/>
<line x1="513.6" y1="100.57" x2="519.2" y2="100.57" stroke="#000" stroke-width="1"/>
<line x1="513.4" y1="96.24" x2="519.4" y2="96.24" stroke="#000" stroke-width="1"/>
<circle cx="531.5" cy="60.2" r="1.75" fill="#F7941D"/>
<circle cx="531.5" cy="68.13" r="1.75" fill="#F7941D"/>
<circle cx="531.5" cy="78.94" r="1.75" fill="#F7941D"/>
<circle cx="531.5" cy="86.15" r="1.75" fill="#F7941D"/>
<circle cx="531.5" cy="89.03" r="1.75" fill="#F7941D"/>
<circle cx="531.5" cy="91.92" r="1.75" fill="#F7941D"/>
<circle cx="531.5" cy="97.68" r="1.75" fill="#F7941D"/>
<circle cx="531.5" cy="102.01" r="1.75" fill="#F7941D"/>
<line x1="531.5" y1="70.29" x2="531.5" y2="99.12" stroke="#F7941D" stroke-width="1"/>
<line x1="528.7" y1="70.29" x2="534.3" y2="70.29" stroke="#F7941D" stroke-width="1"/>
<line x1="528.7" y1="99.12" x2="534.3" y2="99.12" stroke="#F7941D" stroke-width="1"/>
<line x1="528.5" y1="84.71" x2="534.5" y2="84.71" stroke="#F7941D" stroke-width="1"/>
<circle cx="546.5" cy="53.71" r="1.75" fill="#EC3127"/>
<circle cx="546.5" cy="63.08" r="1.75" fill="#EC3127"/>
<circle cx="546.5" cy="71.73" r="1.75" fill="#EC3127"/>
<circle cx="546.5" cy="74.62" r="1.75" fill="#EC3127"/>
<circle cx="546.5" cy="78.94" r="1.75" fill="#EC3127"/>
<circle cx="546.5" cy="86.15" r="1.75" fill="#EC3127"/>
<circle cx="546.5" cy="94.8" r="1.75" fill="#EC3127"/>
<circle cx="546.5" cy="102.73" r="1.75" fill="#EC3127"/>
<line x1="546.5" y1="61.64" x2="546.5" y2="94.8" stroke="#EC3127" stroke-width="1"/>
<line x1="543.7" y1="61.64" x2="549.3" y2="61.64" stroke="#EC3127" stroke-width="1"/>
<line x1="543.7" y1="94.8" x2="549.3" y2="94.8" stroke="#EC3127" stroke-width="1"/>
<line x1="543.5" y1="78.22" x2="549.5" y2="78.22" stroke="#EC3127" stroke-width="1"/>
<circle cx="561.6" cy="108.5" r="1.75" fill="#3A62B8"/>
<circle cx="561.6" cy="112.1" r="1.75" fill="#3A62B8"/>
<circle cx="563.7" cy="113.54" r="1.75" fill="#3A62B8"/>
<circle cx="561.6" cy="114.98" r="1.75" fill="#3A62B8"/>
<circle cx="559.5" cy="115.7" r="1.75" fill="#3A62B8"/>
<circle cx="563.7" cy="116.42" r="1.75" fill="#3A62B8"/>
<line x1="561.6" y1="110.66" x2="561.6" y2="117.87" stroke="#3A62B8" stroke-width="1"/>
<line x1="558.8" y1="110.66" x2="564.4" y2="110.66" stroke="#3A62B8" stroke-width="1"/>
<line x1="558.8" y1="117.87" x2="564.4" y2="117.87" stroke="#3A62B8" stroke-width="1"/>
<line x1="558.6" y1="114.26" x2="564.6" y2="114.26" stroke="#3A62B8" stroke-width="1"/>
<line x1="516.4" y1="52.4" x2="531.5" y2="52.4" stroke="#000" stroke-width="1.1"/>
<text transform="translate(523.95 43.1) scale(0.8870 1)" y="3.31" font-size="9.2" text-anchor="middle">0.0824</text>
<line x1="516.4" y1="36.1" x2="546.5" y2="36.1" stroke="#000" stroke-width="1.1"/>
<text transform="translate(531.45 27.1) scale(0.8870 1)" y="3.31" font-size="9.2" text-anchor="middle">0.0313</text>
<line x1="516.4" y1="18.8" x2="561.6" y2="18.8" stroke="#000" stroke-width="1.1"/>
<text transform="translate(539 10) scale(0.8870 1)" y="3.31" font-size="9.2" text-anchor="middle">0.0177</text>
<text transform="translate(469.5 89.5) rotate(-90) scale(0.8870 1)" y="3.31" font-size="9.2" text-anchor="middle">ATP production</text>
<text transform="translate(478.8 89.5) rotate(-90) scale(0.8870 1)" y="3.31" font-size="9.2" text-anchor="middle">(mpH/min/μg protein)</text>
<text transform="translate(517.9 145.4) rotate(-45) scale(0.8870 1)" font-size="9.2" text-anchor="end">Control</text>
<text transform="translate(533 145.4) rotate(-45) scale(0.8870 1)" font-size="9.2" text-anchor="end">FABP7 100 ng/ml</text>
<text transform="translate(548 145.4) rotate(-45) scale(0.8870 1)" font-size="9.2" text-anchor="end">FABP7 300 ng/ml</text>
<text transform="translate(563.1 145.4) rotate(-45) scale(0.8870 1)" font-size="9.2" text-anchor="end">LPS</text>
<text transform="translate(578.6 5.6)" font-size="10.5" font-weight="bold">e</text>
<line x1="619.6" y1="42.6" x2="619.6" y2="129.8" stroke="#000" stroke-width="1.2"/>
<line x1="619.1" y1="129.3" x2="684.7" y2="129.3" stroke="#000" stroke-width="1.2"/>
<line x1="613.1" y1="42.6" x2="619.6" y2="42.6" stroke="#000" stroke-width="1.1"/>
<text transform="translate(611 42.6) scale(0.8870 1)" y="3.31" font-size="9.2" text-anchor="end">40</text>
<line x1="613.1" y1="64.28" x2="619.6" y2="64.28" stroke="#000" stroke-width="1.1"/>
<text transform="translate(611 64.28) scale(0.8870 1)" y="3.31" font-size="9.2" text-anchor="end">30</text>
<line x1="613.1" y1="85.95" x2="619.6" y2="85.95" stroke="#000" stroke-width="1.1"/>
<text transform="translate(611 85.95) scale(0.8870 1)" y="3.31" font-size="9.2" text-anchor="end">20</text>
<line x1="613.1" y1="107.63" x2="619.6" y2="107.63" stroke="#000" stroke-width="1.1"/>
<text transform="translate(611 107.63) scale(0.8870 1)" y="3.31" font-size="9.2" text-anchor="end">10</text>
<line x1="613.1" y1="129.3" x2="619.6" y2="129.3" stroke="#000" stroke-width="1.1"/>
<text transform="translate(611 129.3) scale(0.8870 1)" y="3.31" font-size="9.2" text-anchor="end">0</text>
<rect x="625.1" y="104.37" width="9" height="24.93" stroke="#000" fill="#fff" stroke-width="1.1"/>
<line x1="629.6" y1="129.3" x2="629.6" y2="135.8" stroke="#000" stroke-width="1.1"/>
<rect x="640.2" y="93.97" width="9" height="35.33" stroke="#000" fill="#fff" stroke-width="1.1"/>
<line x1="644.7" y1="129.3" x2="644.7" y2="135.8" stroke="#000" stroke-width="1.1"/>
<rect x="655.2" y="80.96" width="9" height="48.34" stroke="#000" fill="#fff" stroke-width="1.1"/>
<line x1="659.7" y1="129.3" x2="659.7" y2="135.8" stroke="#000" stroke-width="1.1"/>
<rect x="670.2" y="88.12" width="9" height="41.18" stroke="#000" fill="#fff" stroke-width="1.1"/>
<line x1="674.7" y1="129.3" x2="674.7" y2="135.8" stroke="#000" stroke-width="1.1"/>
<circle cx="629.6" cy="96.79" r="1.75" fill="#000"/>
<circle cx="629.6" cy="100.04" r="1.75" fill="#000"/>
<circle cx="630.3" cy="102.21" r="1.75" fill="#000"/>
<circle cx="628.2" cy="103.29" r="1.75" fill="#000"/>
<circle cx="629.6" cy="105.46" r="1.75" fill="#000"/>
<circle cx="631.7" cy="106.54" r="1.75" fill="#000"/>
<circle cx="628.9" cy="107.63" r="1.75" fill="#000"/>
<circle cx="629.6" cy="110.88" r="1.75" fill="#000"/>
<line x1="629.6" y1="100.04" x2="629.6" y2="108.71" stroke="#000" stroke-width="1"/>
<line x1="626.8" y1="100.04" x2="632.4" y2="100.04" stroke="#000" stroke-width="1"/>
<line x1="626.8" y1="108.71" x2="632.4" y2="108.71" stroke="#000" stroke-width="1"/>
<line x1="626.6" y1="104.37" x2="632.6" y2="104.37" stroke="#000" stroke-width="1"/>
<circle cx="644.7" cy="81.62" r="1.75" fill="#F7941D"/>
<circle cx="644.7" cy="88.12" r="1.75" fill="#F7941D"/>
<circle cx="644.7" cy="91.37" r="1.75" fill="#F7941D"/>
<circle cx="644.7" cy="94.62" r="1.75" fill="#F7941D"/>
<circle cx="645.4" cy="96.79" r="1.75" fill="#F7941D"/>
<circle cx="644.7" cy="98.96" r="1.75" fill="#F7941D"/>
<circle cx="645.4" cy="101.12" r="1.75" fill="#F7941D"/>
<circle cx="644.7" cy="106.54" r="1.75" fill="#F7941D"/>
<line x1="644.7" y1="86.38" x2="644.7" y2="101.56" stroke="#F7941D" stroke-width="1"/>
<line x1="641.9" y1="86.38" x2="647.5" y2="86.38" stroke="#F7941D" stroke-width="1"/>
<line x1="641.9" y1="101.56" x2="647.5" y2="101.56" stroke="#F7941D" stroke-width="1"/>
<line x1="641.7" y1="93.97" x2="647.7" y2="93.97" stroke="#F7941D" stroke-width="1"/>
<circle cx="659.7" cy="66.44" r="1.75" fill="#EC3127"/>
<circle cx="659.7" cy="72.95" r="1.75" fill="#EC3127"/>
<circle cx="659.7" cy="79.45" r="1.75" fill="#EC3127"/>
<circle cx="660.4" cy="81.62" r="1.75" fill="#EC3127"/>
<circle cx="659.7" cy="83.78" r="1.75" fill="#EC3127"/>
<circle cx="662.5" cy="83.78" r="1.75" fill="#EC3127"/>
<circle cx="660.4" cy="85.95" r="1.75" fill="#EC3127"/>
<circle cx="658.3" cy="87.03" r="1.75" fill="#EC3127"/>
<line x1="659.7" y1="73.38" x2="659.7" y2="88.55" stroke="#EC3127" stroke-width="1"/>
<line x1="656.9" y1="73.38" x2="662.5" y2="73.38" stroke="#EC3127" stroke-width="1"/>
<line x1="656.9" y1="88.55" x2="662.5" y2="88.55" stroke="#EC3127" stroke-width="1"/>
<line x1="656.7" y1="80.96" x2="662.7" y2="80.96" stroke="#EC3127" stroke-width="1"/>
<circle cx="674.7" cy="79.45" r="1.75" fill="#3A62B8"/>
<circle cx="674.7" cy="85.95" r="1.75" fill="#3A62B8"/>
<circle cx="675.4" cy="88.12" r="1.75" fill="#3A62B8"/>
<circle cx="673.3" cy="89.2" r="1.75" fill="#3A62B8"/>
<circle cx="674.7" cy="91.37" r="1.75" fill="#3A62B8"/>
<circle cx="676.8" cy="92.45" r="1.75" fill="#3A62B8"/>
<line x1="674.7" y1="82.7" x2="674.7" y2="93.54" stroke="#3A62B8" stroke-width="1"/>
<line x1="671.9" y1="82.7" x2="677.5" y2="82.7" stroke="#3A62B8" stroke-width="1"/>
<line x1="671.9" y1="93.54" x2="677.5" y2="93.54" stroke="#3A62B8" stroke-width="1"/>
<line x1="671.7" y1="88.12" x2="677.7" y2="88.12" stroke="#3A62B8" stroke-width="1"/>
<line x1="629.6" y1="60.4" x2="644.7" y2="60.4" stroke="#000" stroke-width="1.1"/>
<text transform="translate(637.15 51.9) scale(0.8870 1)" y="3.31" font-size="9.2" text-anchor="middle">0.0048</text>
<line x1="629.6" y1="43.1" x2="659.7" y2="43.1" stroke="#000" stroke-width="1.1"/>
<text transform="translate(644.65 34.1) scale(0.8870 1)" y="3.31" font-size="9.2" text-anchor="middle">9.42e-07</text>
<line x1="629.6" y1="25.6" x2="674.7" y2="25.6" stroke="#000" stroke-width="1.1"/>
<text transform="translate(652.15 17) scale(0.8870 1)" y="3.31" font-size="9.2" text-anchor="middle">0.0099</text>
<text transform="translate(583 89.5) rotate(-90) scale(0.8870 1)" y="3.31" font-size="9.2" text-anchor="middle">Basal ECAR</text>
<text transform="translate(592.3 89.5) rotate(-90) scale(0.8870 1)" y="3.31" font-size="9.2" text-anchor="middle">(mpH/min/μg protein)</text>
<text transform="translate(631.1 145.3) rotate(-45) scale(0.8870 1)" font-size="9.2" text-anchor="end">Control</text>
<text transform="translate(646.2 145.3) rotate(-45) scale(0.8870 1)" font-size="9.2" text-anchor="end">FABP7 100 ng/ml</text>
<text transform="translate(661.2 145.3) rotate(-45) scale(0.8870 1)" font-size="9.2" text-anchor="end">FABP7 300 ng/ml</text>
<text transform="translate(676.2 145.3) rotate(-45) scale(0.8870 1)" font-size="9.2" text-anchor="end">LPS</text>
<text transform="translate(0.8 394.9)" font-size="10.5">h</text>
<line x1="47" y1="405.3" x2="47" y2="492.5" stroke="#000" stroke-width="1.2"/>
<line x1="46.5" y1="492" x2="111.4" y2="492" stroke="#000" stroke-width="1.2"/>
<line x1="40.5" y1="405.3" x2="47" y2="405.3" stroke="#000" stroke-width="1.1"/>
<text transform="translate(38.4 405.3) scale(0.8870 1)" y="3.31" font-size="9.2" text-anchor="end">150</text>
<line x1="40.5" y1="434.2" x2="47" y2="434.2" stroke="#000" stroke-width="1.1"/>
<text transform="translate(38.4 434.2) scale(0.8870 1)" y="3.31" font-size="9.2" text-anchor="end">100</text>
<line x1="40.5" y1="463.1" x2="47" y2="463.1" stroke="#000" stroke-width="1.1"/>
<text transform="translate(38.4 463.1) scale(0.8870 1)" y="3.31" font-size="9.2" text-anchor="end">50</text>
<line x1="40.5" y1="492" x2="47" y2="492" stroke="#000" stroke-width="1.1"/>
<text transform="translate(38.4 492) scale(0.8870 1)" y="3.31" font-size="9.2" text-anchor="end">0</text>
<rect x="52.5" y="446.92" width="8.8" height="45.08" stroke="#000" fill="#fff" stroke-width="1.1"/>
<line x1="56.9" y1="492" x2="56.9" y2="498.5" stroke="#000" stroke-width="1.1"/>
<rect x="67.5" y="453.27" width="8.8" height="38.73" stroke="#000" fill="#fff" stroke-width="1.1"/>
<line x1="71.9" y1="492" x2="71.9" y2="498.5" stroke="#000" stroke-width="1.1"/>
<rect x="82.6" y="442.87" width="8.8" height="49.13" stroke="#000" fill="#fff" stroke-width="1.1"/>
<line x1="87" y1="492" x2="87" y2="498.5" stroke="#000" stroke-width="1.1"/>
<rect x="97.6" y="445.76" width="8.8" height="46.24" stroke="#000" fill="#fff" stroke-width="1.1"/>
<line x1="102" y1="492" x2="102" y2="498.5" stroke="#000" stroke-width="1.1"/>
<circle cx="56.9" cy="435.93" r="1.75" fill="#000"/>
<circle cx="59" cy="436.51" r="1.75" fill="#000"/>
<circle cx="54.8" cy="437.09" r="1.75" fill="#000"/>
<circle cx="61.1" cy="437.67" r="1.75" fill="#000"/>
<circle cx="56.9" cy="438.25" r="1.75" fill="#000"/>
<circle cx="52.7" cy="438.25" r="1.75" fill="#000"/>
<circle cx="59" cy="438.82" r="1.75" fill="#000"/>
<circle cx="54.8" cy="439.4" r="1.75" fill="#000"/>
<circle cx="61.1" cy="439.98" r="1.75" fill="#000"/>
<circle cx="56.49" cy="439.98" r="1.75" fill="#000"/>
<circle cx="52.7" cy="440.56" r="1.75" fill="#000"/>
<circle cx="59" cy="441.14" r="1.75" fill="#000"/>
<circle cx="54.8" cy="441.71" r="1.75" fill="#000"/>
<circle cx="56.9" cy="442.29" r="1.75" fill="#000"/>
<circle cx="60.4" cy="442.87" r="1.75" fill="#000"/>
<circle cx="53.4" cy="443.45" r="1.75" fill="#000"/>
<circle cx="58.3" cy="444.03" r="1.75" fill="#000"/>
<circle cx="56.2" cy="444.6" r="1.75" fill="#000"/>
<circle cx="59.7" cy="445.76" r="1.75" fill="#000"/>
<circle cx="56.9" cy="446.92" r="1.75" fill="#000"/>
<circle cx="59" cy="448.07" r="1.75" fill="#000"/>
<circle cx="56.9" cy="449.23" r="1.75" fill="#000"/>
<circle cx="59" cy="450.38" r="1.75" fill="#000"/>
<circle cx="56.9" cy="452.12" r="1.75" fill="#000"/>
<circle cx="58.3" cy="453.85" r="1.75" fill="#000"/>
<circle cx="56.9" cy="456.16" r="1.75" fill="#000"/>
<circle cx="58.3" cy="457.9" r="1.75" fill="#000"/>
<circle cx="56.9" cy="464.26" r="1.75" fill="#000"/>
<line x1="56.9" y1="442.29" x2="56.9" y2="451.54" stroke="#000" stroke-width="1"/>
<line x1="54.1" y1="442.29" x2="59.7" y2="442.29" stroke="#000" stroke-width="1"/>
<line x1="54.1" y1="451.54" x2="59.7" y2="451.54" stroke="#000" stroke-width="1"/>
<line x1="53.9" y1="446.92" x2="59.9" y2="446.92" stroke="#000" stroke-width="1"/>
<circle cx="71.9" cy="438.25" r="1.75" fill="#EC3127"/>
<circle cx="74" cy="439.4" r="1.75" fill="#EC3127"/>
<circle cx="70.5" cy="439.98" r="1.75" fill="#EC3127"/>
<circle cx="72.6" cy="441.14" r="1.75" fill="#EC3127"/>
<circle cx="70.5" cy="442.29" r="1.75" fill="#EC3127"/>
<circle cx="72.6" cy="443.45" r="1.75" fill="#EC3127"/>
<circle cx="70.5" cy="444.6" r="1.75" fill="#EC3127"/>
<circle cx="72.6" cy="445.76" r="1.75" fill="#EC3127"/>
<circle cx="70.5" cy="446.92" r="1.75" fill="#EC3127"/>
<circle cx="74" cy="447.49" r="1.75" fill="#EC3127"/>
<circle cx="68.4" cy="448.07" r="1.75" fill="#EC3127"/>
<circle cx="71.9" cy="449.23" r="1.75" fill="#EC3127"/>
<circle cx="74" cy="450.38" r="1.75" fill="#EC3127"/>
<circle cx="71.9" cy="451.54" r="1.75" fill="#EC3127"/>
<circle cx="74" cy="452.7" r="1.75" fill="#EC3127"/>
<circle cx="71.9" cy="453.85" r="1.75" fill="#EC3127"/>
<circle cx="74" cy="455.01" r="1.75" fill="#EC3127"/>
<circle cx="71.9" cy="456.16" r="1.75" fill="#EC3127"/>
<circle cx="74" cy="457.32" r="1.75" fill="#EC3127"/>
<circle cx="71.9" cy="459.05" r="1.75" fill="#EC3127"/>
<circle cx="74" cy="460.21" r="1.75" fill="#EC3127"/>
<circle cx="71.9" cy="461.94" r="1.75" fill="#EC3127"/>
<circle cx="74" cy="463.1" r="1.75" fill="#EC3127"/>
<circle cx="71.9" cy="464.26" r="1.75" fill="#EC3127"/>
<circle cx="71.9" cy="468.88" r="1.75" fill="#EC3127"/>
<circle cx="71.9" cy="476.39" r="1.75" fill="#EC3127"/>
<line x1="71.9" y1="444.6" x2="71.9" y2="461.94" stroke="#EC3127" stroke-width="1"/>
<line x1="69.1" y1="444.6" x2="74.7" y2="444.6" stroke="#EC3127" stroke-width="1"/>
<line x1="69.1" y1="461.94" x2="74.7" y2="461.94" stroke="#EC3127" stroke-width="1"/>
<line x1="68.9" y1="453.27" x2="74.9" y2="453.27" stroke="#EC3127" stroke-width="1"/>
<circle cx="87" cy="435.93" r="1.75" fill="#000"/>
<circle cx="89.1" cy="436.51" r="1.75" fill="#000"/>
<circle cx="84.9" cy="437.09" r="1.75" fill="#000"/>
<circle cx="91.2" cy="437.67" r="1.75" fill="#000"/>
<circle cx="87" cy="438.25" r="1.75" fill="#000"/>
<circle cx="89.1" cy="438.82" r="1.75" fill="#000"/>
<circle cx="84.9" cy="439.4" r="1.75" fill="#000"/>
<circle cx="91.2" cy="439.98" r="1.75" fill="#000"/>
<circle cx="87" cy="440.56" r="1.75" fill="#000"/>
<circle cx="89.1" cy="441.14" r="1.75" fill="#000"/>
<circle cx="84.9" cy="441.71" r="1.75" fill="#000"/>
<circle cx="91.2" cy="442.29" r="1.75" fill="#000"/>
<circle cx="87" cy="442.87" r="1.75" fill="#000"/>
<circle cx="89.1" cy="443.45" r="1.75" fill="#000"/>
<circle cx="84.9" cy="444.03" r="1.75" fill="#000"/>
<circle cx="91.2" cy="444.6" r="1.75" fill="#000"/>
<circle cx="87" cy="445.18" r="1.75" fill="#000"/>
<circle cx="89.1" cy="445.76" r="1.75" fill="#000"/>
<circle cx="85.6" cy="446.92" r="1.75" fill="#000"/>
<circle cx="87.7" cy="448.07" r="1.75" fill="#000"/>
<circle cx="85.6" cy="449.23" r="1.75" fill="#000"/>
<circle cx="87" cy="452.7" r="1.75" fill="#000"/>
<line x1="87" y1="439.98" x2="87" y2="445.76" stroke="#000" stroke-width="1"/>
<line x1="84.2" y1="439.98" x2="89.8" y2="439.98" stroke="#000" stroke-width="1"/>
<line x1="84.2" y1="445.76" x2="89.8" y2="445.76" stroke="#000" stroke-width="1"/>
<line x1="84" y1="442.87" x2="90" y2="442.87" stroke="#000" stroke-width="1"/>
<circle cx="102" cy="437.67" r="1.75" fill="#EC3127"/>
<circle cx="104.1" cy="438.25" r="1.75" fill="#EC3127"/>
<circle cx="99.9" cy="438.82" r="1.75" fill="#EC3127"/>
<circle cx="106.2" cy="439.4" r="1.75" fill="#EC3127"/>
<circle cx="102" cy="439.98" r="1.75" fill="#EC3127"/>
<circle cx="104.1" cy="440.56" r="1.75" fill="#EC3127"/>
<circle cx="99.9" cy="441.14" r="1.75" fill="#EC3127"/>
<circle cx="106.2" cy="441.71" r="1.75" fill="#EC3127"/>
<circle cx="102" cy="442.29" r="1.75" fill="#EC3127"/>
<circle cx="104.1" cy="442.87" r="1.75" fill="#EC3127"/>
<circle cx="100.6" cy="444.03" r="1.75" fill="#EC3127"/>
<circle cx="102.7" cy="444.6" r="1.75" fill="#EC3127"/>
<circle cx="104.8" cy="445.76" r="1.75" fill="#EC3127"/>
<circle cx="101.3" cy="446.34" r="1.75" fill="#EC3127"/>
<circle cx="103.4" cy="447.49" r="1.75" fill="#EC3127"/>
<circle cx="101.3" cy="448.65" r="1.75" fill="#EC3127"/>
<circle cx="103.4" cy="449.81" r="1.75" fill="#EC3127"/>
<circle cx="101.3" cy="450.96" r="1.75" fill="#EC3127"/>
<circle cx="103.4" cy="452.12" r="1.75" fill="#EC3127"/>
<circle cx="102" cy="453.85" r="1.75" fill="#EC3127"/>
<circle cx="103.4" cy="455.59" r="1.75" fill="#EC3127"/>
<circle cx="102" cy="457.32" r="1.75" fill="#EC3127"/>
<line x1="102" y1="441.71" x2="102" y2="449.81" stroke="#EC3127" stroke-width="1"/>
<line x1="99.2" y1="441.71" x2="104.8" y2="441.71" stroke="#EC3127" stroke-width="1"/>
<line x1="99.2" y1="449.81" x2="104.8" y2="449.81" stroke="#EC3127" stroke-width="1"/>
<line x1="99" y1="445.76" x2="105" y2="445.76" stroke="#EC3127" stroke-width="1"/>
<line x1="56.9" y1="416.9" x2="71.9" y2="416.9" stroke="#000" stroke-width="1.1"/>
<text transform="translate(64.4 410.9) scale(0.8870 1)" y="3.31" font-size="9.2" text-anchor="middle">0.0002</text>
<line x1="71.9" y1="400.3" x2="102" y2="400.3" stroke="#000" stroke-width="1.1"/>
<text transform="translate(86.95 394.5) scale(0.8870 1)" y="3.31" font-size="9.2" text-anchor="middle">0.0111</text>
<text transform="translate(9 451.95) rotate(-90) scale(0.8870 1)" y="3.31" font-size="9.2" text-anchor="middle">CD14<tspan font-size="5.2" dy="-3">+</tspan><tspan dy="3"> </tspan>CD16<tspan font-size="5.2" dy="-3">–</tspan><tspan dy="3"> </tspan></text>
<text transform="translate(18 451.95) rotate(-90) scale(0.8870 1)" y="3.31" font-size="9.2" text-anchor="middle">(% of CD14<tspan font-size="5.2" dy="-3">+</tspan><tspan dy="3"> </tspan>population)</text>
<text transform="translate(58.4 508) rotate(-45) scale(0.8870 1)" font-size="9.2" text-anchor="end">Control</text>
<text transform="translate(73.4 508) rotate(-45) scale(0.8870 1)" font-size="9.2" text-anchor="end">FABP7 300 ng/ml</text>
<text transform="translate(88.5 508) rotate(-45) scale(0.8870 1)" font-size="9.2" text-anchor="end">2DG</text>
<text transform="translate(103.5 508) rotate(-45) scale(0.8870 1)" font-size="9.2" text-anchor="end">FABP7 + 2DG</text>
<line x1="168.6" y1="405.68" x2="168.6" y2="492.5" stroke="#000" stroke-width="1.2"/>
<line x1="168.1" y1="492" x2="233" y2="492" stroke="#000" stroke-width="1.2"/>
<line x1="162.1" y1="405.68" x2="168.6" y2="405.68" stroke="#000" stroke-width="1.1"/>
<text transform="translate(160 405.68) scale(0.8870 1)" y="3.31" font-size="9.2" text-anchor="end">80</text>
<line x1="162.1" y1="427.26" x2="168.6" y2="427.26" stroke="#000" stroke-width="1.1"/>
<text transform="translate(160 427.26) scale(0.8870 1)" y="3.31" font-size="9.2" text-anchor="end">60</text>
<line x1="162.1" y1="448.84" x2="168.6" y2="448.84" stroke="#000" stroke-width="1.1"/>
<text transform="translate(160 448.84) scale(0.8870 1)" y="3.31" font-size="9.2" text-anchor="end">40</text>
<line x1="162.1" y1="470.42" x2="168.6" y2="470.42" stroke="#000" stroke-width="1.1"/>
<text transform="translate(160 470.42) scale(0.8870 1)" y="3.31" font-size="9.2" text-anchor="end">20</text>
<line x1="162.1" y1="492" x2="168.6" y2="492" stroke="#000" stroke-width="1.1"/>
<text transform="translate(160 492) scale(0.8870 1)" y="3.31" font-size="9.2" text-anchor="end">0</text>
<rect x="173.8" y="469.88" width="8.8" height="22.12" stroke="#000" fill="#fff" stroke-width="1.1"/>
<line x1="178.2" y1="492" x2="178.2" y2="498.5" stroke="#000" stroke-width="1.1"/>
<rect x="188.8" y="457.47" width="8.8" height="34.53" stroke="#000" fill="#fff" stroke-width="1.1"/>
<line x1="193.2" y1="492" x2="193.2" y2="498.5" stroke="#000" stroke-width="1.1"/>
<rect x="204" y="475.81" width="8.8" height="16.19" stroke="#000" fill="#fff" stroke-width="1.1"/>
<line x1="208.4" y1="492" x2="208.4" y2="498.5" stroke="#000" stroke-width="1.1"/>
<rect x="219" y="470.96" width="8.8" height="21.04" stroke="#000" fill="#fff" stroke-width="1.1"/>
<line x1="223.4" y1="492" x2="223.4" y2="498.5" stroke="#000" stroke-width="1.1"/>
<circle cx="178.2" cy="435.89" r="1.75" fill="#000"/>
<circle cx="178.2" cy="446.68" r="1.75" fill="#000"/>
<circle cx="178.9" cy="448.84" r="1.75" fill="#000"/>
<circle cx="178.2" cy="451" r="1.75" fill="#000"/>
<circle cx="178.2" cy="454.24" r="1.75" fill="#000"/>
<circle cx="178.2" cy="459.63" r="1.75" fill="#000"/>
<circle cx="178.9" cy="461.79" r="1.75" fill="#000"/>
<circle cx="178.2" cy="463.95" r="1.75" fill="#000"/>
<circle cx="178.9" cy="466.1" r="1.75" fill="#000"/>
<circle cx="178.2" cy="468.26" r="1.75" fill="#000"/>
<circle cx="180.3" cy="469.34" r="1.75" fill="#000"/>
<circle cx="177.5" cy="470.42" r="1.75" fill="#000"/>
<circle cx="179.6" cy="471.5" r="1.75" fill="#000"/>
<circle cx="176.8" cy="472.58" r="1.75" fill="#000"/>
<circle cx="178.9" cy="473.66" r="1.75" fill="#000"/>
<circle cx="176.1" cy="474.74" r="1.75" fill="#000"/>
<circle cx="178.2" cy="475.81" r="1.75" fill="#000"/>
<circle cx="180.3" cy="476.89" r="1.75" fill="#000"/>
<circle cx="178.2" cy="479.05" r="1.75" fill="#000"/>
<circle cx="180.3" cy="480.13" r="1.75" fill="#000"/>
<circle cx="177.5" cy="481.21" r="1.75" fill="#000"/>
<circle cx="179.6" cy="482.29" r="1.75" fill="#000"/>
<circle cx="176.8" cy="483.37" r="1.75" fill="#000"/>
<circle cx="178.9" cy="484.45" r="1.75" fill="#000"/>
<circle cx="176.1" cy="485.53" r="1.75" fill="#000"/>
<circle cx="178.2" cy="486.61" r="1.75" fill="#000"/>
<line x1="178.2" y1="454.77" x2="178.2" y2="484.99" stroke="#000" stroke-width="1"/>
<line x1="175.4" y1="454.77" x2="181" y2="454.77" stroke="#000" stroke-width="1"/>
<line x1="175.4" y1="484.99" x2="181" y2="484.99" stroke="#000" stroke-width="1"/>
<line x1="175.2" y1="469.88" x2="181.2" y2="469.88" stroke="#000" stroke-width="1"/>
<circle cx="193.2" cy="413.23" r="1.75" fill="#EC3127"/>
<circle cx="193.2" cy="427.26" r="1.75" fill="#EC3127"/>
<circle cx="193.2" cy="438.05" r="1.75" fill="#EC3127"/>
<circle cx="195.3" cy="439.13" r="1.75" fill="#EC3127"/>
<circle cx="192.5" cy="440.21" r="1.75" fill="#EC3127"/>
<circle cx="194.6" cy="441.29" r="1.75" fill="#EC3127"/>
<circle cx="193.2" cy="443.44" r="1.75" fill="#EC3127"/>
<circle cx="193.2" cy="446.68" r="1.75" fill="#EC3127"/>
<circle cx="193.9" cy="448.84" r="1.75" fill="#EC3127"/>
<circle cx="193.2" cy="451" r="1.75" fill="#EC3127"/>
<circle cx="193.9" cy="453.16" r="1.75" fill="#EC3127"/>
<circle cx="193.2" cy="455.31" r="1.75" fill="#EC3127"/>
<circle cx="193.9" cy="457.47" r="1.75" fill="#EC3127"/>
<circle cx="193.2" cy="459.63" r="1.75" fill="#EC3127"/>
<circle cx="193.9" cy="461.79" r="1.75" fill="#EC3127"/>
<circle cx="193.2" cy="463.95" r="1.75" fill="#EC3127"/>
<circle cx="195.3" cy="465.02" r="1.75" fill="#EC3127"/>
<circle cx="192.5" cy="466.1" r="1.75" fill="#EC3127"/>
<circle cx="193.2" cy="468.26" r="1.75" fill="#EC3127"/>
<circle cx="193.9" cy="470.42" r="1.75" fill="#EC3127"/>
<circle cx="193.2" cy="472.58" r="1.75" fill="#EC3127"/>
<circle cx="193.2" cy="475.81" r="1.75" fill="#EC3127"/>
<circle cx="193.2" cy="479.05" r="1.75" fill="#EC3127"/>
<circle cx="193.9" cy="481.21" r="1.75" fill="#EC3127"/>
<circle cx="193.2" cy="484.45" r="1.75" fill="#EC3127"/>
<line x1="193.2" y1="439.13" x2="193.2" y2="475.81" stroke="#EC3127" stroke-width="1"/>
<line x1="190.4" y1="439.13" x2="196" y2="439.13" stroke="#EC3127" stroke-width="1"/>
<line x1="190.4" y1="475.81" x2="196" y2="475.81" stroke="#EC3127" stroke-width="1"/>
<line x1="190.2" y1="457.47" x2="196.2" y2="457.47" stroke="#EC3127" stroke-width="1"/>
<circle cx="208.4" cy="457.47" r="1.75" fill="#000"/>
<circle cx="208.4" cy="463.95" r="1.75" fill="#000"/>
<circle cx="209.1" cy="466.1" r="1.75" fill="#000"/>
<circle cx="207" cy="467.18" r="1.75" fill="#000"/>
<circle cx="209.8" cy="468.26" r="1.75" fill="#000"/>
<circle cx="207.7" cy="469.34" r="1.75" fill="#000"/>
<circle cx="210.5" cy="470.42" r="1.75" fill="#000"/>
<circle cx="208.4" cy="471.5" r="1.75" fill="#000"/>
<circle cx="206.3" cy="472.58" r="1.75" fill="#000"/>
<circle cx="209.1" cy="473.66" r="1.75" fill="#000"/>
<circle cx="207" cy="474.74" r="1.75" fill="#000"/>
<circle cx="209.8" cy="475.81" r="1.75" fill="#000"/>
<circle cx="207.7" cy="476.89" r="1.75" fill="#000"/>
<circle cx="210.5" cy="477.97" r="1.75" fill="#000"/>
<circle cx="208.4" cy="479.05" r="1.75" fill="#000"/>
<circle cx="205.6" cy="479.05" r="1.75" fill="#000"/>
<circle cx="211.2" cy="480.13" r="1.75" fill="#000"/>
<circle cx="209.1" cy="481.21" r="1.75" fill="#000"/>
<circle cx="207" cy="482.29" r="1.75" fill="#000"/>
<circle cx="209.8" cy="483.37" r="1.75" fill="#000"/>
<circle cx="207.7" cy="484.45" r="1.75" fill="#000"/>
<circle cx="210.5" cy="485.53" r="1.75" fill="#000"/>
<circle cx="208.4" cy="486.61" r="1.75" fill="#000"/>
<circle cx="206.3" cy="487.68" r="1.75" fill="#000"/>
<line x1="208.4" y1="467.18" x2="208.4" y2="484.45" stroke="#000" stroke-width="1"/>
<line x1="205.6" y1="467.18" x2="211.2" y2="467.18" stroke="#000" stroke-width="1"/>
<line x1="205.6" y1="484.45" x2="211.2" y2="484.45" stroke="#000" stroke-width="1"/>
<line x1="205.4" y1="475.81" x2="211.4" y2="475.81" stroke="#000" stroke-width="1"/>
<circle cx="223.4" cy="449.92" r="1.75" fill="#EC3127"/>
<circle cx="225.5" cy="451" r="1.75" fill="#EC3127"/>
<circle cx="223.4" cy="453.16" r="1.75" fill="#EC3127"/>
<circle cx="223.4" cy="456.39" r="1.75" fill="#EC3127"/>
<circle cx="223.4" cy="459.63" r="1.75" fill="#EC3127"/>
<circle cx="224.1" cy="461.79" r="1.75" fill="#EC3127"/>
<circle cx="223.4" cy="463.95" r="1.75" fill="#EC3127"/>
<circle cx="224.1" cy="466.1" r="1.75" fill="#EC3127"/>
<circle cx="223.4" cy="468.26" r="1.75" fill="#EC3127"/>
<circle cx="225.5" cy="469.34" r="1.75" fill="#EC3127"/>
<circle cx="222.7" cy="470.42" r="1.75" fill="#EC3127"/>
<circle cx="224.8" cy="471.5" r="1.75" fill="#EC3127"/>
<circle cx="222" cy="472.58" r="1.75" fill="#EC3127"/>
<circle cx="224.1" cy="473.66" r="1.75" fill="#EC3127"/>
<circle cx="221.3" cy="474.74" r="1.75" fill="#EC3127"/>
<circle cx="223.4" cy="475.81" r="1.75" fill="#EC3127"/>
<circle cx="225.5" cy="476.89" r="1.75" fill="#EC3127"/>
<circle cx="222.7" cy="477.97" r="1.75" fill="#EC3127"/>
<circle cx="224.8" cy="479.05" r="1.75" fill="#EC3127"/>
<circle cx="222" cy="480.13" r="1.75" fill="#EC3127"/>
<circle cx="224.1" cy="481.21" r="1.75" fill="#EC3127"/>
<circle cx="221.3" cy="482.29" r="1.75" fill="#EC3127"/>
<circle cx="223.4" cy="483.37" r="1.75" fill="#EC3127"/>
<circle cx="225.5" cy="484.45" r="1.75" fill="#EC3127"/>
<line x1="223.4" y1="460.17" x2="223.4" y2="481.75" stroke="#EC3127" stroke-width="1"/>
<line x1="220.6" y1="460.17" x2="226.2" y2="460.17" stroke="#EC3127" stroke-width="1"/>
<line x1="220.6" y1="481.75" x2="226.2" y2="481.75" stroke="#EC3127" stroke-width="1"/>
<line x1="220.4" y1="470.96" x2="226.4" y2="470.96" stroke="#EC3127" stroke-width="1"/>
<line x1="178.2" y1="409.3" x2="193.2" y2="409.3" stroke="#000" stroke-width="1.1"/>
<text transform="translate(185.7 405.3) scale(0.8870 1)" y="3.31" font-size="9.2" text-anchor="middle">0.0002</text>
<line x1="193.2" y1="398.1" x2="223.4" y2="398.1" stroke="#000" stroke-width="1.1"/>
<text transform="translate(208.3 392.3) scale(0.8870 1)" y="3.31" font-size="9.2" text-anchor="middle">0.0111</text>
<text transform="translate(133.5 452.14) rotate(-90) scale(0.8870 1)" y="3.31" font-size="9.2" text-anchor="middle">CD14<tspan font-size="5.2" dy="-3">+</tspan><tspan dy="3"> </tspan>CD16<tspan font-size="5.2" dy="-3">+</tspan><tspan dy="3"> </tspan></text>
<text transform="translate(142 452.14) rotate(-90) scale(0.8870 1)" y="3.31" font-size="9.2" text-anchor="middle">(% of CD14<tspan font-size="5.2" dy="-3">+</tspan><tspan dy="3"> </tspan>population)</text>
<text transform="translate(179.7 508) rotate(-45) scale(0.8870 1)" font-size="9.2" text-anchor="end">Control</text>
<text transform="translate(194.7 508) rotate(-45) scale(0.8870 1)" font-size="9.2" text-anchor="end">FABP7 300 ng/ml</text>
<text transform="translate(209.9 508) rotate(-45) scale(0.8870 1)" font-size="9.2" text-anchor="end">2DG</text>
<text transform="translate(224.9 508) rotate(-45) scale(0.8870 1)" font-size="9.2" text-anchor="end">FABP7 + 2DG</text>
<line x1="292.8" y1="405.7" x2="292.8" y2="493" stroke="#000" stroke-width="1.2"/>
<line x1="292.3" y1="492.5" x2="357.4" y2="492.5" stroke="#000" stroke-width="1.2"/>
<line x1="286.3" y1="405.7" x2="292.8" y2="405.7" stroke="#000" stroke-width="1.1"/>
<text transform="translate(284.2 405.7) scale(0.8870 1)" y="3.31" font-size="9.2" text-anchor="end">100</text>
<line x1="286.3" y1="423.06" x2="292.8" y2="423.06" stroke="#000" stroke-width="1.1"/>
<text transform="translate(284.2 423.06) scale(0.8870 1)" y="3.31" font-size="9.2" text-anchor="end">80</text>
<line x1="286.3" y1="440.42" x2="292.8" y2="440.42" stroke="#000" stroke-width="1.1"/>
<text transform="translate(284.2 440.42) scale(0.8870 1)" y="3.31" font-size="9.2" text-anchor="end">60</text>
<line x1="286.3" y1="457.78" x2="292.8" y2="457.78" stroke="#000" stroke-width="1.1"/>
<text transform="translate(284.2 457.78) scale(0.8870 1)" y="3.31" font-size="9.2" text-anchor="end">40</text>
<line x1="286.3" y1="475.14" x2="292.8" y2="475.14" stroke="#000" stroke-width="1.1"/>
<text transform="translate(284.2 475.14) scale(0.8870 1)" y="3.31" font-size="9.2" text-anchor="end">20</text>
<line x1="286.3" y1="492.5" x2="292.8" y2="492.5" stroke="#000" stroke-width="1.1"/>
<text transform="translate(284.2 492.5) scale(0.8870 1)" y="3.31" font-size="9.2" text-anchor="end">0</text>
<rect x="298.2" y="469.5" width="8.8" height="23" stroke="#000" fill="#fff" stroke-width="1.1"/>
<line x1="302.6" y1="492.5" x2="302.6" y2="499" stroke="#000" stroke-width="1.1"/>
<rect x="313.2" y="456.04" width="8.8" height="36.46" stroke="#000" fill="#fff" stroke-width="1.1"/>
<line x1="317.6" y1="492.5" x2="317.6" y2="499" stroke="#000" stroke-width="1.1"/>
<rect x="328.2" y="478.61" width="8.8" height="13.89" stroke="#000" fill="#fff" stroke-width="1.1"/>
<line x1="332.6" y1="492.5" x2="332.6" y2="499" stroke="#000" stroke-width="1.1"/>
<rect x="343.2" y="466.89" width="8.8" height="25.61" stroke="#000" fill="#fff" stroke-width="1.1"/>
<line x1="347.6" y1="492.5" x2="347.6" y2="499" stroke="#000" stroke-width="1.1"/>
<circle cx="302.6" cy="440.42" r="1.75" fill="#000"/>
<circle cx="302.6" cy="447.36" r="1.75" fill="#000"/>
<circle cx="302.6" cy="450.84" r="1.75" fill="#000"/>
<circle cx="302.6" cy="453.44" r="1.75" fill="#000"/>
<circle cx="302.6" cy="456.04" r="1.75" fill="#000"/>
<circle cx="304" cy="457.78" r="1.75" fill="#000"/>
<circle cx="302.6" cy="459.52" r="1.75" fill="#000"/>
<circle cx="304" cy="461.25" r="1.75" fill="#000"/>
<circle cx="302.6" cy="462.99" r="1.75" fill="#000"/>
<circle cx="304" cy="464.72" r="1.75" fill="#000"/>
<circle cx="302.6" cy="466.46" r="1.75" fill="#000"/>
<circle cx="304" cy="468.2" r="1.75" fill="#000"/>
<circle cx="301.9" cy="469.06" r="1.75" fill="#000"/>
<circle cx="305.4" cy="469.93" r="1.75" fill="#000"/>
<circle cx="303.3" cy="470.8" r="1.75" fill="#000"/>
<circle cx="301.2" cy="471.67" r="1.75" fill="#000"/>
<circle cx="302.6" cy="473.4" r="1.75" fill="#000"/>
<circle cx="304" cy="475.14" r="1.75" fill="#000"/>
<circle cx="302.6" cy="476.88" r="1.75" fill="#000"/>
<circle cx="304" cy="478.61" r="1.75" fill="#000"/>
<circle cx="302.6" cy="480.35" r="1.75" fill="#000"/>
<circle cx="304" cy="482.08" r="1.75" fill="#000"/>
<circle cx="302.6" cy="483.82" r="1.75" fill="#000"/>
<circle cx="304.7" cy="484.69" r="1.75" fill="#000"/>
<circle cx="301.2" cy="485.56" r="1.75" fill="#000"/>
<line x1="302.6" y1="457.35" x2="302.6" y2="481.65" stroke="#000" stroke-width="1"/>
<line x1="299.8" y1="457.35" x2="305.4" y2="457.35" stroke="#000" stroke-width="1"/>
<line x1="299.8" y1="481.65" x2="305.4" y2="481.65" stroke="#000" stroke-width="1"/>
<line x1="299.6" y1="469.5" x2="305.6" y2="469.5" stroke="#000" stroke-width="1"/>
<circle cx="317.6" cy="422.19" r="1.75" fill="#EC3127"/>
<circle cx="317.6" cy="428.27" r="1.75" fill="#EC3127"/>
<circle cx="317.6" cy="433.48" r="1.75" fill="#EC3127"/>
<circle cx="317.6" cy="436.08" r="1.75" fill="#EC3127"/>
<circle cx="317.6" cy="438.68" r="1.75" fill="#EC3127"/>
<circle cx="317.6" cy="442.16" r="1.75" fill="#EC3127"/>
<circle cx="317.6" cy="444.76" r="1.75" fill="#EC3127"/>
<circle cx="317.6" cy="447.36" r="1.75" fill="#EC3127"/>
<circle cx="319" cy="449.1" r="1.75" fill="#EC3127"/>
<circle cx="317.6" cy="450.84" r="1.75" fill="#EC3127"/>
<circle cx="319" cy="452.57" r="1.75" fill="#EC3127"/>
<circle cx="317.6" cy="454.31" r="1.75" fill="#EC3127"/>
<circle cx="319" cy="456.04" r="1.75" fill="#EC3127"/>
<circle cx="317.6" cy="457.78" r="1.75" fill="#EC3127"/>
<circle cx="319" cy="459.52" r="1.75" fill="#EC3127"/>
<circle cx="317.6" cy="461.25" r="1.75" fill="#EC3127"/>
<circle cx="319" cy="462.99" r="1.75" fill="#EC3127"/>
<circle cx="317.6" cy="464.72" r="1.75" fill="#EC3127"/>
<circle cx="319" cy="466.46" r="1.75" fill="#EC3127"/>
<circle cx="317.6" cy="468.2" r="1.75" fill="#EC3127"/>
<circle cx="317.6" cy="470.8" r="1.75" fill="#EC3127"/>
<circle cx="317.6" cy="473.4" r="1.75" fill="#EC3127"/>
<circle cx="317.6" cy="476.88" r="1.75" fill="#EC3127"/>
<circle cx="317.6" cy="480.35" r="1.75" fill="#EC3127"/>
<circle cx="317.6" cy="483.82" r="1.75" fill="#EC3127"/>
<line x1="317.6" y1="438.68" x2="317.6" y2="473.4" stroke="#EC3127" stroke-width="1"/>
<line x1="314.8" y1="438.68" x2="320.4" y2="438.68" stroke="#EC3127" stroke-width="1"/>
<line x1="314.8" y1="473.4" x2="320.4" y2="473.4" stroke="#EC3127" stroke-width="1"/>
<line x1="314.6" y1="456.04" x2="320.6" y2="456.04" stroke="#EC3127" stroke-width="1"/>
<circle cx="332.6" cy="464.72" r="1.75" fill="#000"/>
<circle cx="334" cy="466.46" r="1.75" fill="#000"/>
<circle cx="332.6" cy="468.2" r="1.75" fill="#000"/>
<circle cx="334" cy="469.93" r="1.75" fill="#000"/>
<circle cx="332.6" cy="471.67" r="1.75" fill="#000"/>
<circle cx="334" cy="473.4" r="1.75" fill="#000"/>
<circle cx="332.6" cy="475.14" r="1.75" fill="#000"/>
<circle cx="334.7" cy="476.01" r="1.75" fill="#000"/>
<circle cx="331.2" cy="476.88" r="1.75" fill="#000"/>
<circle cx="333.3" cy="477.74" r="1.75" fill="#000"/>
<circle cx="335.4" cy="478.61" r="1.75" fill="#000"/>
<circle cx="331.9" cy="479.48" r="1.75" fill="#000"/>
<circle cx="334" cy="480.35" r="1.75" fill="#000"/>
<circle cx="330.5" cy="481.22" r="1.75" fill="#000"/>
<circle cx="332.6" cy="482.08" r="1.75" fill="#000"/>
<circle cx="334.7" cy="482.95" r="1.75" fill="#000"/>
<circle cx="331.2" cy="483.82" r="1.75" fill="#000"/>
<circle cx="333.3" cy="484.69" r="1.75" fill="#000"/>
<circle cx="335.4" cy="485.56" r="1.75" fill="#000"/>
<circle cx="331.9" cy="486.42" r="1.75" fill="#000"/>
<circle cx="334" cy="487.29" r="1.75" fill="#000"/>
<circle cx="330.5" cy="488.16" r="1.75" fill="#000"/>
<line x1="332.6" y1="471.67" x2="332.6" y2="485.56" stroke="#000" stroke-width="1"/>
<line x1="329.8" y1="471.67" x2="335.4" y2="471.67" stroke="#000" stroke-width="1"/>
<line x1="329.8" y1="485.56" x2="335.4" y2="485.56" stroke="#000" stroke-width="1"/>
<line x1="329.6" y1="478.61" x2="335.6" y2="478.61" stroke="#000" stroke-width="1"/>
<circle cx="347.6" cy="438.68" r="1.75" fill="#EC3127"/>
<circle cx="347.6" cy="445.63" r="1.75" fill="#EC3127"/>
<circle cx="347.6" cy="453.44" r="1.75" fill="#EC3127"/>
<circle cx="349" cy="455.18" r="1.75" fill="#EC3127"/>
<circle cx="347.6" cy="456.91" r="1.75" fill="#EC3127"/>
<circle cx="349.7" cy="457.78" r="1.75" fill="#EC3127"/>
<circle cx="347.6" cy="459.52" r="1.75" fill="#EC3127"/>
<circle cx="349" cy="461.25" r="1.75" fill="#EC3127"/>
<circle cx="347.6" cy="462.99" r="1.75" fill="#EC3127"/>
<circle cx="349" cy="464.72" r="1.75" fill="#EC3127"/>
<circle cx="347.6" cy="466.46" r="1.75" fill="#EC3127"/>
<circle cx="349" cy="468.2" r="1.75" fill="#EC3127"/>
<circle cx="347.6" cy="469.93" r="1.75" fill="#EC3127"/>
<circle cx="349.7" cy="470.8" r="1.75" fill="#EC3127"/>
<circle cx="346.2" cy="471.67" r="1.75" fill="#EC3127"/>
<circle cx="347.6" cy="473.4" r="1.75" fill="#EC3127"/>
<circle cx="349" cy="475.14" r="1.75" fill="#EC3127"/>
<circle cx="347.6" cy="476.88" r="1.75" fill="#EC3127"/>
<circle cx="349" cy="478.61" r="1.75" fill="#EC3127"/>
<circle cx="347.6" cy="480.35" r="1.75" fill="#EC3127"/>
<circle cx="349" cy="482.08" r="1.75" fill="#EC3127"/>
<circle cx="346.9" cy="482.95" r="1.75" fill="#EC3127"/>
<line x1="347.6" y1="455.61" x2="347.6" y2="478.18" stroke="#EC3127" stroke-width="1"/>
<line x1="344.8" y1="455.61" x2="350.4" y2="455.61" stroke="#EC3127" stroke-width="1"/>
<line x1="344.8" y1="478.18" x2="350.4" y2="478.18" stroke="#EC3127" stroke-width="1"/>
<line x1="344.6" y1="466.89" x2="350.6" y2="466.89" stroke="#EC3127" stroke-width="1"/>
<line x1="302.6" y1="414.7" x2="317.6" y2="414.7" stroke="#000" stroke-width="1.1"/>
<text transform="translate(310.1 409.3) scale(0.8870 1)" y="3.31" font-size="9.2" text-anchor="middle">2.09e-05</text>
<line x1="317.6" y1="400.8" x2="347.6" y2="400.8" stroke="#000" stroke-width="1.1"/>
<text transform="translate(332.6 395.2) scale(0.8870 1)" y="3.31" font-size="9.2" text-anchor="middle">0.0136</text>
<text transform="translate(255.9 452.4) rotate(-90) scale(0.8870 1)" y="3.31" font-size="9.2" text-anchor="middle">CD14<tspan font-size="5.2" dy="-3">+</tspan><tspan dy="3"> </tspan>CD80<tspan font-size="5.2" dy="-3">+</tspan><tspan dy="3"> </tspan></text>
<text transform="translate(265 452.4) rotate(-90) scale(0.8870 1)" y="3.31" font-size="9.2" text-anchor="middle">(% of CD14<tspan font-size="5.2" dy="-3">+</tspan><tspan dy="3"> </tspan>population)</text>
<text transform="translate(304.1 508.5) rotate(-45) scale(0.8870 1)" font-size="9.2" text-anchor="end">Control</text>
<text transform="translate(319.1 508.5) rotate(-45) scale(0.8870 1)" font-size="9.2" text-anchor="end">FABP7 300 ng/ml</text>
<text transform="translate(334.1 508.5) rotate(-45) scale(0.8870 1)" font-size="9.2" text-anchor="end">2DG</text>
<text transform="translate(349.1 508.5) rotate(-45) scale(0.8870 1)" font-size="9.2" text-anchor="end">FABP7 + 2DG</text>
<line x1="418.8" y1="405.7" x2="418.8" y2="493" stroke="#000" stroke-width="1.2"/>
<line x1="418.3" y1="492.5" x2="484.1" y2="492.5" stroke="#000" stroke-width="1.2"/>
<line x1="412.3" y1="405.7" x2="418.8" y2="405.7" stroke="#000" stroke-width="1.1"/>
<text transform="translate(410.2 405.7) scale(0.8870 1)" y="3.31" font-size="9.2" text-anchor="end">100</text>
<line x1="412.3" y1="423.06" x2="418.8" y2="423.06" stroke="#000" stroke-width="1.1"/>
<text transform="translate(410.2 423.06) scale(0.8870 1)" y="3.31" font-size="9.2" text-anchor="end">80</text>
<line x1="412.3" y1="440.42" x2="418.8" y2="440.42" stroke="#000" stroke-width="1.1"/>
<text transform="translate(410.2 440.42) scale(0.8870 1)" y="3.31" font-size="9.2" text-anchor="end">60</text>
<line x1="412.3" y1="457.78" x2="418.8" y2="457.78" stroke="#000" stroke-width="1.1"/>
<text transform="translate(410.2 457.78) scale(0.8870 1)" y="3.31" font-size="9.2" text-anchor="end">40</text>
<line x1="412.3" y1="475.14" x2="418.8" y2="475.14" stroke="#000" stroke-width="1.1"/>
<text transform="translate(410.2 475.14) scale(0.8870 1)" y="3.31" font-size="9.2" text-anchor="end">20</text>
<line x1="412.3" y1="492.5" x2="418.8" y2="492.5" stroke="#000" stroke-width="1.1"/>
<text transform="translate(410.2 492.5) scale(0.8870 1)" y="3.31" font-size="9.2" text-anchor="end">0</text>
<rect x="424.4" y="463.86" width="8.8" height="28.64" stroke="#000" fill="#fff" stroke-width="1.1"/>
<line x1="428.8" y1="492.5" x2="428.8" y2="499" stroke="#000" stroke-width="1.1"/>
<rect x="439.4" y="456.04" width="8.8" height="36.46" stroke="#000" fill="#fff" stroke-width="1.1"/>
<line x1="443.8" y1="492.5" x2="443.8" y2="499" stroke="#000" stroke-width="1.1"/>
<rect x="454.4" y="478.61" width="8.8" height="13.89" stroke="#000" fill="#fff" stroke-width="1.1"/>
<line x1="458.8" y1="492.5" x2="458.8" y2="499" stroke="#000" stroke-width="1.1"/>
<rect x="469.6" y="473.84" width="8.8" height="18.66" stroke="#000" fill="#fff" stroke-width="1.1"/>
<line x1="474" y1="492.5" x2="474" y2="499" stroke="#000" stroke-width="1.1"/>
<circle cx="428.8" cy="429.14" r="1.75" fill="#000"/>
<circle cx="430.2" cy="430.87" r="1.75" fill="#000"/>
<circle cx="428.8" cy="440.42" r="1.75" fill="#000"/>
<circle cx="430.2" cy="442.16" r="1.75" fill="#000"/>
<circle cx="428.8" cy="444.76" r="1.75" fill="#000"/>
<circle cx="428.8" cy="449.1" r="1.75" fill="#000"/>
<circle cx="428.8" cy="453.44" r="1.75" fill="#000"/>
<circle cx="428.8" cy="456.04" r="1.75" fill="#000"/>
<circle cx="430.2" cy="457.78" r="1.75" fill="#000"/>
<circle cx="428.8" cy="459.52" r="1.75" fill="#000"/>
<circle cx="430.2" cy="461.25" r="1.75" fill="#000"/>
<circle cx="428.8" cy="462.99" r="1.75" fill="#000"/>
<circle cx="430.2" cy="464.72" r="1.75" fill="#000"/>
<circle cx="428.8" cy="466.46" r="1.75" fill="#000"/>
<circle cx="430.2" cy="468.2" r="1.75" fill="#000"/>
<circle cx="428.8" cy="469.93" r="1.75" fill="#000"/>
<circle cx="430.2" cy="471.67" r="1.75" fill="#000"/>
<circle cx="428.8" cy="473.4" r="1.75" fill="#000"/>
<circle cx="430.2" cy="475.14" r="1.75" fill="#000"/>
<circle cx="428.8" cy="476.88" r="1.75" fill="#000"/>
<circle cx="430.9" cy="477.74" r="1.75" fill="#000"/>
<circle cx="427.4" cy="478.61" r="1.75" fill="#000"/>
<circle cx="428.8" cy="480.35" r="1.75" fill="#000"/>
<circle cx="430.2" cy="482.08" r="1.75" fill="#000"/>
<circle cx="428.8" cy="484.69" r="1.75" fill="#000"/>
<circle cx="430.2" cy="486.42" r="1.75" fill="#000"/>
<line x1="428.8" y1="449.1" x2="428.8" y2="478.61" stroke="#000" stroke-width="1"/>
<line x1="426" y1="449.1" x2="431.6" y2="449.1" stroke="#000" stroke-width="1"/>
<line x1="426" y1="478.61" x2="431.6" y2="478.61" stroke="#000" stroke-width="1"/>
<line x1="425.8" y1="463.86" x2="431.8" y2="463.86" stroke="#000" stroke-width="1"/>
<circle cx="443.8" cy="416.12" r="1.75" fill="#EC3127"/>
<circle cx="443.8" cy="424.8" r="1.75" fill="#EC3127"/>
<circle cx="443.8" cy="430" r="1.75" fill="#EC3127"/>
<circle cx="443.8" cy="432.61" r="1.75" fill="#EC3127"/>
<circle cx="443.8" cy="438.68" r="1.75" fill="#EC3127"/>
<circle cx="443.8" cy="442.16" r="1.75" fill="#EC3127"/>
<circle cx="443.8" cy="444.76" r="1.75" fill="#EC3127"/>
<circle cx="443.8" cy="449.1" r="1.75" fill="#EC3127"/>
<circle cx="445.2" cy="450.84" r="1.75" fill="#EC3127"/>
<circle cx="443.8" cy="453.44" r="1.75" fill="#EC3127"/>
<circle cx="443.8" cy="456.04" r="1.75" fill="#EC3127"/>
<circle cx="445.2" cy="457.78" r="1.75" fill="#EC3127"/>
<circle cx="443.8" cy="459.52" r="1.75" fill="#EC3127"/>
<circle cx="445.2" cy="461.25" r="1.75" fill="#EC3127"/>
<circle cx="443.8" cy="462.99" r="1.75" fill="#EC3127"/>
<circle cx="445.2" cy="464.72" r="1.75" fill="#EC3127"/>
<circle cx="443.8" cy="466.46" r="1.75" fill="#EC3127"/>
<circle cx="445.2" cy="468.2" r="1.75" fill="#EC3127"/>
<circle cx="443.8" cy="469.93" r="1.75" fill="#EC3127"/>
<circle cx="445.2" cy="471.67" r="1.75" fill="#EC3127"/>
<circle cx="443.8" cy="473.4" r="1.75" fill="#EC3127"/>
<circle cx="445.2" cy="475.14" r="1.75" fill="#EC3127"/>
<circle cx="443.8" cy="479.48" r="1.75" fill="#EC3127"/>
<circle cx="443.8" cy="482.08" r="1.75" fill="#EC3127"/>
<circle cx="443.8" cy="485.56" r="1.75" fill="#EC3127"/>
<line x1="443.8" y1="436.08" x2="443.8" y2="476.01" stroke="#EC3127" stroke-width="1"/>
<line x1="441" y1="436.08" x2="446.6" y2="436.08" stroke="#EC3127" stroke-width="1"/>
<line x1="441" y1="476.01" x2="446.6" y2="476.01" stroke="#EC3127" stroke-width="1"/>
<line x1="440.8" y1="456.04" x2="446.8" y2="456.04" stroke="#EC3127" stroke-width="1"/>
<circle cx="458.8" cy="454.31" r="1.75" fill="#000"/>
<circle cx="460.2" cy="456.04" r="1.75" fill="#000"/>
<circle cx="458.8" cy="457.78" r="1.75" fill="#000"/>
<circle cx="458.8" cy="466.46" r="1.75" fill="#000"/>
<circle cx="460.2" cy="468.2" r="1.75" fill="#000"/>
<circle cx="458.8" cy="469.93" r="1.75" fill="#000"/>
<circle cx="460.2" cy="471.67" r="1.75" fill="#000"/>
<circle cx="458.8" cy="473.4" r="1.75" fill="#000"/>
<circle cx="460.2" cy="475.14" r="1.75" fill="#000"/>
<circle cx="458.8" cy="476.88" r="1.75" fill="#000"/>
<circle cx="460.9" cy="477.74" r="1.75" fill="#000"/>
<circle cx="457.4" cy="478.61" r="1.75" fill="#000"/>
<circle cx="459.5" cy="479.48" r="1.75" fill="#000"/>
<circle cx="461.6" cy="480.35" r="1.75" fill="#000"/>
<circle cx="458.1" cy="481.22" r="1.75" fill="#000"/>
<circle cx="460.2" cy="482.08" r="1.75" fill="#000"/>
<circle cx="456.7" cy="482.95" r="1.75" fill="#000"/>
<circle cx="458.8" cy="483.82" r="1.75" fill="#000"/>
<circle cx="460.9" cy="484.69" r="1.75" fill="#000"/>
<circle cx="457.4" cy="485.56" r="1.75" fill="#000"/>
<circle cx="459.5" cy="486.42" r="1.75" fill="#000"/>
<circle cx="461.6" cy="487.29" r="1.75" fill="#000"/>
<circle cx="458.1" cy="488.16" r="1.75" fill="#000"/>
<circle cx="460.2" cy="489.03" r="1.75" fill="#000"/>
<circle cx="456.7" cy="489.9" r="1.75" fill="#000"/>
<circle cx="458.8" cy="490.76" r="1.75" fill="#000"/>
<line x1="458.8" y1="467.33" x2="458.8" y2="489.9" stroke="#000" stroke-width="1"/>
<line x1="456" y1="467.33" x2="461.6" y2="467.33" stroke="#000" stroke-width="1"/>
<line x1="456" y1="489.9" x2="461.6" y2="489.9" stroke="#000" stroke-width="1"/>
<line x1="455.8" y1="478.61" x2="461.8" y2="478.61" stroke="#000" stroke-width="1"/>
<circle cx="474" cy="449.1" r="1.75" fill="#EC3127"/>
<circle cx="475.4" cy="450.84" r="1.75" fill="#EC3127"/>
<circle cx="474" cy="452.57" r="1.75" fill="#EC3127"/>
<circle cx="474" cy="461.25" r="1.75" fill="#EC3127"/>
<circle cx="474" cy="464.72" r="1.75" fill="#EC3127"/>
<circle cx="475.4" cy="466.46" r="1.75" fill="#EC3127"/>
<circle cx="474" cy="468.2" r="1.75" fill="#EC3127"/>
<circle cx="475.4" cy="469.93" r="1.75" fill="#EC3127"/>
<circle cx="474" cy="471.67" r="1.75" fill="#EC3127"/>
<circle cx="475.4" cy="473.4" r="1.75" fill="#EC3127"/>
<circle cx="473.3" cy="474.27" r="1.75" fill="#EC3127"/>
<circle cx="476.8" cy="475.14" r="1.75" fill="#EC3127"/>
<circle cx="474.7" cy="476.01" r="1.75" fill="#EC3127"/>
<circle cx="472.6" cy="476.88" r="1.75" fill="#EC3127"/>
<circle cx="476.1" cy="477.74" r="1.75" fill="#EC3127"/>
<circle cx="474" cy="478.61" r="1.75" fill="#EC3127"/>
<circle cx="471.9" cy="479.48" r="1.75" fill="#EC3127"/>
<circle cx="475.4" cy="480.35" r="1.75" fill="#EC3127"/>
<circle cx="473.3" cy="481.22" r="1.75" fill="#EC3127"/>
<circle cx="476.8" cy="482.08" r="1.75" fill="#EC3127"/>
<circle cx="474" cy="483.82" r="1.75" fill="#EC3127"/>
<circle cx="475.4" cy="485.56" r="1.75" fill="#EC3127"/>
<circle cx="474" cy="487.29" r="1.75" fill="#EC3127"/>
<circle cx="474" cy="489.9" r="1.75" fill="#EC3127"/>
<line x1="474" y1="461.69" x2="474" y2="485.99" stroke="#EC3127" stroke-width="1"/>
<line x1="471.2" y1="461.69" x2="476.8" y2="461.69" stroke="#EC3127" stroke-width="1"/>
<line x1="471.2" y1="485.99" x2="476.8" y2="485.99" stroke="#EC3127" stroke-width="1"/>
<line x1="471" y1="473.84" x2="477" y2="473.84" stroke="#EC3127" stroke-width="1"/>
<line x1="428.8" y1="410.4" x2="443.8" y2="410.4" stroke="#000" stroke-width="1.1"/>
<text transform="translate(436.3 405.7) scale(0.8870 1)" y="3.31" font-size="9.2" text-anchor="middle">0.0144</text>
<line x1="443.8" y1="399" x2="474" y2="399" stroke="#000" stroke-width="1.1"/>
<text transform="translate(458.9 394.1) scale(0.8870 1)" y="3.31" font-size="9.2" text-anchor="middle">1.29e-05</text>
<text transform="translate(379.4 452.4) rotate(-90) scale(0.8870 1)" y="3.31" font-size="9.2" text-anchor="middle">CD14<tspan font-size="5.2" dy="-3">+</tspan><tspan dy="3"> </tspan>CD86<tspan font-size="5.2" dy="-3">+</tspan><tspan dy="3"> </tspan></text>
<text transform="translate(388.5 452.4) rotate(-90) scale(0.8870 1)" y="3.31" font-size="9.2" text-anchor="middle">(% of CD14<tspan font-size="5.2" dy="-3">+</tspan><tspan dy="3"> </tspan>population)</text>
<text transform="translate(430.3 508.5) rotate(-45) scale(0.8870 1)" font-size="9.2" text-anchor="end">Control</text>
<text transform="translate(445.3 508.5) rotate(-45) scale(0.8870 1)" font-size="9.2" text-anchor="end">FABP7 300 ng/ml</text>
<text transform="translate(460.3 508.5) rotate(-45) scale(0.8870 1)" font-size="9.2" text-anchor="end">2DG</text>
<text transform="translate(475.5 508.5) rotate(-45) scale(0.8870 1)" font-size="9.2" text-anchor="end">FABP7 + 2DG</text>
<line x1="542.5" y1="405.3" x2="542.5" y2="492.3" stroke="#000" stroke-width="1.2"/>
<line x1="542" y1="491.8" x2="607.4" y2="491.8" stroke="#000" stroke-width="1.2"/>
<line x1="536" y1="405.3" x2="542.5" y2="405.3" stroke="#000" stroke-width="1.1"/>
<text transform="translate(533.9 405.3) scale(0.8870 1)" y="3.31" font-size="9.2" text-anchor="end">40</text>
<line x1="536" y1="426.93" x2="542.5" y2="426.93" stroke="#000" stroke-width="1.1"/>
<text transform="translate(533.9 426.93) scale(0.8870 1)" y="3.31" font-size="9.2" text-anchor="end">30</text>
<line x1="536" y1="448.55" x2="542.5" y2="448.55" stroke="#000" stroke-width="1.1"/>
<text transform="translate(533.9 448.55) scale(0.8870 1)" y="3.31" font-size="9.2" text-anchor="end">20</text>
<line x1="536" y1="470.18" x2="542.5" y2="470.18" stroke="#000" stroke-width="1.1"/>
<text transform="translate(533.9 470.18) scale(0.8870 1)" y="3.31" font-size="9.2" text-anchor="end">10</text>
<line x1="536" y1="491.8" x2="542.5" y2="491.8" stroke="#000" stroke-width="1.1"/>
<text transform="translate(533.9 491.8) scale(0.8870 1)" y="3.31" font-size="9.2" text-anchor="end">0</text>
<rect x="548.2" y="488.56" width="8.8" height="3.24" stroke="#000" fill="#fff" stroke-width="1.1"/>
<line x1="552.6" y1="491.8" x2="552.6" y2="498.3" stroke="#000" stroke-width="1.1"/>
<rect x="563.1" y="453.96" width="8.8" height="37.84" stroke="#000" fill="#fff" stroke-width="1.1"/>
<line x1="567.5" y1="491.8" x2="567.5" y2="498.3" stroke="#000" stroke-width="1.1"/>
<rect x="577.9" y="487.48" width="8.8" height="4.32" stroke="#000" fill="#fff" stroke-width="1.1"/>
<line x1="582.3" y1="491.8" x2="582.3" y2="498.3" stroke="#000" stroke-width="1.1"/>
<rect x="592.9" y="469.09" width="8.8" height="22.71" stroke="#000" fill="#fff" stroke-width="1.1"/>
<line x1="597.3" y1="491.8" x2="597.3" y2="498.3" stroke="#000" stroke-width="1.1"/>
<circle cx="552.6" cy="479.91" r="1.75" fill="#000"/>
<circle cx="554.7" cy="480.99" r="1.75" fill="#000"/>
<circle cx="551.9" cy="482.07" r="1.75" fill="#000"/>
<circle cx="554" cy="483.15" r="1.75" fill="#000"/>
<circle cx="551.2" cy="484.23" r="1.75" fill="#000"/>
<circle cx="553.3" cy="485.31" r="1.75" fill="#000"/>
<circle cx="550.5" cy="486.39" r="1.75" fill="#000"/>
<circle cx="552.6" cy="487.48" r="1.75" fill="#000"/>
<circle cx="555.4" cy="487.48" r="1.75" fill="#000"/>
<circle cx="549.8" cy="488.56" r="1.75" fill="#000"/>
<circle cx="556.6" cy="488.56" r="1.75" fill="#000"/>
<circle cx="554" cy="489.2" r="1.75" fill="#000"/>
<circle cx="548.4" cy="489.64" r="1.75" fill="#000"/>
<circle cx="554.63" cy="489.64" r="1.75" fill="#000"/>
<circle cx="551.9" cy="490.07" r="1.75" fill="#000"/>
<circle cx="549.66" cy="490.5" r="1.75" fill="#000"/>
<circle cx="556.8" cy="490.72" r="1.75" fill="#000"/>
<circle cx="556.78" cy="490.94" r="1.75" fill="#000"/>
<circle cx="548.45" cy="491.15" r="1.75" fill="#000"/>
<circle cx="555.86" cy="491.37" r="1.75" fill="#000"/>
<circle cx="554.16" cy="491.58" r="1.75" fill="#000"/>
<circle cx="555.67" cy="491.58" r="1.75" fill="#000"/>
<circle cx="556.9" cy="491.8" r="1.75" fill="#000"/>
<circle cx="550.36" cy="491.8" r="1.75" fill="#000"/>
<line x1="552.6" y1="485.31" x2="552.6" y2="491.8" stroke="#000" stroke-width="1"/>
<line x1="549.8" y1="485.31" x2="555.4" y2="485.31" stroke="#000" stroke-width="1"/>
<line x1="549.8" y1="491.8" x2="555.4" y2="491.8" stroke="#000" stroke-width="1"/>
<line x1="549.6" y1="488.56" x2="555.6" y2="488.56" stroke="#000" stroke-width="1"/>
<circle cx="567.5" cy="412.87" r="1.75" fill="#EC3127"/>
<circle cx="567.5" cy="416.11" r="1.75" fill="#EC3127"/>
<circle cx="568.2" cy="418.27" r="1.75" fill="#EC3127"/>
<circle cx="567.5" cy="421.52" r="1.75" fill="#EC3127"/>
<circle cx="567.5" cy="439.9" r="1.75" fill="#EC3127"/>
<circle cx="567.5" cy="444.23" r="1.75" fill="#EC3127"/>
<circle cx="568.2" cy="446.39" r="1.75" fill="#EC3127"/>
<circle cx="566.1" cy="447.47" r="1.75" fill="#EC3127"/>
<circle cx="568.9" cy="448.55" r="1.75" fill="#EC3127"/>
<circle cx="566.8" cy="449.63" r="1.75" fill="#EC3127"/>
<circle cx="569.6" cy="450.71" r="1.75" fill="#EC3127"/>
<circle cx="567.5" cy="451.79" r="1.75" fill="#EC3127"/>
<circle cx="565.4" cy="452.88" r="1.75" fill="#EC3127"/>
<circle cx="567.5" cy="455.04" r="1.75" fill="#EC3127"/>
<circle cx="568.2" cy="457.2" r="1.75" fill="#EC3127"/>
<circle cx="567.5" cy="461.53" r="1.75" fill="#EC3127"/>
<circle cx="567.5" cy="465.85" r="1.75" fill="#EC3127"/>
<circle cx="567.5" cy="470.18" r="1.75" fill="#EC3127"/>
<circle cx="567.5" cy="474.5" r="1.75" fill="#EC3127"/>
<circle cx="567.5" cy="478.82" r="1.75" fill="#EC3127"/>
<circle cx="569.6" cy="479.91" r="1.75" fill="#EC3127"/>
<circle cx="566.8" cy="480.99" r="1.75" fill="#EC3127"/>
<circle cx="567.5" cy="485.31" r="1.75" fill="#EC3127"/>
<circle cx="567.5" cy="491.8" r="1.75" fill="#EC3127"/>
<line x1="567.5" y1="431.25" x2="567.5" y2="476.66" stroke="#EC3127" stroke-width="1"/>
<line x1="564.7" y1="431.25" x2="570.3" y2="431.25" stroke="#EC3127" stroke-width="1"/>
<line x1="564.7" y1="476.66" x2="570.3" y2="476.66" stroke="#EC3127" stroke-width="1"/>
<line x1="564.5" y1="453.96" x2="570.5" y2="453.96" stroke="#EC3127" stroke-width="1"/>
<circle cx="582.3" cy="464.34" r="1.75" fill="#000"/>
<circle cx="582.3" cy="476.66" r="1.75" fill="#000"/>
<circle cx="584.4" cy="477.74" r="1.75" fill="#000"/>
<circle cx="582.3" cy="479.91" r="1.75" fill="#000"/>
<circle cx="583" cy="482.07" r="1.75" fill="#000"/>
<circle cx="580.9" cy="483.15" r="1.75" fill="#000"/>
<circle cx="583.7" cy="484.23" r="1.75" fill="#000"/>
<circle cx="581.6" cy="485.31" r="1.75" fill="#000"/>
<circle cx="584.4" cy="486.39" r="1.75" fill="#000"/>
<circle cx="582.3" cy="487.48" r="1.75" fill="#000"/>
<circle cx="579.5" cy="487.48" r="1.75" fill="#000"/>
<circle cx="585.1" cy="488.56" r="1.75" fill="#000"/>
<circle cx="583" cy="489.64" r="1.75" fill="#000"/>
<circle cx="580.2" cy="489.64" r="1.75" fill="#000"/>
<circle cx="582.49" cy="490.07" r="1.75" fill="#000"/>
<circle cx="586.5" cy="490.5" r="1.75" fill="#000"/>
<circle cx="578.1" cy="490.72" r="1.75" fill="#000"/>
<circle cx="584.94" cy="491.15" r="1.75" fill="#000"/>
<circle cx="586.26" cy="491.37" r="1.75" fill="#000"/>
<circle cx="580.49" cy="491.58" r="1.75" fill="#000"/>
<circle cx="584.59" cy="491.8" r="1.75" fill="#000"/>
<circle cx="584.06" cy="491.8" r="1.75" fill="#000"/>
<line x1="582.3" y1="480.99" x2="582.3" y2="493.96" stroke="#000" stroke-width="1"/>
<line x1="579.5" y1="480.99" x2="585.1" y2="480.99" stroke="#000" stroke-width="1"/>
<line x1="579.5" y1="493.96" x2="585.1" y2="493.96" stroke="#000" stroke-width="1"/>
<line x1="579.3" y1="487.48" x2="585.3" y2="487.48" stroke="#000" stroke-width="1"/>
<circle cx="597.3" cy="442.06" r="1.75" fill="#EC3127"/>
<circle cx="597.3" cy="445.31" r="1.75" fill="#EC3127"/>
<circle cx="597.3" cy="457.2" r="1.75" fill="#EC3127"/>
<circle cx="599.4" cy="458.28" r="1.75" fill="#EC3127"/>
<circle cx="597.3" cy="461.53" r="1.75" fill="#EC3127"/>
<circle cx="598" cy="463.69" r="1.75" fill="#EC3127"/>
<circle cx="597.3" cy="465.85" r="1.75" fill="#EC3127"/>
<circle cx="599.4" cy="466.93" r="1.75" fill="#EC3127"/>
<circle cx="596.6" cy="468.01" r="1.75" fill="#EC3127"/>
<circle cx="598.7" cy="469.09" r="1.75" fill="#EC3127"/>
<circle cx="595.9" cy="470.18" r="1.75" fill="#EC3127"/>
<circle cx="600.8" cy="470.18" r="1.75" fill="#EC3127"/>
<circle cx="598" cy="471.26" r="1.75" fill="#EC3127"/>
<circle cx="595.2" cy="472.34" r="1.75" fill="#EC3127"/>
<circle cx="597.3" cy="473.42" r="1.75" fill="#EC3127"/>
<circle cx="599.4" cy="474.5" r="1.75" fill="#EC3127"/>
<circle cx="597.3" cy="476.66" r="1.75" fill="#EC3127"/>
<circle cx="598" cy="478.82" r="1.75" fill="#EC3127"/>
<circle cx="597.3" cy="480.99" r="1.75" fill="#EC3127"/>
<circle cx="598" cy="483.15" r="1.75" fill="#EC3127"/>
<circle cx="597.3" cy="491.8" r="1.75" fill="#EC3127"/>
<line x1="597.3" y1="456.12" x2="597.3" y2="482.07" stroke="#EC3127" stroke-width="1"/>
<line x1="594.5" y1="456.12" x2="600.1" y2="456.12" stroke="#EC3127" stroke-width="1"/>
<line x1="594.5" y1="482.07" x2="600.1" y2="482.07" stroke="#EC3127" stroke-width="1"/>
<line x1="594.3" y1="469.09" x2="600.3" y2="469.09" stroke="#EC3127" stroke-width="1"/>
<line x1="552.6" y1="408.6" x2="567.5" y2="408.6" stroke="#000" stroke-width="1.1"/>
<text transform="translate(560.05 404.1) scale(0.8870 1)" y="3.31" font-size="9.2" text-anchor="middle">7.26e-07</text>
<line x1="567.5" y1="397.4" x2="597.3" y2="397.4" stroke="#000" stroke-width="1.1"/>
<text transform="translate(582.4 393) scale(0.8870 1)" y="3.31" font-size="9.2" text-anchor="middle">0.0089</text>
<text transform="translate(507.8 451.85) rotate(-90) scale(0.8870 1)" y="3.31" font-size="9.2" text-anchor="middle">CD14<tspan font-size="5.2" dy="-3">+</tspan><tspan dy="3"> </tspan>IL-1β<tspan font-size="5.2" dy="-3">+</tspan><tspan dy="3"> </tspan></text>
<text transform="translate(517 451.85) rotate(-90) scale(0.8870 1)" y="3.31" font-size="9.2" text-anchor="middle">(% of CD14<tspan font-size="5.2" dy="-3">+</tspan><tspan dy="3"> </tspan>population)</text>
<text transform="translate(554.1 507.8) rotate(-45) scale(0.8870 1)" font-size="9.2" text-anchor="end">Control</text>
<text transform="translate(569 507.8) rotate(-45) scale(0.8870 1)" font-size="9.2" text-anchor="end">FABP7 300 ng/ml</text>
<text transform="translate(583.8 507.8) rotate(-45) scale(0.8870 1)" font-size="9.2" text-anchor="end">2DG</text>
<text transform="translate(598.8 507.8) rotate(-45) scale(0.8870 1)" font-size="9.2" text-anchor="end">FABP7 + 2DG</text>
<text transform="translate(3.6 574.2)" font-size="10.5">j</text>
<line x1="53.1" y1="590.9" x2="53.1" y2="624.7" stroke="#000" stroke-width="1.2"/>
<line x1="53.1" y1="637.7" x2="53.1" y2="678.3" stroke="#000" stroke-width="1.2"/>
<line x1="52.6" y1="677.8" x2="134" y2="677.8" stroke="#000" stroke-width="1.2"/>
<line x1="46.6" y1="590.9" x2="53.1" y2="590.9" stroke="#000" stroke-width="1.1"/>
<text transform="translate(44.5 590.9) scale(0.8870 1)" y="3.31" font-size="9.2" text-anchor="end">1400</text>
<line x1="46.6" y1="600.63" x2="53.1" y2="600.63" stroke="#000" stroke-width="1.1"/>
<text transform="translate(44.5 600.63) scale(0.8870 1)" y="3.31" font-size="9.2" text-anchor="end">1200</text>
<line x1="46.6" y1="610.37" x2="53.1" y2="610.37" stroke="#000" stroke-width="1.1"/>
<text transform="translate(44.5 610.37) scale(0.8870 1)" y="3.31" font-size="9.2" text-anchor="end">1000</text>
<line x1="46.6" y1="620.1" x2="53.1" y2="620.1" stroke="#000" stroke-width="1.1"/>
<text transform="translate(44.5 620.1) scale(0.8870 1)" y="3.31" font-size="9.2" text-anchor="end">800</text>
<line x1="46.6" y1="624.7" x2="53.1" y2="624.7" stroke="#000" stroke-width="1.1"/>
<line x1="46.6" y1="637.7" x2="53.1" y2="637.7" stroke="#000" stroke-width="1.1"/>
<line x1="46.6" y1="645.4" x2="53.1" y2="645.4" stroke="#000" stroke-width="1.1"/>
<text transform="translate(44.5 645.4) scale(0.8870 1)" y="3.31" font-size="9.2" text-anchor="end">200</text>
<line x1="46.6" y1="661.6" x2="53.1" y2="661.6" stroke="#000" stroke-width="1.1"/>
<text transform="translate(44.5 661.6) scale(0.8870 1)" y="3.31" font-size="9.2" text-anchor="end">100</text>
<line x1="46.6" y1="677.8" x2="53.1" y2="677.8" stroke="#000" stroke-width="1.1"/>
<text transform="translate(44.5 677.8) scale(0.8870 1)" y="3.31" font-size="9.2" text-anchor="end">0</text>
<rect x="58.8" y="653.5" width="8.8" height="24.3" stroke="#000" fill="#fff" stroke-width="1.1"/>
<line x1="63.2" y1="677.8" x2="63.2" y2="684.3" stroke="#000" stroke-width="1.1"/>
<rect x="73.6" y="652.69" width="8.8" height="25.11" stroke="#000" fill="#fff" stroke-width="1.1"/>
<line x1="78" y1="677.8" x2="78" y2="684.3" stroke="#000" stroke-width="1.1"/>
<rect x="88.5" y="653.5" width="8.8" height="24.3" stroke="#000" fill="#fff" stroke-width="1.1"/>
<line x1="92.9" y1="677.8" x2="92.9" y2="684.3" stroke="#000" stroke-width="1.1"/>
<rect x="103.5" y="649.94" width="8.8" height="27.86" stroke="#000" fill="#fff" stroke-width="1.1"/>
<line x1="107.9" y1="677.8" x2="107.9" y2="684.3" stroke="#000" stroke-width="1.1"/>
<circle cx="63.2" cy="648.64" r="1.75" fill="#000"/>
<circle cx="63.2" cy="651.88" r="1.75" fill="#000"/>
<circle cx="65.3" cy="653.5" r="1.75" fill="#000"/>
<circle cx="63.2" cy="654.31" r="1.75" fill="#000"/>
<circle cx="61.1" cy="655.12" r="1.75" fill="#000"/>
<circle cx="65.3" cy="655.93" r="1.75" fill="#000"/>
<line x1="63.2" y1="650.58" x2="63.2" y2="656.42" stroke="#000" stroke-width="1"/>
<line x1="60.4" y1="650.58" x2="66" y2="650.58" stroke="#000" stroke-width="1"/>
<line x1="60.4" y1="656.42" x2="66" y2="656.42" stroke="#000" stroke-width="1"/>
<line x1="60.2" y1="653.5" x2="66.2" y2="653.5" stroke="#000" stroke-width="1"/>
<circle cx="78" cy="645.4" r="1.75" fill="#F7941D"/>
<circle cx="78" cy="651.07" r="1.75" fill="#F7941D"/>
<circle cx="78" cy="653.5" r="1.75" fill="#F7941D"/>
<circle cx="80.1" cy="655.12" r="1.75" fill="#F7941D"/>
<circle cx="78" cy="655.93" r="1.75" fill="#F7941D"/>
<line x1="78" y1="648.64" x2="78" y2="656.74" stroke="#F7941D" stroke-width="1"/>
<line x1="75.2" y1="648.64" x2="80.8" y2="648.64" stroke="#F7941D" stroke-width="1"/>
<line x1="75.2" y1="656.74" x2="80.8" y2="656.74" stroke="#F7941D" stroke-width="1"/>
<line x1="75" y1="652.69" x2="81" y2="652.69" stroke="#F7941D" stroke-width="1"/>
<circle cx="92.9" cy="647.02" r="1.75" fill="#EC3127"/>
<circle cx="92.9" cy="651.07" r="1.75" fill="#EC3127"/>
<circle cx="92.9" cy="653.5" r="1.75" fill="#EC3127"/>
<circle cx="92.9" cy="655.93" r="1.75" fill="#EC3127"/>
<circle cx="95" cy="657.55" r="1.75" fill="#EC3127"/>
<line x1="92.9" y1="649.45" x2="92.9" y2="657.55" stroke="#EC3127" stroke-width="1"/>
<line x1="90.1" y1="649.45" x2="95.7" y2="649.45" stroke="#EC3127" stroke-width="1"/>
<line x1="90.1" y1="657.55" x2="95.7" y2="657.55" stroke="#EC3127" stroke-width="1"/>
<line x1="89.9" y1="653.5" x2="95.9" y2="653.5" stroke="#EC3127" stroke-width="1"/>
<circle cx="107.9" cy="644.59" r="1.75" fill="#4A8FD8"/>
<circle cx="107.9" cy="647.83" r="1.75" fill="#4A8FD8"/>
<circle cx="107.9" cy="650.26" r="1.75" fill="#4A8FD8"/>
<circle cx="110" cy="651.07" r="1.75" fill="#4A8FD8"/>
<circle cx="107.9" cy="653.5" r="1.75" fill="#4A8FD8"/>
<line x1="107.9" y1="646.37" x2="107.9" y2="653.5" stroke="#4A8FD8" stroke-width="1"/>
<line x1="105.1" y1="646.37" x2="110.7" y2="646.37" stroke="#4A8FD8" stroke-width="1"/>
<line x1="105.1" y1="653.5" x2="110.7" y2="653.5" stroke="#4A8FD8" stroke-width="1"/>
<line x1="104.9" y1="649.94" x2="110.9" y2="649.94" stroke="#4A8FD8" stroke-width="1"/>
<path d="M118.7 624.7L118.7 605.99L127.5 605.99L127.5 624.7" stroke="#000" fill="none" stroke-width="1.1"/>
<path d="M118.7 637.7L118.7 677.8M127.5 637.7L127.5 677.8" stroke="#000" fill="none" stroke-width="1.1"/>
<rect x="117.6" y="625.2" width="11" height="12" stroke="none" fill="#fff" stroke-width="1"/>
<line x1="123.1" y1="677.8" x2="123.1" y2="684.3" stroke="#000" stroke-width="1.1"/>
<circle cx="123.1" cy="592.07" r="1.5" fill="#5DB56A"/>
<circle cx="123.1" cy="596.16" r="1.5" fill="#5DB56A"/>
<circle cx="123.1" cy="603.36" r="1.5" fill="#5DB56A"/>
<circle cx="123.1" cy="610.66" r="1.5" fill="#5DB56A"/>
<circle cx="123.1" cy="617.86" r="1.5" fill="#5DB56A"/>
<circle cx="123.1" cy="623.17" r="1.5" fill="#5DB56A"/>
<line x1="123.1" y1="592.36" x2="123.1" y2="619.13" stroke="#5DB56A" stroke-width="1"/>
<line x1="120.3" y1="592.36" x2="125.9" y2="592.36" stroke="#5DB56A" stroke-width="1"/>
<line x1="120.3" y1="619.13" x2="125.9" y2="619.13" stroke="#5DB56A" stroke-width="1"/>
<line x1="63.2" y1="614.3" x2="78" y2="614.3" stroke="#000" stroke-width="1.1"/>
<text transform="translate(70.6 610) scale(0.8870 1)" y="3.31" font-size="9.2" text-anchor="middle">0.8119</text>
<line x1="63.2" y1="602.5" x2="92.9" y2="602.5" stroke="#000" stroke-width="1.1"/>
<text transform="translate(78.05 597.9) scale(0.8870 1)" y="3.31" font-size="9.2" text-anchor="middle">0.9276</text>
<line x1="63.2" y1="590.2" x2="107.9" y2="590.2" stroke="#000" stroke-width="1.1"/>
<text transform="translate(85.55 585.3) scale(0.8870 1)" y="3.31" font-size="9.2" text-anchor="middle">0.0154</text>
<line x1="63.2" y1="578.6" x2="123.1" y2="578.6" stroke="#000" stroke-width="1.1"/>
<text transform="translate(93.15 574.5) scale(0.8870 1)" y="3.31" font-size="9.2" text-anchor="middle">0.0034</text>
<text transform="translate(10.9 626) rotate(-90) scale(0.8870 1)" y="3.31" font-size="9.2" text-anchor="middle">ROS</text>
<text transform="translate(21.2 626) rotate(-90) scale(0.8870 1)" y="3.31" font-size="9.2" text-anchor="middle">(Mean fluorescence intensity)</text>
<text transform="translate(64.7 693.8) rotate(-45) scale(0.8870 1)" font-size="9.2" text-anchor="end">Control</text>
<text transform="translate(79.5 693.8) rotate(-45) scale(0.8870 1)" font-size="9.2" text-anchor="end">FABP7 100 ng/ml</text>
<text transform="translate(94.4 693.8) rotate(-45) scale(0.8870 1)" font-size="9.2" text-anchor="end">FABP7 300 ng/ml</text>
<text transform="translate(109.4 693.8) rotate(-45) scale(0.8870 1)" font-size="9.2" text-anchor="end">LPS</text>
<text transform="translate(124.6 693.8) rotate(-45) scale(0.8870 1)" font-size="9.2" text-anchor="end">H<tspan font-size="5.5" dy="2">2</tspan><tspan dy="-2">O</tspan><tspan font-size="5.5" dy="2">2</tspan></text>
<text transform="translate(332.2 576.5)" font-size="10.5">k</text>
<line x1="393.3" y1="589.2" x2="393.3" y2="676.7" stroke="#000" stroke-width="1.2"/>
<line x1="392.8" y1="676.2" x2="475.2" y2="676.2" stroke="#000" stroke-width="1.2"/>
<line x1="386.8" y1="589.2" x2="393.3" y2="589.2" stroke="#000" stroke-width="1.1"/>
<text transform="translate(384.7 589.2) scale(0.8870 1)" y="3.31" font-size="9.2" text-anchor="end">3000</text>
<line x1="386.8" y1="618.2" x2="393.3" y2="618.2" stroke="#000" stroke-width="1.1"/>
<text transform="translate(384.7 618.2) scale(0.8870 1)" y="3.31" font-size="9.2" text-anchor="end">2000</text>
<line x1="386.8" y1="647.2" x2="393.3" y2="647.2" stroke="#000" stroke-width="1.1"/>
<text transform="translate(384.7 647.2) scale(0.8870 1)" y="3.31" font-size="9.2" text-anchor="end">1000</text>
<line x1="386.8" y1="676.2" x2="393.3" y2="676.2" stroke="#000" stroke-width="1.1"/>
<text transform="translate(384.7 676.2) scale(0.8870 1)" y="3.31" font-size="9.2" text-anchor="end">0</text>
<rect x="399" y="626.03" width="9.4" height="50.17" stroke="#000" fill="#fff" stroke-width="1.1"/>
<line x1="403.7" y1="676.2" x2="403.7" y2="682.7" stroke="#000" stroke-width="1.1"/>
<rect x="414.2" y="628.06" width="9.4" height="48.14" stroke="#000" fill="#fff" stroke-width="1.1"/>
<line x1="418.9" y1="676.2" x2="418.9" y2="682.7" stroke="#000" stroke-width="1.1"/>
<rect x="429.5" y="623.42" width="9.4" height="52.78" stroke="#000" fill="#fff" stroke-width="1.1"/>
<line x1="434.2" y1="676.2" x2="434.2" y2="682.7" stroke="#000" stroke-width="1.1"/>
<rect x="444.9" y="613.27" width="9.4" height="62.93" stroke="#000" fill="#fff" stroke-width="1.1"/>
<line x1="449.6" y1="676.2" x2="449.6" y2="682.7" stroke="#000" stroke-width="1.1"/>
<rect x="460.1" y="630.09" width="9.4" height="46.11" stroke="#000" fill="#fff" stroke-width="1.1"/>
<line x1="464.8" y1="676.2" x2="464.8" y2="682.7" stroke="#000" stroke-width="1.1"/>
<circle cx="403.7" cy="618.2" r="1.75" fill="#000"/>
<circle cx="405.8" cy="619.65" r="1.75" fill="#000"/>
<circle cx="403.7" cy="624" r="1.75" fill="#000"/>
<circle cx="403.7" cy="626.9" r="1.75" fill="#000"/>
<circle cx="405.8" cy="628.35" r="1.75" fill="#000"/>
<circle cx="403.7" cy="632.7" r="1.75" fill="#000"/>
<circle cx="403.7" cy="635.02" r="1.75" fill="#000"/>
<line x1="403.7" y1="619.36" x2="403.7" y2="632.7" stroke="#000" stroke-width="1"/>
<line x1="400.9" y1="619.36" x2="406.5" y2="619.36" stroke="#000" stroke-width="1"/>
<line x1="400.9" y1="632.7" x2="406.5" y2="632.7" stroke="#000" stroke-width="1"/>
<line x1="400.7" y1="626.03" x2="406.7" y2="626.03" stroke="#000" stroke-width="1"/>
<circle cx="418.9" cy="616.75" r="1.75" fill="#F7941D"/>
<circle cx="418.9" cy="619.65" r="1.75" fill="#F7941D"/>
<circle cx="418.9" cy="625.45" r="1.75" fill="#F7941D"/>
<circle cx="418.9" cy="629.8" r="1.75" fill="#F7941D"/>
<circle cx="418.9" cy="635.6" r="1.75" fill="#F7941D"/>
<circle cx="418.9" cy="639.95" r="1.75" fill="#F7941D"/>
<line x1="418.9" y1="618.49" x2="418.9" y2="637.63" stroke="#F7941D" stroke-width="1"/>
<line x1="416.1" y1="618.49" x2="421.7" y2="618.49" stroke="#F7941D" stroke-width="1"/>
<line x1="416.1" y1="637.63" x2="421.7" y2="637.63" stroke="#F7941D" stroke-width="1"/>
<line x1="415.9" y1="628.06" x2="421.9" y2="628.06" stroke="#F7941D" stroke-width="1"/>
<circle cx="434.2" cy="609.5" r="1.75" fill="#EC3127"/>
<circle cx="434.2" cy="618.2" r="1.75" fill="#EC3127"/>
<circle cx="434.2" cy="624" r="1.75" fill="#EC3127"/>
<circle cx="436.3" cy="625.45" r="1.75" fill="#EC3127"/>
<circle cx="434.2" cy="631.25" r="1.75" fill="#EC3127"/>
<circle cx="436.3" cy="632.7" r="1.75" fill="#EC3127"/>
<line x1="434.2" y1="614.72" x2="434.2" y2="632.12" stroke="#EC3127" stroke-width="1"/>
<line x1="431.4" y1="614.72" x2="437" y2="614.72" stroke="#EC3127" stroke-width="1"/>
<line x1="431.4" y1="632.12" x2="437" y2="632.12" stroke="#EC3127" stroke-width="1"/>
<line x1="431.2" y1="623.42" x2="437.2" y2="623.42" stroke="#EC3127" stroke-width="1"/>
<circle cx="449.6" cy="602.25" r="1.75" fill="#4A8FD8"/>
<circle cx="449.6" cy="605.15" r="1.75" fill="#4A8FD8"/>
<circle cx="449.6" cy="612.4" r="1.75" fill="#4A8FD8"/>
<circle cx="449.6" cy="615.3" r="1.75" fill="#4A8FD8"/>
<circle cx="449.6" cy="618.2" r="1.75" fill="#4A8FD8"/>
<circle cx="451.7" cy="619.65" r="1.75" fill="#4A8FD8"/>
<circle cx="449.6" cy="621.1" r="1.75" fill="#4A8FD8"/>
<line x1="449.6" y1="605.15" x2="449.6" y2="621.39" stroke="#4A8FD8" stroke-width="1"/>
<line x1="446.8" y1="605.15" x2="452.4" y2="605.15" stroke="#4A8FD8" stroke-width="1"/>
<line x1="446.8" y1="621.39" x2="452.4" y2="621.39" stroke="#4A8FD8" stroke-width="1"/>
<line x1="446.6" y1="613.27" x2="452.6" y2="613.27" stroke="#4A8FD8" stroke-width="1"/>
<circle cx="464.8" cy="619.65" r="1.75" fill="#5DB56A"/>
<circle cx="464.8" cy="626.9" r="1.75" fill="#5DB56A"/>
<circle cx="464.8" cy="629.8" r="1.75" fill="#5DB56A"/>
<circle cx="466.9" cy="631.25" r="1.75" fill="#5DB56A"/>
<circle cx="464.8" cy="634.15" r="1.75" fill="#5DB56A"/>
<circle cx="466.9" cy="635.6" r="1.75" fill="#5DB56A"/>
<line x1="464.8" y1="624.29" x2="464.8" y2="635.89" stroke="#5DB56A" stroke-width="1"/>
<line x1="462" y1="624.29" x2="467.6" y2="624.29" stroke="#5DB56A" stroke-width="1"/>
<line x1="462" y1="635.89" x2="467.6" y2="635.89" stroke="#5DB56A" stroke-width="1"/>
<line x1="461.8" y1="630.09" x2="467.8" y2="630.09" stroke="#5DB56A" stroke-width="1"/>
<line x1="403.7" y1="612.9" x2="418.9" y2="612.9" stroke="#000" stroke-width="1.1"/>
<text transform="translate(411.3 608.4) scale(0.8870 1)" y="3.31" font-size="9.2" text-anchor="middle">0.7889</text>
<line x1="403.7" y1="601" x2="434.2" y2="601" stroke="#000" stroke-width="1.1"/>
<text transform="translate(418.95 596.7) scale(0.8870 1)" y="3.31" font-size="9.2" text-anchor="middle">0.3534</text>
<line x1="403.7" y1="589.8" x2="449.6" y2="589.8" stroke="#000" stroke-width="1.1"/>
<text transform="translate(426.65 584.8) scale(0.8870 1)" y="3.31" font-size="9.2" text-anchor="middle">0.0065</text>
<line x1="403.7" y1="577.9" x2="464.8" y2="577.9" stroke="#000" stroke-width="1.1"/>
<text transform="translate(434.25 573.7) scale(0.8870 1)" y="3.31" font-size="9.2" text-anchor="middle">0.0427</text>
<text transform="translate(348.6 620.8) rotate(-90) scale(0.8870 1)" y="3.31" font-size="9.2" text-anchor="middle">Mitochondrial superoxide</text>
<text transform="translate(358.5 620.8) rotate(-90) scale(0.8870 1)" y="3.31" font-size="9.2" text-anchor="middle">(Mean fluorescence intensity)</text>
<text transform="translate(405.2 692.2) rotate(-45) scale(0.8870 1)" font-size="9.2" text-anchor="end">Control</text>
<text transform="translate(420.4 692.2) rotate(-45) scale(0.8870 1)" font-size="9.2" text-anchor="end">FABP7 100 ng/ml</text>
<text transform="translate(435.7 692.2) rotate(-45) scale(0.8870 1)" font-size="9.2" text-anchor="end">FABP7 300 ng/ml</text>
<text transform="translate(451.1 692.2) rotate(-45) scale(0.8870 1)" font-size="9.2" text-anchor="end">LPS</text>
<text transform="translate(466.3 692.2) rotate(-45) scale(0.8870 1)" font-size="9.2" text-anchor="end">H<tspan font-size="5.5" dy="2">2</tspan><tspan dy="-2">O</tspan><tspan font-size="5.5" dy="2">2</tspan></text>
<text transform="translate(355.1 215.5)" font-size="10.5" font-weight="bold">i</text>
<text transform="translate(414 214.4) scale(0.9623 1)" y="2.94" font-size="8.16" text-anchor="middle" fill="#222">Control</text>
<rect x="380.4" y="221.4" width="67" height="62.3" stroke="#c4c4c4" fill="#fff" stroke-width="0.8"/>
<line x1="377.8" y1="224.6" x2="380.4" y2="224.6" stroke="#777" stroke-width="0.45"/>
<text transform="translate(377.2 224.6)" y="0.94" font-size="2.6" text-anchor="end" fill="#777">250K</text>
<line x1="377.8" y1="236.3" x2="380.4" y2="236.3" stroke="#777" stroke-width="0.45"/>
<text transform="translate(377.2 236.3)" y="0.94" font-size="2.6" text-anchor="end" fill="#777">200K</text>
<line x1="377.8" y1="248.2" x2="380.4" y2="248.2" stroke="#777" stroke-width="0.45"/>
<text transform="translate(377.2 248.2)" y="0.94" font-size="2.6" text-anchor="end" fill="#777">150K</text>
<line x1="377.8" y1="260.4" x2="380.4" y2="260.4" stroke="#777" stroke-width="0.45"/>
<text transform="translate(377.2 260.4)" y="0.94" font-size="2.6" text-anchor="end" fill="#777">100K</text>
<line x1="377.8" y1="272" x2="380.4" y2="272" stroke="#777" stroke-width="0.45"/>
<text transform="translate(377.2 272)" y="0.94" font-size="2.6" text-anchor="end" fill="#777">50K</text>
<line x1="377.8" y1="283" x2="380.4" y2="283" stroke="#777" stroke-width="0.45"/>
<text transform="translate(377.2 283)" y="0.94" font-size="2.6" text-anchor="end" fill="#777">0</text>
<line x1="379" y1="226.94" x2="380.4" y2="226.94" stroke="#aaa" stroke-width="0.35"/>
<line x1="379" y1="229.28" x2="380.4" y2="229.28" stroke="#aaa" stroke-width="0.35"/>
<line x1="379" y1="231.62" x2="380.4" y2="231.62" stroke="#aaa" stroke-width="0.35"/>
<line x1="379" y1="233.96" x2="380.4" y2="233.96" stroke="#aaa" stroke-width="0.35"/>
<line x1="379" y1="238.68" x2="380.4" y2="238.68" stroke="#aaa" stroke-width="0.35"/>
<line x1="379" y1="241.06" x2="380.4" y2="241.06" stroke="#aaa" stroke-width="0.35"/>
<line x1="379" y1="243.44" x2="380.4" y2="243.44" stroke="#aaa" stroke-width="0.35"/>
<line x1="379" y1="245.82" x2="380.4" y2="245.82" stroke="#aaa" stroke-width="0.35"/>
<line x1="379" y1="250.64" x2="380.4" y2="250.64" stroke="#aaa" stroke-width="0.35"/>
<line x1="379" y1="253.08" x2="380.4" y2="253.08" stroke="#aaa" stroke-width="0.35"/>
<line x1="379" y1="255.52" x2="380.4" y2="255.52" stroke="#aaa" stroke-width="0.35"/>
<line x1="379" y1="257.96" x2="380.4" y2="257.96" stroke="#aaa" stroke-width="0.35"/>
<line x1="379" y1="262.72" x2="380.4" y2="262.72" stroke="#aaa" stroke-width="0.35"/>
<line x1="379" y1="265.04" x2="380.4" y2="265.04" stroke="#aaa" stroke-width="0.35"/>
<line x1="379" y1="267.36" x2="380.4" y2="267.36" stroke="#aaa" stroke-width="0.35"/>
<line x1="379" y1="269.68" x2="380.4" y2="269.68" stroke="#aaa" stroke-width="0.35"/>
<line x1="379" y1="274.2" x2="380.4" y2="274.2" stroke="#aaa" stroke-width="0.35"/>
<line x1="379" y1="276.4" x2="380.4" y2="276.4" stroke="#aaa" stroke-width="0.35"/>
<line x1="379" y1="278.6" x2="380.4" y2="278.6" stroke="#aaa" stroke-width="0.35"/>
<line x1="379" y1="280.8" x2="380.4" y2="280.8" stroke="#aaa" stroke-width="0.35"/>
<line x1="387" y1="283.7" x2="387" y2="286.1" stroke="#777" stroke-width="0.45"/>
<text transform="translate(387 289)" y="0.9" font-size="2.5" text-anchor="middle" fill="#777">-10³</text>
<line x1="396.5" y1="283.7" x2="396.5" y2="286.1" stroke="#777" stroke-width="0.45"/>
<text transform="translate(396.5 289)" y="0.9" font-size="2.5" text-anchor="middle" fill="#777">0</text>
<line x1="408.2" y1="283.7" x2="408.2" y2="286.1" stroke="#777" stroke-width="0.45"/>
<text transform="translate(408.2 289)" y="0.9" font-size="2.5" text-anchor="middle" fill="#777">10³</text>
<line x1="426.4" y1="283.7" x2="426.4" y2="286.1" stroke="#777" stroke-width="0.45"/>
<text transform="translate(426.4 289)" y="0.9" font-size="2.5" text-anchor="middle" fill="#777">10⁴</text>
<line x1="441.8" y1="283.7" x2="441.8" y2="286.1" stroke="#777" stroke-width="0.45"/>
<text transform="translate(441.8 289)" y="0.9" font-size="2.5" text-anchor="middle" fill="#777">10⁵</text>
<line x1="389.4" y1="283.7" x2="389.4" y2="285" stroke="#aaa" stroke-width="0.35"/>
<line x1="391.4" y1="283.7" x2="391.4" y2="285" stroke="#aaa" stroke-width="0.35"/>
<line x1="392.9" y1="283.7" x2="392.9" y2="285" stroke="#aaa" stroke-width="0.35"/>
<line x1="393.9" y1="283.7" x2="393.9" y2="285" stroke="#aaa" stroke-width="0.35"/>
<line x1="400.4" y1="283.7" x2="400.4" y2="285" stroke="#aaa" stroke-width="0.35"/>
<line x1="402.4" y1="283.7" x2="402.4" y2="285" stroke="#aaa" stroke-width="0.35"/>
<line x1="410.9" y1="283.7" x2="410.9" y2="285" stroke="#aaa" stroke-width="0.35"/>
<line x1="413.4" y1="283.7" x2="413.4" y2="285" stroke="#aaa" stroke-width="0.35"/>
<line x1="415.4" y1="283.7" x2="415.4" y2="285" stroke="#aaa" stroke-width="0.35"/>
<line x1="417.4" y1="283.7" x2="417.4" y2="285" stroke="#aaa" stroke-width="0.35"/>
<line x1="418.9" y1="283.7" x2="418.9" y2="285" stroke="#aaa" stroke-width="0.35"/>
<line x1="428.9" y1="283.7" x2="428.9" y2="285" stroke="#aaa" stroke-width="0.35"/>
<line x1="431.4" y1="283.7" x2="431.4" y2="285" stroke="#aaa" stroke-width="0.35"/>
<line x1="433.4" y1="283.7" x2="433.4" y2="285" stroke="#aaa" stroke-width="0.35"/>
<line x1="435.4" y1="283.7" x2="435.4" y2="285" stroke="#aaa" stroke-width="0.35"/>
<line x1="437.4" y1="283.7" x2="437.4" y2="285" stroke="#aaa" stroke-width="0.35"/>
<line x1="438.9" y1="283.7" x2="438.9" y2="285" stroke="#aaa" stroke-width="0.35"/>
<rect x="394" y="284" width="3.2" height="1.5" stroke="none" fill="#222" stroke-width="1"/>
<path d="M398.4 282.3L398.4 231.9L443.6 231.9" stroke="#9a9a9a" fill="none" stroke-width="0.7"/>
<line x1="443.6" y1="237.9" x2="443.6" y2="282.3" stroke="#444" stroke-width="0.9"/>
<line x1="398.4" y1="282.3" x2="443.6" y2="282.3" stroke="#9a9a9a" stroke-width="0.7"/>
<line x1="443.6" y1="231.9" x2="443.6" y2="237.9" stroke="#9a9a9a" stroke-width="0.7"/>
<line x1="398.4" y1="231.9" x2="405.4" y2="231.9" stroke="#cfcfcf" stroke-width="1.3"/>
<text transform="translate(445.9 226.8) scale(0.9444 1)" y="1.83" font-size="5.08" text-anchor="end" font-weight="bold" fill="#222" font-family="Liberation Mono">CD14+ IL1beta+</text>
<text transform="translate(425 231.9) scale(0.9714 1)" y="1.89" font-size="5.25" text-anchor="middle" font-weight="bold" fill="#222" font-family="Liberation Sans">3.93</text>
<path d="M396.5 244.3C397.05 244.42 397.69 246.13 398.26 247.5C398.83 248.87 399.47 250.75 399.94 252.5C400.41 254.25 400.85 256.25 401.06 258C401.27 259.75 401.3 261.25 401.22 263C401.14 264.75 400.9 266.75 400.58 268.5C400.26 270.25 399.73 271.98 399.3 273.5C398.87 275.02 398.5 276.68 398.02 277.6C397.54 278.52 397.01 278.9 396.42 279C395.83 279.1 395.02 278.95 394.5 278.2C393.98 277.45 393.58 276.2 393.3 274.5C393.02 272.8 392.87 270.42 392.82 268C392.77 265.58 392.85 262.58 392.98 260C393.11 257.42 393.29 254.7 393.62 252.5C393.95 250.3 394.5 248.17 394.98 246.8C395.46 245.43 395.95 244.18 396.5 244.3Z" stroke="#B0101A" fill="#E8A0A3" stroke-width="1.1"/>
<path d="M396.5 248.94C396.94 249.03 397.45 250.41 397.91 251.5C398.37 252.59 398.88 254.1 399.25 255.5C399.63 256.9 399.98 258.5 400.15 259.9C400.32 261.3 400.34 262.5 400.28 263.9C400.21 265.3 400.02 266.9 399.76 268.3C399.51 269.7 399.08 271.09 398.74 272.3C398.4 273.51 398.1 274.85 397.72 275.58C397.33 276.31 396.91 276.62 396.44 276.7C395.97 276.78 395.32 276.66 394.9 276.06C394.48 275.46 394.16 274.46 393.94 273.1C393.72 271.74 393.6 269.83 393.56 267.9C393.51 265.97 393.58 263.57 393.68 261.5C393.79 259.43 393.93 257.26 394.2 255.5C394.46 253.74 394.9 252.03 395.28 250.94C395.67 249.85 396.06 248.85 396.5 248.94Z" stroke="#C42A30" fill="rgba(255,245,245,0.28)" stroke-width="0.5"/>
<path d="M396.5 253.12C396.84 253.19 397.24 254.25 397.59 255.1C397.95 255.95 398.34 257.12 398.63 258.2C398.92 259.28 399.19 260.53 399.33 261.61C399.46 262.69 399.48 263.62 399.43 264.71C399.38 265.79 399.23 267.03 399.03 268.12C398.83 269.21 398.5 270.28 398.24 271.22C397.97 272.16 397.74 273.19 397.44 273.76C397.14 274.33 396.81 274.57 396.45 274.63C396.09 274.69 395.58 274.6 395.26 274.13C394.94 273.67 394.69 272.89 394.52 271.84C394.34 270.79 394.25 269.31 394.22 267.81C394.19 266.31 394.23 264.45 394.32 262.85C394.4 261.25 394.51 259.56 394.71 258.2C394.92 256.84 395.26 255.51 395.56 254.67C395.86 253.82 396.16 253.04 396.5 253.12Z" stroke="#C42A30" fill="rgba(255,245,245,0.28)" stroke-width="0.5"/>
<path d="M396.5 256.83C396.75 256.88 397.05 257.67 397.31 258.3C397.57 258.93 397.87 259.8 398.08 260.6C398.3 261.41 398.5 262.32 398.6 263.13C398.7 263.94 398.71 264.62 398.67 265.43C398.63 266.24 398.52 267.15 398.38 267.96C398.23 268.76 397.98 269.56 397.79 270.26C397.59 270.96 397.42 271.72 397.2 272.15C396.98 272.57 396.73 272.74 396.46 272.79C396.19 272.84 395.82 272.77 395.58 272.42C395.34 272.08 395.16 271.5 395.03 270.72C394.9 269.94 394.83 268.84 394.81 267.73C394.78 266.62 394.82 265.24 394.88 264.05C394.94 262.86 395.02 261.61 395.18 260.6C395.33 259.59 395.58 258.61 395.8 257.98C396.02 257.35 396.25 256.77 396.5 256.83Z" stroke="#C42A30" fill="rgba(255,245,245,0.28)" stroke-width="0.5"/>
<path d="M396.5 260.08C396.67 260.11 396.88 260.66 397.06 261.1C397.25 261.54 397.45 262.14 397.6 262.7C397.75 263.26 397.89 263.9 397.96 264.46C398.03 265.02 398.04 265.5 398.01 266.06C397.98 266.62 397.91 267.26 397.81 267.82C397.7 268.38 397.53 268.93 397.4 269.42C397.26 269.91 397.14 270.44 396.99 270.73C396.83 271.03 396.66 271.15 396.47 271.18C396.29 271.21 396.03 271.16 395.86 270.92C395.69 270.68 395.57 270.28 395.48 269.74C395.39 269.2 395.34 268.43 395.32 267.66C395.31 266.89 395.33 265.93 395.37 265.1C395.42 264.27 395.47 263.4 395.58 262.7C395.69 262 395.86 261.31 396.01 260.88C396.17 260.44 396.33 260.04 396.5 260.08Z" stroke="#C42A30" fill="rgba(255,245,245,0.28)" stroke-width="0.5"/>
<path d="M396.5 262.86C396.61 262.88 396.74 263.23 396.85 263.5C396.97 263.77 397.09 264.15 397.19 264.5C397.28 264.85 397.37 265.25 397.41 265.6C397.45 265.95 397.46 266.25 397.44 266.6C397.43 266.95 397.38 267.35 397.32 267.7C397.25 268.05 397.15 268.4 397.06 268.7C396.97 269 396.9 269.34 396.8 269.52C396.71 269.7 396.6 269.78 396.48 269.8C396.37 269.82 396.2 269.79 396.1 269.64C396 269.49 395.92 269.24 395.86 268.9C395.8 268.56 395.77 268.08 395.76 267.6C395.75 267.12 395.77 266.52 395.8 266C395.82 265.48 395.86 264.94 395.92 264.5C395.99 264.06 396.1 263.63 396.2 263.36C396.29 263.09 396.39 262.84 396.5 262.86Z" stroke="#C42A30" fill="rgba(255,245,245,0.28)" stroke-width="0.5"/>
<circle cx="406" cy="259" r="0.35" fill="#d66"/>
<circle cx="411" cy="266" r="0.35" fill="#d66"/>
<circle cx="410.5" cy="271" r="0.35" fill="#d66"/>
<circle cx="403.5" cy="240" r="0.35" fill="#d66"/>
<text transform="translate(494.2 214.4) scale(0.9623 1)" y="2.94" font-size="8.16" text-anchor="middle" fill="#222">FABP7 300 ng/ml</text>
<rect x="459.7" y="221.4" width="67" height="62.3" stroke="#c4c4c4" fill="#fff" stroke-width="0.8"/>
<line x1="457.1" y1="224.6" x2="459.7" y2="224.6" stroke="#777" stroke-width="0.45"/>
<text transform="translate(456.5 224.6)" y="0.94" font-size="2.6" text-anchor="end" fill="#777">250K</text>
<line x1="457.1" y1="236.3" x2="459.7" y2="236.3" stroke="#777" stroke-width="0.45"/>
<text transform="translate(456.5 236.3)" y="0.94" font-size="2.6" text-anchor="end" fill="#777">200K</text>
<line x1="457.1" y1="248.2" x2="459.7" y2="248.2" stroke="#777" stroke-width="0.45"/>
<text transform="translate(456.5 248.2)" y="0.94" font-size="2.6" text-anchor="end" fill="#777">150K</text>
<line x1="457.1" y1="260.4" x2="459.7" y2="260.4" stroke="#777" stroke-width="0.45"/>
<text transform="translate(456.5 260.4)" y="0.94" font-size="2.6" text-anchor="end" fill="#777">100K</text>
<line x1="457.1" y1="272" x2="459.7" y2="272" stroke="#777" stroke-width="0.45"/>
<text transform="translate(456.5 272)" y="0.94" font-size="2.6" text-anchor="end" fill="#777">50K</text>
<line x1="457.1" y1="283" x2="459.7" y2="283" stroke="#777" stroke-width="0.45"/>
<text transform="translate(456.5 283)" y="0.94" font-size="2.6" text-anchor="end" fill="#777">0</text>
<line x1="458.3" y1="226.94" x2="459.7" y2="226.94" stroke="#aaa" stroke-width="0.35"/>
<line x1="458.3" y1="229.28" x2="459.7" y2="229.28" stroke="#aaa" stroke-width="0.35"/>
<line x1="458.3" y1="231.62" x2="459.7" y2="231.62" stroke="#aaa" stroke-width="0.35"/>
<line x1="458.3" y1="233.96" x2="459.7" y2="233.96" stroke="#aaa" stroke-width="0.35"/>
<line x1="458.3" y1="238.68" x2="459.7" y2="238.68" stroke="#aaa" stroke-width="0.35"/>
<line x1="458.3" y1="241.06" x2="459.7" y2="241.06" stroke="#aaa" stroke-width="0.35"/>
<line x1="458.3" y1="243.44" x2="459.7" y2="243.44" stroke="#aaa" stroke-width="0.35"/>
<line x1="458.3" y1="245.82" x2="459.7" y2="245.82" stroke="#aaa" stroke-width="0.35"/>
<line x1="458.3" y1="250.64" x2="459.7" y2="250.64" stroke="#aaa" stroke-width="0.35"/>
<line x1="458.3" y1="253.08" x2="459.7" y2="253.08" stroke="#aaa" stroke-width="0.35"/>
<line x1="458.3" y1="255.52" x2="459.7" y2="255.52" stroke="#aaa" stroke-width="0.35"/>
<line x1="458.3" y1="257.96" x2="459.7" y2="257.96" stroke="#aaa" stroke-width="0.35"/>
<line x1="458.3" y1="262.72" x2="459.7" y2="262.72" stroke="#aaa" stroke-width="0.35"/>
<line x1="458.3" y1="265.04" x2="459.7" y2="265.04" stroke="#aaa" stroke-width="0.35"/>
<line x1="458.3" y1="267.36" x2="459.7" y2="267.36" stroke="#aaa" stroke-width="0.35"/>
<line x1="458.3" y1="269.68" x2="459.7" y2="269.68" stroke="#aaa" stroke-width="0.35"/>
<line x1="458.3" y1="274.2" x2="459.7" y2="274.2" stroke="#aaa" stroke-width="0.35"/>
<line x1="458.3" y1="276.4" x2="459.7" y2="276.4" stroke="#aaa" stroke-width="0.35"/>
<line x1="458.3" y1="278.6" x2="459.7" y2="278.6" stroke="#aaa" stroke-width="0.35"/>
<line x1="458.3" y1="280.8" x2="459.7" y2="280.8" stroke="#aaa" stroke-width="0.35"/>
<line x1="466.3" y1="283.7" x2="466.3" y2="286.1" stroke="#777" stroke-width="0.45"/>
<text transform="translate(466.3 289)" y="0.9" font-size="2.5" text-anchor="middle" fill="#777">-10³</text>
<line x1="475.8" y1="283.7" x2="475.8" y2="286.1" stroke="#777" stroke-width="0.45"/>
<text transform="translate(475.8 289)" y="0.9" font-size="2.5" text-anchor="middle" fill="#777">0</text>
<line x1="487.5" y1="283.7" x2="487.5" y2="286.1" stroke="#777" stroke-width="0.45"/>
<text transform="translate(487.5 289)" y="0.9" font-size="2.5" text-anchor="middle" fill="#777">10³</text>
<line x1="505.7" y1="283.7" x2="505.7" y2="286.1" stroke="#777" stroke-width="0.45"/>
<text transform="translate(505.7 289)" y="0.9" font-size="2.5" text-anchor="middle" fill="#777">10⁴</text>
<line x1="521.1" y1="283.7" x2="521.1" y2="286.1" stroke="#777" stroke-width="0.45"/>
<text transform="translate(521.1 289)" y="0.9" font-size="2.5" text-anchor="middle" fill="#777">10⁵</text>
<line x1="468.7" y1="283.7" x2="468.7" y2="285" stroke="#aaa" stroke-width="0.35"/>
<line x1="470.7" y1="283.7" x2="470.7" y2="285" stroke="#aaa" stroke-width="0.35"/>
<line x1="472.2" y1="283.7" x2="472.2" y2="285" stroke="#aaa" stroke-width="0.35"/>
<line x1="473.2" y1="283.7" x2="473.2" y2="285" stroke="#aaa" stroke-width="0.35"/>
<line x1="479.7" y1="283.7" x2="479.7" y2="285" stroke="#aaa" stroke-width="0.35"/>
<line x1="481.7" y1="283.7" x2="481.7" y2="285" stroke="#aaa" stroke-width="0.35"/>
<line x1="490.2" y1="283.7" x2="490.2" y2="285" stroke="#aaa" stroke-width="0.35"/>
<line x1="492.7" y1="283.7" x2="492.7" y2="285" stroke="#aaa" stroke-width="0.35"/>
<line x1="494.7" y1="283.7" x2="494.7" y2="285" stroke="#aaa" stroke-width="0.35"/>
<line x1="496.7" y1="283.7" x2="496.7" y2="285" stroke="#aaa" stroke-width="0.35"/>
<line x1="498.2" y1="283.7" x2="498.2" y2="285" stroke="#aaa" stroke-width="0.35"/>
<line x1="508.2" y1="283.7" x2="508.2" y2="285" stroke="#aaa" stroke-width="0.35"/>
<line x1="510.7" y1="283.7" x2="510.7" y2="285" stroke="#aaa" stroke-width="0.35"/>
<line x1="512.7" y1="283.7" x2="512.7" y2="285" stroke="#aaa" stroke-width="0.35"/>
<line x1="514.7" y1="283.7" x2="514.7" y2="285" stroke="#aaa" stroke-width="0.35"/>
<line x1="516.7" y1="283.7" x2="516.7" y2="285" stroke="#aaa" stroke-width="0.35"/>
<line x1="518.2" y1="283.7" x2="518.2" y2="285" stroke="#aaa" stroke-width="0.35"/>
<rect x="473.3" y="284" width="3.2" height="1.5" stroke="none" fill="#222" stroke-width="1"/>
<path d="M478.4 282.3L478.4 231.9L522.8 231.9" stroke="#9a9a9a" fill="none" stroke-width="0.7"/>
<line x1="522.8" y1="237.9" x2="522.8" y2="282.3" stroke="#444" stroke-width="0.9"/>
<line x1="478.4" y1="282.3" x2="522.8" y2="282.3" stroke="#9a9a9a" stroke-width="0.7"/>
<line x1="522.8" y1="231.9" x2="522.8" y2="237.9" stroke="#9a9a9a" stroke-width="0.7"/>
<line x1="478.4" y1="231.9" x2="485.4" y2="231.9" stroke="#cfcfcf" stroke-width="1.3"/>
<text transform="translate(525.2 226.8) scale(0.9444 1)" y="1.83" font-size="5.08" text-anchor="end" font-weight="bold" fill="#222" font-family="Liberation Mono">CD14+ IL1beta+</text>
<text transform="translate(504.6 231.9) scale(0.9714 1)" y="1.89" font-size="5.25" text-anchor="middle" font-weight="bold" fill="#222" font-family="Liberation Sans">21.8</text>
<path d="M477.5 242.6C478.04 242.64 480.91 243.13 481.4 243.4C481.89 243.67 482.38 244.58 482.4 245.3C482.42 246.02 481.43 249.72 481.6 250.6C481.77 251.48 483.41 253.66 484.1 254.1C484.79 254.54 487.53 255.09 488.5 255C489.47 254.91 493.09 253.12 493.8 253.2C494.51 253.28 495.08 255.5 495.6 255.8C496.12 256.1 498.56 255.93 499 256.2C499.44 256.47 499.98 258.01 500 258.5C500.02 258.99 499.1 260.4 499.2 261.1C499.3 261.8 501.1 264.87 501 265.5C500.9 266.13 498.92 267.04 498.2 267.4C497.48 267.76 494.6 268.76 493.8 269.1C493 269.44 491.17 270.53 490.2 270.8C489.23 271.07 485.24 271.44 484.1 271.8C482.96 272.16 479.61 274.18 478.8 274.4C477.99 274.62 476.28 277.14 476 274C475.72 270.86 475.85 246.14 476 243C476.15 239.86 476.96 242.56 477.5 242.6Z" stroke="#B5141E" fill="#EDB3B5" stroke-width="1"/>
<path d="M479.37 246.87C479.79 246.9 482.03 247.28 482.41 247.49C482.79 247.7 483.18 248.41 483.19 248.97C483.21 249.54 482.44 252.42 482.57 253.11C482.7 253.79 483.98 255.49 484.52 255.84C485.06 256.18 487.19 256.61 487.95 256.54C488.71 256.47 491.53 255.07 492.08 255.14C492.64 255.2 493.08 256.93 493.49 257.16C493.89 257.4 495.8 257.27 496.14 257.48C496.48 257.69 496.9 258.89 496.92 259.27C496.94 259.65 496.22 260.75 496.3 261.3C496.37 261.84 497.78 264.24 497.7 264.73C497.62 265.22 496.08 265.93 495.52 266.21C494.95 266.49 492.71 267.27 492.08 267.54C491.46 267.8 490.03 268.65 489.28 268.86C488.52 269.07 485.41 269.36 484.52 269.64C483.63 269.92 481.02 271.5 480.38 271.67C479.75 271.84 478.42 273.81 478.2 271.36C477.98 268.91 478.08 249.63 478.2 247.18C478.32 244.73 478.95 246.84 479.37 246.87Z" stroke="#C9363B" fill="rgba(255,235,235,0.25)" stroke-width="0.45"/>
<path d="M481.24 251.14C481.54 251.16 483.15 251.43 483.42 251.58C483.7 251.74 483.97 252.24 483.98 252.65C484 253.05 483.44 255.12 483.54 255.62C483.63 256.11 484.55 257.33 484.94 257.58C485.32 257.82 486.86 258.13 487.4 258.08C487.94 258.03 489.97 257.03 490.37 257.07C490.77 257.12 491.08 258.36 491.38 258.53C491.67 258.7 493.03 258.6 493.28 258.75C493.53 258.9 493.83 259.77 493.84 260.04C493.85 260.31 493.34 261.1 493.39 261.5C493.45 261.89 494.46 263.61 494.4 263.96C494.34 264.31 493.24 264.82 492.83 265.02C492.43 265.23 490.82 265.79 490.37 265.98C489.92 266.17 488.9 266.78 488.35 266.93C487.81 267.08 485.57 267.29 484.94 267.49C484.3 267.69 482.42 268.82 481.97 268.94C481.51 269.07 480.56 270.48 480.4 268.72C480.24 266.96 480.32 253.12 480.4 251.36C480.48 249.6 480.94 251.11 481.24 251.14Z" stroke="#C9363B" fill="rgba(255,235,235,0.25)" stroke-width="0.45"/>
<path d="M482.94 255.02C483.13 255.03 484.17 255.21 484.34 255.3C484.52 255.4 484.7 255.73 484.7 255.99C484.71 256.25 484.35 257.58 484.42 257.9C484.48 258.21 485.07 259 485.32 259.16C485.56 259.31 486.55 259.51 486.9 259.48C487.25 259.45 488.55 258.8 488.81 258.83C489.06 258.86 489.27 259.66 489.46 259.77C489.64 259.88 490.52 259.81 490.68 259.91C490.84 260.01 491.03 260.56 491.04 260.74C491.05 260.92 490.72 261.42 490.75 261.68C490.79 261.93 491.44 263.03 491.4 263.26C491.36 263.49 490.65 263.81 490.39 263.94C490.13 264.07 489.1 264.43 488.81 264.56C488.52 264.68 487.86 265.07 487.51 265.17C487.16 265.27 485.73 265.4 485.32 265.53C484.91 265.66 483.7 266.38 483.41 266.46C483.12 266.54 482.5 267.45 482.4 266.32C482.3 265.19 482.35 256.29 482.4 255.16C482.45 254.03 482.75 255 482.94 255.02Z" stroke="#C9363B" fill="rgba(255,235,235,0.25)" stroke-width="0.45"/>
<path d="M474.88 240.8C475.44 240.35 476.29 240.93 476.82 241.3C477.35 241.67 477.79 241.55 478.05 243C478.32 244.45 478.35 247.17 478.4 250C478.46 252.83 478.4 256.67 478.4 260C478.4 263.33 478.46 267.03 478.4 270C478.35 272.97 478.58 276.25 478.05 277.8C477.52 279.35 476.15 279.3 475.24 279.3C474.33 279.3 473.18 279.52 472.6 277.8C472.01 276.08 471.83 272.3 471.72 269C471.6 265.7 471.82 261.17 471.89 258C471.97 254.83 471.89 252.33 472.16 250C472.42 247.67 473.02 245.53 473.48 244C473.93 242.47 474.33 241.25 474.88 240.8Z" stroke="#B0101A" fill="#E8A0A3" stroke-width="1.1"/>
<path d="M474.99 244.98C475.45 244.61 476.15 245.09 476.58 245.39C477.02 245.69 477.38 245.59 477.59 246.78C477.81 247.97 477.83 250.2 477.88 252.52C477.93 254.84 477.88 257.99 477.88 260.72C477.88 263.45 477.93 266.49 477.88 268.92C477.83 271.35 478.03 274.05 477.59 275.32C477.16 276.59 476.03 276.55 475.28 276.55C474.54 276.55 473.6 276.72 473.12 275.32C472.64 273.91 472.49 270.81 472.4 268.1C472.3 265.39 472.48 261.68 472.54 259.08C472.6 256.48 472.54 254.43 472.76 252.52C472.97 250.61 473.47 248.86 473.84 247.6C474.21 246.34 474.54 245.34 474.99 244.98Z" stroke="#C42A30" fill="rgba(255,245,245,0.28)" stroke-width="0.5"/>
<path d="M475.11 249.15C475.46 248.86 476.01 249.24 476.34 249.47C476.68 249.71 476.96 249.63 477.13 250.56C477.3 251.49 477.32 253.23 477.36 255.04C477.4 256.85 477.36 259.31 477.36 261.44C477.36 263.57 477.4 265.94 477.36 267.84C477.32 269.74 477.47 271.84 477.13 272.83C476.8 273.82 475.91 273.79 475.33 273.79C474.75 273.79 474.02 273.93 473.64 272.83C473.27 271.73 473.15 269.31 473.08 267.2C473 265.09 473.14 262.19 473.19 260.16C473.24 258.13 473.19 256.53 473.36 255.04C473.53 253.55 473.91 252.18 474.2 251.2C474.5 250.22 474.75 249.44 475.11 249.15Z" stroke="#C42A30" fill="rgba(255,245,245,0.28)" stroke-width="0.5"/>
<path d="M475.2 252.86C475.47 252.65 475.88 252.93 476.13 253.1C476.39 253.28 476.6 253.22 476.72 253.92C476.85 254.62 476.87 255.92 476.89 257.28C476.92 258.64 476.89 260.48 476.89 262.08C476.89 263.68 476.92 265.46 476.89 266.88C476.87 268.3 476.98 269.88 476.72 270.62C476.47 271.37 475.81 271.34 475.37 271.34C474.94 271.34 474.39 271.45 474.11 270.62C473.82 269.8 473.74 267.98 473.68 266.4C473.63 264.82 473.73 262.64 473.77 261.12C473.8 259.6 473.77 258.4 473.89 257.28C474.02 256.16 474.31 255.14 474.53 254.4C474.75 253.66 474.94 253.08 475.2 252.86Z" stroke="#C42A30" fill="rgba(255,245,245,0.28)" stroke-width="0.5"/>
<path d="M475.3 256.58C475.48 256.43 475.75 256.62 475.92 256.74C476.09 256.85 476.23 256.82 476.32 257.28C476.4 257.74 476.41 258.61 476.43 259.52C476.45 260.43 476.43 261.65 476.43 262.72C476.43 263.79 476.45 264.97 476.43 265.92C476.41 266.87 476.49 267.92 476.32 268.42C476.15 268.91 475.71 268.9 475.42 268.9C475.12 268.9 474.76 268.97 474.57 268.42C474.38 267.87 474.33 266.66 474.29 265.6C474.25 264.54 474.32 263.09 474.35 262.08C474.37 261.07 474.35 260.27 474.43 259.52C474.51 258.77 474.71 258.09 474.85 257.6C475 257.11 475.12 256.72 475.3 256.58Z" stroke="#C42A30" fill="rgba(255,245,245,0.28)" stroke-width="0.5"/>
<path d="M475.39 259.82C475.49 259.74 475.64 259.85 475.74 259.91C475.83 259.98 475.91 259.96 475.96 260.22C476.01 260.48 476.01 260.97 476.02 261.48C476.03 261.99 476.02 262.68 476.02 263.28C476.02 263.88 476.03 264.55 476.02 265.08C476.01 265.61 476.05 266.2 475.96 266.48C475.86 266.76 475.62 266.75 475.45 266.75C475.29 266.75 475.08 266.79 474.98 266.48C474.87 266.17 474.84 265.49 474.82 264.9C474.8 264.31 474.84 263.49 474.85 262.92C474.86 262.35 474.85 261.9 474.9 261.48C474.95 261.06 475.05 260.68 475.14 260.4C475.22 260.12 475.29 259.91 475.39 259.82Z" stroke="#C42A30" fill="rgba(255,245,245,0.28)" stroke-width="0.5"/>
<line x1="477.8" y1="246" x2="477.8" y2="276" stroke="#B5141E" stroke-width="1.1"/>
<ellipse cx="488.3" cy="251.9" rx="1.2" ry="1.9" fill="#B5141E"/>
<ellipse cx="500.6" cy="245.5" rx="1.1" ry="1.2" fill="#B5141E"/>
<ellipse cx="499.1" cy="250.6" rx="0.9" ry="1.1" fill="#B5141E"/>
<ellipse cx="492.5" cy="265.1" rx="0.9" ry="1.5" fill="#B5141E"/>
<ellipse cx="499.9" cy="273.3" rx="1.2" ry="1" fill="#B5141E"/>
<text transform="translate(574.7 214.4) scale(0.9623 1)" y="2.94" font-size="8.16" text-anchor="middle" fill="#222">2DG</text>
<rect x="538.7" y="221.4" width="67" height="62.3" stroke="#c4c4c4" fill="#fff" stroke-width="0.8"/>
<line x1="536.1" y1="224.6" x2="538.7" y2="224.6" stroke="#777" stroke-width="0.45"/>
<text transform="translate(535.5 224.6)" y="0.94" font-size="2.6" text-anchor="end" fill="#777">250K</text>
<line x1="536.1" y1="236.3" x2="538.7" y2="236.3" stroke="#777" stroke-width="0.45"/>
<text transform="translate(535.5 236.3)" y="0.94" font-size="2.6" text-anchor="end" fill="#777">200K</text>
<line x1="536.1" y1="248.2" x2="538.7" y2="248.2" stroke="#777" stroke-width="0.45"/>
<text transform="translate(535.5 248.2)" y="0.94" font-size="2.6" text-anchor="end" fill="#777">150K</text>
<line x1="536.1" y1="260.4" x2="538.7" y2="260.4" stroke="#777" stroke-width="0.45"/>
<text transform="translate(535.5 260.4)" y="0.94" font-size="2.6" text-anchor="end" fill="#777">100K</text>
<line x1="536.1" y1="272" x2="538.7" y2="272" stroke="#777" stroke-width="0.45"/>
<text transform="translate(535.5 272)" y="0.94" font-size="2.6" text-anchor="end" fill="#777">50K</text>
<line x1="536.1" y1="283" x2="538.7" y2="283" stroke="#777" stroke-width="0.45"/>
<text transform="translate(535.5 283)" y="0.94" font-size="2.6" text-anchor="end" fill="#777">0</text>
<line x1="537.3" y1="226.94" x2="538.7" y2="226.94" stroke="#aaa" stroke-width="0.35"/>
<line x1="537.3" y1="229.28" x2="538.7" y2="229.28" stroke="#aaa" stroke-width="0.35"/>
<line x1="537.3" y1="231.62" x2="538.7" y2="231.62" stroke="#aaa" stroke-width="0.35"/>
<line x1="537.3" y1="233.96" x2="538.7" y2="233.96" stroke="#aaa" stroke-width="0.35"/>
<line x1="537.3" y1="238.68" x2="538.7" y2="238.68" stroke="#aaa" stroke-width="0.35"/>
<line x1="537.3" y1="241.06" x2="538.7" y2="241.06" stroke="#aaa" stroke-width="0.35"/>
<line x1="537.3" y1="243.44" x2="538.7" y2="243.44" stroke="#aaa" stroke-width="0.35"/>
<line x1="537.3" y1="245.82" x2="538.7" y2="245.82" stroke="#aaa" stroke-width="0.35"/>
<line x1="537.3" y1="250.64" x2="538.7" y2="250.64" stroke="#aaa" stroke-width="0.35"/>
<line x1="537.3" y1="253.08" x2="538.7" y2="253.08" stroke="#aaa" stroke-width="0.35"/>
<line x1="537.3" y1="255.52" x2="538.7" y2="255.52" stroke="#aaa" stroke-width="0.35"/>
<line x1="537.3" y1="257.96" x2="538.7" y2="257.96" stroke="#aaa" stroke-width="0.35"/>
<line x1="537.3" y1="262.72" x2="538.7" y2="262.72" stroke="#aaa" stroke-width="0.35"/>
<line x1="537.3" y1="265.04" x2="538.7" y2="265.04" stroke="#aaa" stroke-width="0.35"/>
<line x1="537.3" y1="267.36" x2="538.7" y2="267.36" stroke="#aaa" stroke-width="0.35"/>
<line x1="537.3" y1="269.68" x2="538.7" y2="269.68" stroke="#aaa" stroke-width="0.35"/>
<line x1="537.3" y1="274.2" x2="538.7" y2="274.2" stroke="#aaa" stroke-width="0.35"/>
<line x1="537.3" y1="276.4" x2="538.7" y2="276.4" stroke="#aaa" stroke-width="0.35"/>
<line x1="537.3" y1="278.6" x2="538.7" y2="278.6" stroke="#aaa" stroke-width="0.35"/>
<line x1="537.3" y1="280.8" x2="538.7" y2="280.8" stroke="#aaa" stroke-width="0.35"/>
<line x1="545.3" y1="283.7" x2="545.3" y2="286.1" stroke="#777" stroke-width="0.45"/>
<text transform="translate(545.3 289)" y="0.9" font-size="2.5" text-anchor="middle" fill="#777">-10³</text>
<line x1="554.8" y1="283.7" x2="554.8" y2="286.1" stroke="#777" stroke-width="0.45"/>
<text transform="translate(554.8 289)" y="0.9" font-size="2.5" text-anchor="middle" fill="#777">0</text>
<line x1="566.5" y1="283.7" x2="566.5" y2="286.1" stroke="#777" stroke-width="0.45"/>
<text transform="translate(566.5 289)" y="0.9" font-size="2.5" text-anchor="middle" fill="#777">10³</text>
<line x1="584.7" y1="283.7" x2="584.7" y2="286.1" stroke="#777" stroke-width="0.45"/>
<text transform="translate(584.7 289)" y="0.9" font-size="2.5" text-anchor="middle" fill="#777">10⁴</text>
<line x1="600.1" y1="283.7" x2="600.1" y2="286.1" stroke="#777" stroke-width="0.45"/>
<text transform="translate(600.1 289)" y="0.9" font-size="2.5" text-anchor="middle" fill="#777">10⁵</text>
<line x1="547.7" y1="283.7" x2="547.7" y2="285" stroke="#aaa" stroke-width="0.35"/>
<line x1="549.7" y1="283.7" x2="549.7" y2="285" stroke="#aaa" stroke-width="0.35"/>
<line x1="551.2" y1="283.7" x2="551.2" y2="285" stroke="#aaa" stroke-width="0.35"/>
<line x1="552.2" y1="283.7" x2="552.2" y2="285" stroke="#aaa" stroke-width="0.35"/>
<line x1="558.7" y1="283.7" x2="558.7" y2="285" stroke="#aaa" stroke-width="0.35"/>
<line x1="560.7" y1="283.7" x2="560.7" y2="285" stroke="#aaa" stroke-width="0.35"/>
<line x1="569.2" y1="283.7" x2="569.2" y2="285" stroke="#aaa" stroke-width="0.35"/>
<line x1="571.7" y1="283.7" x2="571.7" y2="285" stroke="#aaa" stroke-width="0.35"/>
<line x1="573.7" y1="283.7" x2="573.7" y2="285" stroke="#aaa" stroke-width="0.35"/>
<line x1="575.7" y1="283.7" x2="575.7" y2="285" stroke="#aaa" stroke-width="0.35"/>
<line x1="577.2" y1="283.7" x2="577.2" y2="285" stroke="#aaa" stroke-width="0.35"/>
<line x1="587.2" y1="283.7" x2="587.2" y2="285" stroke="#aaa" stroke-width="0.35"/>
<line x1="589.7" y1="283.7" x2="589.7" y2="285" stroke="#aaa" stroke-width="0.35"/>
<line x1="591.7" y1="283.7" x2="591.7" y2="285" stroke="#aaa" stroke-width="0.35"/>
<line x1="593.7" y1="283.7" x2="593.7" y2="285" stroke="#aaa" stroke-width="0.35"/>
<line x1="595.7" y1="283.7" x2="595.7" y2="285" stroke="#aaa" stroke-width="0.35"/>
<line x1="597.2" y1="283.7" x2="597.2" y2="285" stroke="#aaa" stroke-width="0.35"/>
<rect x="552.3" y="284" width="3.2" height="1.5" stroke="none" fill="#222" stroke-width="1"/>
<path d="M557.2 282.3L557.2 231.9L601.5 231.9" stroke="#9a9a9a" fill="none" stroke-width="0.7"/>
<line x1="601.5" y1="237.9" x2="601.5" y2="282.3" stroke="#444" stroke-width="0.9"/>
<line x1="557.2" y1="282.3" x2="601.5" y2="282.3" stroke="#9a9a9a" stroke-width="0.7"/>
<line x1="601.5" y1="231.9" x2="601.5" y2="237.9" stroke="#9a9a9a" stroke-width="0.7"/>
<line x1="557.2" y1="231.9" x2="564.2" y2="231.9" stroke="#cfcfcf" stroke-width="1.3"/>
<text transform="translate(604.2 226.8) scale(0.9444 1)" y="1.83" font-size="5.08" text-anchor="end" font-weight="bold" fill="#222" font-family="Liberation Mono">CD14+ IL1beta+</text>
<text transform="translate(583.35 231.9) scale(0.9714 1)" y="1.89" font-size="5.25" text-anchor="middle" font-weight="bold" fill="#222" font-family="Liberation Sans">1.16</text>
<path d="M554.25 250.9C554.76 250.97 555.49 251.58 555.9 252.6C556.31 253.62 556.52 255.27 556.73 257C556.93 258.73 556.99 261.08 557.1 263C557.21 264.92 557.45 266.67 557.4 268.5C557.35 270.33 557.12 272.37 556.8 274C556.47 275.63 555.98 277.4 555.45 278.3C554.93 279.2 554.24 279.58 553.65 279.4C553.06 279.22 552.31 278.77 551.92 277.2C551.54 275.63 551.41 272.53 551.33 270C551.24 267.47 551.29 264.42 551.4 262C551.51 259.58 551.76 257.13 552 255.5C552.24 253.87 552.45 252.97 552.83 252.2C553.2 251.43 553.74 250.83 554.25 250.9Z" stroke="#B0101A" fill="#E8A0A3" stroke-width="1.1"/>
<path d="M554.16 254.12C554.57 254.17 555.15 254.67 555.48 255.48C555.81 256.29 555.98 257.61 556.14 259C556.3 260.39 556.35 262.27 556.44 263.8C556.53 265.33 556.72 266.73 556.68 268.2C556.64 269.67 556.46 271.29 556.2 272.6C555.94 273.91 555.54 275.32 555.12 276.04C554.7 276.76 554.15 277.07 553.68 276.92C553.21 276.77 552.61 276.41 552.3 275.16C551.99 273.91 551.89 271.43 551.82 269.4C551.75 267.37 551.79 264.93 551.88 263C551.97 261.07 552.17 259.11 552.36 257.8C552.55 256.49 552.72 255.77 553.02 255.16C553.32 254.55 553.75 254.07 554.16 254.12Z" stroke="#C42A30" fill="rgba(255,245,245,0.28)" stroke-width="0.5"/>
<path d="M554.08 257.02C554.4 257.06 554.85 257.44 555.1 258.07C555.36 258.7 555.49 259.73 555.61 260.8C555.74 261.87 555.78 263.33 555.85 264.52C555.92 265.71 556.06 266.79 556.03 267.93C556 269.07 555.86 270.33 555.66 271.34C555.46 272.35 555.15 273.45 554.82 274.01C554.5 274.56 554.07 274.8 553.71 274.69C553.34 274.57 552.88 274.3 552.64 273.32C552.4 272.35 552.32 270.43 552.27 268.86C552.21 267.29 552.24 265.4 552.31 263.9C552.38 262.4 552.54 260.88 552.68 259.87C552.83 258.86 552.96 258.3 553.2 257.82C553.43 257.35 553.76 256.98 554.08 257.02Z" stroke="#C42A30" fill="rgba(255,245,245,0.28)" stroke-width="0.5"/>
<path d="M554.01 259.59C554.24 259.62 554.58 259.91 554.77 260.38C554.96 260.84 555.05 261.6 555.15 262.4C555.24 263.2 555.27 264.28 555.32 265.16C555.37 266.04 555.48 266.85 555.46 267.69C555.43 268.53 555.33 269.47 555.18 270.22C555.03 270.97 554.8 271.78 554.56 272.2C554.32 272.61 554 272.79 553.73 272.7C553.46 272.62 553.12 272.41 552.94 271.69C552.76 270.97 552.7 269.55 552.66 268.38C552.62 267.21 552.64 265.81 552.7 264.7C552.75 263.59 552.86 262.46 552.97 261.71C553.08 260.96 553.18 260.54 553.35 260.19C553.52 259.84 553.77 259.56 554.01 259.59Z" stroke="#C42A30" fill="rgba(255,245,245,0.28)" stroke-width="0.5"/>
<path d="M553.94 261.85C554.11 261.87 554.34 262.07 554.47 262.39C554.6 262.72 554.67 263.25 554.74 263.8C554.8 264.35 554.82 265.11 554.86 265.72C554.89 266.33 554.97 266.89 554.95 267.48C554.94 268.07 554.86 268.72 554.76 269.24C554.66 269.76 554.5 270.33 554.33 270.62C554.16 270.9 553.94 271.03 553.75 270.97C553.56 270.91 553.32 270.77 553.2 270.26C553.08 269.76 553.04 268.77 553.01 267.96C552.98 267.15 553 266.17 553.03 265.4C553.07 264.63 553.15 263.84 553.22 263.32C553.3 262.8 553.37 262.51 553.49 262.26C553.61 262.02 553.78 261.83 553.94 261.85Z" stroke="#C42A30" fill="rgba(255,245,245,0.28)" stroke-width="0.5"/>
<path d="M553.89 263.78C553.99 263.79 554.14 263.92 554.22 264.12C554.3 264.32 554.35 264.65 554.38 265C554.42 265.35 554.44 265.82 554.46 266.2C554.48 266.58 554.53 266.93 554.52 267.3C554.51 267.67 554.46 268.07 554.4 268.4C554.34 268.73 554.24 269.08 554.13 269.26C554.02 269.44 553.89 269.52 553.77 269.48C553.65 269.44 553.5 269.35 553.42 269.04C553.35 268.73 553.32 268.11 553.3 267.6C553.29 267.09 553.3 266.48 553.32 266C553.34 265.52 553.39 265.03 553.44 264.7C553.49 264.37 553.53 264.19 553.61 264.04C553.68 263.89 553.79 263.77 553.89 263.78Z" stroke="#C42A30" fill="rgba(255,245,245,0.28)" stroke-width="0.5"/>
<circle cx="554.3" cy="246.2" r="1.1" fill="#C0272D"/>
<text transform="translate(653.2 214.4) scale(0.9623 1)" y="2.94" font-size="8.16" text-anchor="middle" fill="#222">FABP7 + 2DG</text>
<rect x="617.6" y="221.4" width="65" height="62.3" stroke="#c4c4c4" fill="#fff" stroke-width="0.8"/>
<line x1="615" y1="224.6" x2="617.6" y2="224.6" stroke="#777" stroke-width="0.45"/>
<text transform="translate(614.4 224.6)" y="0.94" font-size="2.6" text-anchor="end" fill="#777">300K</text>
<line x1="615" y1="236.3" x2="617.6" y2="236.3" stroke="#777" stroke-width="0.45"/>
<text transform="translate(614.4 236.3)" y="0.94" font-size="2.6" text-anchor="end" fill="#777">240K</text>
<line x1="615" y1="248.2" x2="617.6" y2="248.2" stroke="#777" stroke-width="0.45"/>
<text transform="translate(614.4 248.2)" y="0.94" font-size="2.6" text-anchor="end" fill="#777">180K</text>
<line x1="615" y1="260.4" x2="617.6" y2="260.4" stroke="#777" stroke-width="0.45"/>
<text transform="translate(614.4 260.4)" y="0.94" font-size="2.6" text-anchor="end" fill="#777">120K</text>
<line x1="615" y1="272" x2="617.6" y2="272" stroke="#777" stroke-width="0.45"/>
<text transform="translate(614.4 272)" y="0.94" font-size="2.6" text-anchor="end" fill="#777">60K</text>
<line x1="615" y1="283" x2="617.6" y2="283" stroke="#777" stroke-width="0.45"/>
<text transform="translate(614.4 283)" y="0.94" font-size="2.6" text-anchor="end" fill="#777">0</text>
<line x1="616.2" y1="226.94" x2="617.6" y2="226.94" stroke="#aaa" stroke-width="0.35"/>
<line x1="616.2" y1="229.28" x2="617.6" y2="229.28" stroke="#aaa" stroke-width="0.35"/>
<line x1="616.2" y1="231.62" x2="617.6" y2="231.62" stroke="#aaa" stroke-width="0.35"/>
<line x1="616.2" y1="233.96" x2="617.6" y2="233.96" stroke="#aaa" stroke-width="0.35"/>
<line x1="616.2" y1="238.68" x2="617.6" y2="238.68" stroke="#aaa" stroke-width="0.35"/>
<line x1="616.2" y1="241.06" x2="617.6" y2="241.06" stroke="#aaa" stroke-width="0.35"/>
<line x1="616.2" y1="243.44" x2="617.6" y2="243.44" stroke="#aaa" stroke-width="0.35"/>
<line x1="616.2" y1="245.82" x2="617.6" y2="245.82" stroke="#aaa" stroke-width="0.35"/>
<line x1="616.2" y1="250.64" x2="617.6" y2="250.64" stroke="#aaa" stroke-width="0.35"/>
<line x1="616.2" y1="253.08" x2="617.6" y2="253.08" stroke="#aaa" stroke-width="0.35"/>
<line x1="616.2" y1="255.52" x2="617.6" y2="255.52" stroke="#aaa" stroke-width="0.35"/>
<line x1="616.2" y1="257.96" x2="617.6" y2="257.96" stroke="#aaa" stroke-width="0.35"/>
<line x1="616.2" y1="262.72" x2="617.6" y2="262.72" stroke="#aaa" stroke-width="0.35"/>
<line x1="616.2" y1="265.04" x2="617.6" y2="265.04" stroke="#aaa" stroke-width="0.35"/>
<line x1="616.2" y1="267.36" x2="617.6" y2="267.36" stroke="#aaa" stroke-width="0.35"/>
<line x1="616.2" y1="269.68" x2="617.6" y2="269.68" stroke="#aaa" stroke-width="0.35"/>
<line x1="616.2" y1="274.2" x2="617.6" y2="274.2" stroke="#aaa" stroke-width="0.35"/>
<line x1="616.2" y1="276.4" x2="617.6" y2="276.4" stroke="#aaa" stroke-width="0.35"/>
<line x1="616.2" y1="278.6" x2="617.6" y2="278.6" stroke="#aaa" stroke-width="0.35"/>
<line x1="616.2" y1="280.8" x2="617.6" y2="280.8" stroke="#aaa" stroke-width="0.35"/>
<line x1="624.2" y1="283.7" x2="624.2" y2="286.1" stroke="#777" stroke-width="0.45"/>
<text transform="translate(624.2 289)" y="0.9" font-size="2.5" text-anchor="middle" fill="#777">-10³</text>
<line x1="633.7" y1="283.7" x2="633.7" y2="286.1" stroke="#777" stroke-width="0.45"/>
<text transform="translate(633.7 289)" y="0.9" font-size="2.5" text-anchor="middle" fill="#777">0</text>
<line x1="645.4" y1="283.7" x2="645.4" y2="286.1" stroke="#777" stroke-width="0.45"/>
<text transform="translate(645.4 289)" y="0.9" font-size="2.5" text-anchor="middle" fill="#777">10³</text>
<line x1="663.6" y1="283.7" x2="663.6" y2="286.1" stroke="#777" stroke-width="0.45"/>
<text transform="translate(663.6 289)" y="0.9" font-size="2.5" text-anchor="middle" fill="#777">10⁴</text>
<line x1="679" y1="283.7" x2="679" y2="286.1" stroke="#777" stroke-width="0.45"/>
<text transform="translate(679 289)" y="0.9" font-size="2.5" text-anchor="middle" fill="#777">10⁵</text>
<line x1="626.6" y1="283.7" x2="626.6" y2="285" stroke="#aaa" stroke-width="0.35"/>
<line x1="628.6" y1="283.7" x2="628.6" y2="285" stroke="#aaa" stroke-width="0.35"/>
<line x1="630.1" y1="283.7" x2="630.1" y2="285" stroke="#aaa" stroke-width="0.35"/>
<line x1="631.1" y1="283.7" x2="631.1" y2="285" stroke="#aaa" stroke-width="0.35"/>
<line x1="637.6" y1="283.7" x2="637.6" y2="285" stroke="#aaa" stroke-width="0.35"/>
<line x1="639.6" y1="283.7" x2="639.6" y2="285" stroke="#aaa" stroke-width="0.35"/>
<line x1="648.1" y1="283.7" x2="648.1" y2="285" stroke="#aaa" stroke-width="0.35"/>
<line x1="650.6" y1="283.7" x2="650.6" y2="285" stroke="#aaa" stroke-width="0.35"/>
<line x1="652.6" y1="283.7" x2="652.6" y2="285" stroke="#aaa" stroke-width="0.35"/>
<line x1="654.6" y1="283.7" x2="654.6" y2="285" stroke="#aaa" stroke-width="0.35"/>
<line x1="656.1" y1="283.7" x2="656.1" y2="285" stroke="#aaa" stroke-width="0.35"/>
<line x1="666.1" y1="283.7" x2="666.1" y2="285" stroke="#aaa" stroke-width="0.35"/>
<line x1="668.6" y1="283.7" x2="668.6" y2="285" stroke="#aaa" stroke-width="0.35"/>
<line x1="670.6" y1="283.7" x2="670.6" y2="285" stroke="#aaa" stroke-width="0.35"/>
<line x1="672.6" y1="283.7" x2="672.6" y2="285" stroke="#aaa" stroke-width="0.35"/>
<line x1="674.6" y1="283.7" x2="674.6" y2="285" stroke="#aaa" stroke-width="0.35"/>
<line x1="676.1" y1="283.7" x2="676.1" y2="285" stroke="#aaa" stroke-width="0.35"/>
<rect x="631.2" y="284" width="3.2" height="1.5" stroke="none" fill="#222" stroke-width="1"/>
<path d="M635.4 282.3L635.4 231.9L679.9 231.9" stroke="#9a9a9a" fill="none" stroke-width="0.7"/>
<line x1="679.9" y1="237.9" x2="679.9" y2="282.3" stroke="#444" stroke-width="0.9"/>
<line x1="635.4" y1="282.3" x2="679.9" y2="282.3" stroke="#9a9a9a" stroke-width="0.7"/>
<line x1="679.9" y1="231.9" x2="679.9" y2="237.9" stroke="#9a9a9a" stroke-width="0.7"/>
<line x1="635.4" y1="231.9" x2="642.4" y2="231.9" stroke="#cfcfcf" stroke-width="1.3"/>
<text transform="translate(681.1 226.8) scale(0.9444 1)" y="1.83" font-size="5.08" text-anchor="end" font-weight="bold" fill="#222" font-family="Liberation Mono">CD14+ IL1beta+</text>
<text transform="translate(661.65 231.9) scale(0.9714 1)" y="1.89" font-size="5.25" text-anchor="middle" font-weight="bold" fill="#222" font-family="Liberation Sans">5.56</text>
<path d="M632.54 242.4C633.05 242.47 634.06 243.03 634.5 243.8C634.94 244.57 635.1 245.93 635.18 247C635.27 248.07 634.73 249.33 635.01 250.2C635.29 251.07 636.14 251.45 636.88 252.2C637.62 252.95 639.43 253.97 639.43 254.7C639.43 255.43 637.53 256 636.88 256.6C636.23 257.2 635.72 256.9 635.52 258.3C635.32 259.7 635.72 262.72 635.69 265C635.66 267.28 635.59 269.92 635.35 272C635.11 274.08 634.71 276.35 634.25 277.5C633.78 278.65 633.18 278.88 632.54 278.9C631.91 278.92 630.93 278.92 630.42 277.6C629.91 276.28 629.67 273.6 629.49 271C629.3 268.4 629.26 265.17 629.32 262C629.37 258.83 629.61 254.67 629.82 252C630.04 249.33 630.32 247.43 630.59 246C630.86 244.57 631.11 244 631.44 243.4C631.77 242.8 632.03 242.33 632.54 242.4Z" stroke="#B0101A" fill="#E8A0A3" stroke-width="1.1"/>
<path d="M632.6 247.12C633 247.17 633.81 247.63 634.16 248.24C634.51 248.85 634.64 249.95 634.7 250.8C634.77 251.65 634.34 252.67 634.57 253.36C634.79 254.05 635.47 254.36 636.06 254.96C636.65 255.56 638.1 256.37 638.1 256.96C638.1 257.55 636.59 258 636.06 258.48C635.54 258.96 635.13 258.72 634.98 259.84C634.82 260.96 635.13 263.37 635.11 265.2C635.09 267.03 635.03 269.13 634.84 270.8C634.65 272.47 634.33 274.28 633.96 275.2C633.58 276.12 633.11 276.31 632.6 276.32C632.09 276.33 631.3 276.33 630.9 275.28C630.49 274.23 630.3 272.08 630.15 270C630 267.92 629.97 265.33 630.01 262.8C630.06 260.27 630.25 256.93 630.42 254.8C630.59 252.67 630.82 251.15 631.03 250C631.25 248.85 631.45 248.4 631.71 247.92C631.97 247.44 632.19 247.07 632.6 247.12Z" stroke="#C42A30" fill="rgba(255,245,245,0.28)" stroke-width="0.5"/>
<path d="M632.64 251.37C632.96 251.41 633.58 251.76 633.85 252.24C634.13 252.71 634.22 253.56 634.28 254.22C634.33 254.88 633.99 255.67 634.17 256.2C634.35 256.74 634.87 256.98 635.33 257.44C635.79 257.91 636.91 258.54 636.91 258.99C636.91 259.45 635.73 259.8 635.33 260.17C634.93 260.54 634.61 260.36 634.49 261.23C634.36 262.09 634.61 263.96 634.59 265.38C634.57 266.8 634.53 268.43 634.38 269.72C634.23 271.01 633.99 272.42 633.7 273.13C633.41 273.84 633.04 273.99 632.64 274C632.25 274.01 631.64 274.01 631.32 273.19C631.01 272.38 630.86 270.71 630.74 269.1C630.63 267.49 630.6 265.48 630.64 263.52C630.67 261.56 630.82 258.97 630.96 257.32C631.09 255.67 631.26 254.49 631.43 253.6C631.6 252.71 631.75 252.36 631.96 251.99C632.16 251.62 632.33 251.33 632.64 251.37Z" stroke="#C42A30" fill="rgba(255,245,245,0.28)" stroke-width="0.5"/>
<path d="M632.68 255.14C632.92 255.17 633.38 255.44 633.58 255.79C633.78 256.14 633.86 256.77 633.89 257.26C633.93 257.75 633.69 258.33 633.82 258.73C633.95 259.13 634.34 259.31 634.68 259.65C635.02 260 635.85 260.46 635.85 260.8C635.85 261.14 634.98 261.4 634.68 261.68C634.38 261.95 634.14 261.81 634.05 262.46C633.96 263.1 634.14 264.49 634.13 265.54C634.12 266.59 634.08 267.8 633.97 268.76C633.86 269.72 633.68 270.76 633.46 271.29C633.25 271.82 632.98 271.93 632.68 271.93C632.39 271.94 631.94 271.94 631.71 271.34C631.47 270.73 631.36 269.5 631.28 268.3C631.19 267.1 631.17 265.62 631.2 264.16C631.22 262.7 631.33 260.79 631.43 259.56C631.53 258.33 631.66 257.46 631.78 256.8C631.91 256.14 632.02 255.88 632.17 255.6C632.32 255.33 632.45 255.11 632.68 255.14Z" stroke="#C42A30" fill="rgba(255,245,245,0.28)" stroke-width="0.5"/>
<path d="M632.72 258.45C632.88 258.47 633.2 258.65 633.34 258.9C633.48 259.14 633.53 259.58 633.56 259.92C633.59 260.26 633.42 260.67 633.51 260.94C633.6 261.22 633.87 261.34 634.11 261.58C634.34 261.82 634.92 262.15 634.92 262.38C634.92 262.62 634.31 262.8 634.11 262.99C633.9 263.18 633.73 263.09 633.67 263.54C633.61 263.98 633.73 264.95 633.72 265.68C633.72 266.41 633.69 267.25 633.62 267.92C633.54 268.59 633.41 269.31 633.26 269.68C633.11 270.05 632.92 270.12 632.72 270.13C632.51 270.13 632.2 270.13 632.04 269.71C631.88 269.29 631.8 268.43 631.74 267.6C631.68 266.77 631.67 265.73 631.68 264.72C631.7 263.71 631.78 262.37 631.85 261.52C631.92 260.67 632.01 260.06 632.09 259.6C632.18 259.14 632.26 258.96 632.36 258.77C632.47 258.58 632.56 258.43 632.72 258.45Z" stroke="#C42A30" fill="rgba(255,245,245,0.28)" stroke-width="0.5"/>
<path d="M632.75 261.28C632.85 261.29 633.05 261.41 633.14 261.56C633.23 261.71 633.26 261.99 633.28 262.2C633.29 262.41 633.19 262.67 633.24 262.84C633.3 263.01 633.47 263.09 633.62 263.24C633.76 263.39 634.13 263.59 634.13 263.74C634.13 263.89 633.75 264 633.62 264.12C633.49 264.24 633.38 264.18 633.34 264.46C633.3 264.74 633.38 265.34 633.38 265.8C633.37 266.26 633.36 266.78 633.31 267.2C633.26 267.62 633.18 268.07 633.09 268.3C633 268.53 632.88 268.58 632.75 268.58C632.62 268.58 632.43 268.58 632.32 268.32C632.22 268.06 632.17 267.52 632.14 267C632.1 266.48 632.09 265.83 632.1 265.2C632.11 264.57 632.16 263.73 632.2 263.2C632.25 262.67 632.3 262.29 632.36 262C632.41 261.71 632.46 261.6 632.53 261.48C632.59 261.36 632.65 261.27 632.75 261.28Z" stroke="#C42A30" fill="rgba(255,245,245,0.28)" stroke-width="0.5"/>
<rect x="380.4" y="293" width="67" height="62.3" stroke="#c4c4c4" fill="#fff" stroke-width="0.8"/>
<line x1="377.8" y1="296.2" x2="380.4" y2="296.2" stroke="#777" stroke-width="0.45"/>
<text transform="translate(377.2 296.2)" y="0.94" font-size="2.6" text-anchor="end" fill="#777">250K</text>
<line x1="377.8" y1="307.9" x2="380.4" y2="307.9" stroke="#777" stroke-width="0.45"/>
<text transform="translate(377.2 307.9)" y="0.94" font-size="2.6" text-anchor="end" fill="#777">200K</text>
<line x1="377.8" y1="319.8" x2="380.4" y2="319.8" stroke="#777" stroke-width="0.45"/>
<text transform="translate(377.2 319.8)" y="0.94" font-size="2.6" text-anchor="end" fill="#777">150K</text>
<line x1="377.8" y1="332" x2="380.4" y2="332" stroke="#777" stroke-width="0.45"/>
<text transform="translate(377.2 332)" y="0.94" font-size="2.6" text-anchor="end" fill="#777">100K</text>
<line x1="377.8" y1="343.6" x2="380.4" y2="343.6" stroke="#777" stroke-width="0.45"/>
<text transform="translate(377.2 343.6)" y="0.94" font-size="2.6" text-anchor="end" fill="#777">50K</text>
<line x1="377.8" y1="354.6" x2="380.4" y2="354.6" stroke="#777" stroke-width="0.45"/>
<text transform="translate(377.2 354.6)" y="0.94" font-size="2.6" text-anchor="end" fill="#777">0</text>
<line x1="379" y1="298.54" x2="380.4" y2="298.54" stroke="#aaa" stroke-width="0.35"/>
<line x1="379" y1="300.88" x2="380.4" y2="300.88" stroke="#aaa" stroke-width="0.35"/>
<line x1="379" y1="303.22" x2="380.4" y2="303.22" stroke="#aaa" stroke-width="0.35"/>
<line x1="379" y1="305.56" x2="380.4" y2="305.56" stroke="#aaa" stroke-width="0.35"/>
<line x1="379" y1="310.28" x2="380.4" y2="310.28" stroke="#aaa" stroke-width="0.35"/>
<line x1="379" y1="312.66" x2="380.4" y2="312.66" stroke="#aaa" stroke-width="0.35"/>
<line x1="379" y1="315.04" x2="380.4" y2="315.04" stroke="#aaa" stroke-width="0.35"/>
<line x1="379" y1="317.42" x2="380.4" y2="317.42" stroke="#aaa" stroke-width="0.35"/>
<line x1="379" y1="322.24" x2="380.4" y2="322.24" stroke="#aaa" stroke-width="0.35"/>
<line x1="379" y1="324.68" x2="380.4" y2="324.68" stroke="#aaa" stroke-width="0.35"/>
<line x1="379" y1="327.12" x2="380.4" y2="327.12" stroke="#aaa" stroke-width="0.35"/>
<line x1="379" y1="329.56" x2="380.4" y2="329.56" stroke="#aaa" stroke-width="0.35"/>
<line x1="379" y1="334.32" x2="380.4" y2="334.32" stroke="#aaa" stroke-width="0.35"/>
<line x1="379" y1="336.64" x2="380.4" y2="336.64" stroke="#aaa" stroke-width="0.35"/>
<line x1="379" y1="338.96" x2="380.4" y2="338.96" stroke="#aaa" stroke-width="0.35"/>
<line x1="379" y1="341.28" x2="380.4" y2="341.28" stroke="#aaa" stroke-width="0.35"/>
<line x1="379" y1="345.8" x2="380.4" y2="345.8" stroke="#aaa" stroke-width="0.35"/>
<line x1="379" y1="348" x2="380.4" y2="348" stroke="#aaa" stroke-width="0.35"/>
<line x1="379" y1="350.2" x2="380.4" y2="350.2" stroke="#aaa" stroke-width="0.35"/>
<line x1="379" y1="352.4" x2="380.4" y2="352.4" stroke="#aaa" stroke-width="0.35"/>
<line x1="387" y1="355.3" x2="387" y2="357.7" stroke="#777" stroke-width="0.45"/>
<text transform="translate(387 360.6)" y="0.9" font-size="2.5" text-anchor="middle" fill="#777">-10³</text>
<line x1="396.5" y1="355.3" x2="396.5" y2="357.7" stroke="#777" stroke-width="0.45"/>
<text transform="translate(396.5 360.6)" y="0.9" font-size="2.5" text-anchor="middle" fill="#777">0</text>
<line x1="408.2" y1="355.3" x2="408.2" y2="357.7" stroke="#777" stroke-width="0.45"/>
<text transform="translate(408.2 360.6)" y="0.9" font-size="2.5" text-anchor="middle" fill="#777">10³</text>
<line x1="426.4" y1="355.3" x2="426.4" y2="357.7" stroke="#777" stroke-width="0.45"/>
<text transform="translate(426.4 360.6)" y="0.9" font-size="2.5" text-anchor="middle" fill="#777">10⁴</text>
<line x1="441.8" y1="355.3" x2="441.8" y2="357.7" stroke="#777" stroke-width="0.45"/>
<text transform="translate(441.8 360.6)" y="0.9" font-size="2.5" text-anchor="middle" fill="#777">10⁵</text>
<line x1="389.4" y1="355.3" x2="389.4" y2="356.6" stroke="#aaa" stroke-width="0.35"/>
<line x1="391.4" y1="355.3" x2="391.4" y2="356.6" stroke="#aaa" stroke-width="0.35"/>
<line x1="392.9" y1="355.3" x2="392.9" y2="356.6" stroke="#aaa" stroke-width="0.35"/>
<line x1="393.9" y1="355.3" x2="393.9" y2="356.6" stroke="#aaa" stroke-width="0.35"/>
<line x1="400.4" y1="355.3" x2="400.4" y2="356.6" stroke="#aaa" stroke-width="0.35"/>
<line x1="402.4" y1="355.3" x2="402.4" y2="356.6" stroke="#aaa" stroke-width="0.35"/>
<line x1="410.9" y1="355.3" x2="410.9" y2="356.6" stroke="#aaa" stroke-width="0.35"/>
<line x1="413.4" y1="355.3" x2="413.4" y2="356.6" stroke="#aaa" stroke-width="0.35"/>
<line x1="415.4" y1="355.3" x2="415.4" y2="356.6" stroke="#aaa" stroke-width="0.35"/>
<line x1="417.4" y1="355.3" x2="417.4" y2="356.6" stroke="#aaa" stroke-width="0.35"/>
<line x1="418.9" y1="355.3" x2="418.9" y2="356.6" stroke="#aaa" stroke-width="0.35"/>
<line x1="428.9" y1="355.3" x2="428.9" y2="356.6" stroke="#aaa" stroke-width="0.35"/>
<line x1="431.4" y1="355.3" x2="431.4" y2="356.6" stroke="#aaa" stroke-width="0.35"/>
<line x1="433.4" y1="355.3" x2="433.4" y2="356.6" stroke="#aaa" stroke-width="0.35"/>
<line x1="435.4" y1="355.3" x2="435.4" y2="356.6" stroke="#aaa" stroke-width="0.35"/>
<line x1="437.4" y1="355.3" x2="437.4" y2="356.6" stroke="#aaa" stroke-width="0.35"/>
<line x1="438.9" y1="355.3" x2="438.9" y2="356.6" stroke="#aaa" stroke-width="0.35"/>
<rect x="394" y="355.6" width="3.2" height="1.5" stroke="none" fill="#222" stroke-width="1"/>
<path d="M399.2 354L399.2 303.1L443.3 303.1" stroke="#9a9a9a" fill="none" stroke-width="0.7"/>
<line x1="443.3" y1="309.1" x2="443.3" y2="354" stroke="#444" stroke-width="0.9"/>
<line x1="399.2" y1="354" x2="443.3" y2="354" stroke="#9a9a9a" stroke-width="0.7"/>
<line x1="443.3" y1="303.1" x2="443.3" y2="309.1" stroke="#9a9a9a" stroke-width="0.7"/>
<line x1="399.2" y1="303.1" x2="406.2" y2="303.1" stroke="#cfcfcf" stroke-width="1.3"/>
<text transform="translate(445.9 298.4) scale(0.9444 1)" y="1.83" font-size="5.08" text-anchor="end" font-weight="bold" fill="#222" font-family="Liberation Mono">CD14+ IL1beta+</text>
<text transform="translate(425.25 303.5) scale(0.9714 1)" y="1.89" font-size="5.25" text-anchor="middle" font-weight="bold" fill="#222" font-family="Liberation Sans">0</text>
<path d="M396 319.3C396.63 319.3 397.53 319.72 398 321C398.47 322.28 398.67 324.67 398.8 327C398.93 329.33 398.83 332.5 398.8 335C398.77 337.5 398.8 340 398.6 342C398.4 344 398.03 345.92 397.6 347C397.17 348.08 396.57 348.4 396 348.5C395.43 348.6 394.67 348.68 394.2 347.6C393.73 346.52 393.38 344.43 393.2 342C393.02 339.57 393.08 335.83 393.1 333C393.12 330.17 393.12 327 393.3 325C393.48 323 393.75 321.95 394.2 321C394.65 320.05 395.37 319.3 396 319.3Z" stroke="#B0101A" fill="#E8A0A3" stroke-width="1.1"/>
<path d="M396 322.64C396.51 322.64 397.23 322.97 397.6 324C397.97 325.03 398.13 326.93 398.24 328.8C398.35 330.67 398.27 333.2 398.24 335.2C398.21 337.2 398.24 339.2 398.08 340.8C397.92 342.4 397.63 343.93 397.28 344.8C396.93 345.67 396.45 345.92 396 346C395.55 346.08 394.93 346.15 394.56 345.28C394.19 344.41 393.91 342.75 393.76 340.8C393.61 338.85 393.67 335.87 393.68 333.6C393.69 331.33 393.69 328.8 393.84 327.2C393.99 325.6 394.2 324.76 394.56 324C394.92 323.24 395.49 322.64 396 322.64Z" stroke="#C42A30" fill="rgba(255,245,245,0.28)" stroke-width="0.5"/>
<path d="M396 325.65C396.39 325.65 396.95 325.9 397.24 326.7C397.53 327.5 397.65 328.97 397.74 330.42C397.82 331.87 397.76 333.83 397.74 335.38C397.72 336.93 397.74 338.48 397.61 339.72C397.49 340.96 397.26 342.15 396.99 342.82C396.72 343.49 396.35 343.69 396 343.75C395.65 343.81 395.17 343.86 394.88 343.19C394.59 342.52 394.38 341.23 394.26 339.72C394.15 338.21 394.19 335.9 394.2 334.14C394.21 332.38 394.21 330.42 394.33 329.18C394.44 327.94 394.61 327.29 394.88 326.7C395.16 326.11 395.61 325.65 396 325.65Z" stroke="#C42A30" fill="rgba(255,245,245,0.28)" stroke-width="0.5"/>
<path d="M396 328.32C396.29 328.32 396.71 328.51 396.92 329.1C397.13 329.69 397.23 330.79 397.29 331.86C397.35 332.93 397.3 334.39 397.29 335.54C397.27 336.69 397.29 337.84 397.2 338.76C397.1 339.68 396.94 340.56 396.74 341.06C396.54 341.56 396.26 341.7 396 341.75C395.74 341.8 395.39 341.83 395.17 341.34C394.96 340.84 394.8 339.88 394.71 338.76C394.63 337.64 394.66 335.92 394.67 334.62C394.67 333.32 394.67 331.86 394.76 330.94C394.84 330.02 394.96 329.54 395.17 329.1C395.38 328.66 395.71 328.32 396 328.32Z" stroke="#C42A30" fill="rgba(255,245,245,0.28)" stroke-width="0.5"/>
<path d="M396 330.66C396.2 330.66 396.49 330.79 396.64 331.2C396.79 331.61 396.85 332.37 396.9 333.12C396.94 333.87 396.91 334.88 396.9 335.68C396.89 336.48 396.9 337.28 396.83 337.92C396.77 338.56 396.65 339.17 396.51 339.52C396.37 339.87 396.18 339.97 396 340C395.82 340.03 395.57 340.06 395.42 339.71C395.27 339.37 395.16 338.7 395.1 337.92C395.05 337.14 395.07 335.95 395.07 335.04C395.08 334.13 395.08 333.12 395.14 332.48C395.19 331.84 395.28 331.5 395.42 331.2C395.57 330.9 395.8 330.66 396 330.66Z" stroke="#C42A30" fill="rgba(255,245,245,0.28)" stroke-width="0.5"/>
<path d="M396 332.66C396.13 332.66 396.31 332.74 396.4 333C396.49 333.26 396.53 333.73 396.56 334.2C396.59 334.67 396.57 335.3 396.56 335.8C396.55 336.3 396.56 336.8 396.52 337.2C396.48 337.6 396.41 337.98 396.32 338.2C396.23 338.42 396.11 338.48 396 338.5C395.89 338.52 395.73 338.54 395.64 338.32C395.55 338.1 395.48 337.69 395.44 337.2C395.4 336.71 395.42 335.97 395.42 335.4C395.42 334.83 395.42 334.2 395.46 333.8C395.5 333.4 395.55 333.19 395.64 333C395.73 332.81 395.87 332.66 396 332.66Z" stroke="#C42A30" fill="rgba(255,245,245,0.28)" stroke-width="0.5"/>
<circle cx="394.8" cy="318" r="0.3" fill="#d55"/>
<circle cx="395.5" cy="317" r="0.3" fill="#d55"/>
<circle cx="396.2" cy="316" r="0.3" fill="#d55"/>
<circle cx="394.8" cy="315" r="0.3" fill="#d55"/>
<circle cx="395.5" cy="314" r="0.3" fill="#d55"/>
<circle cx="396.2" cy="313" r="0.3" fill="#d55"/>
<circle cx="394.8" cy="312" r="0.3" fill="#d55"/>
<circle cx="395.5" cy="311" r="0.3" fill="#d55"/>
<circle cx="396.2" cy="310" r="0.3" fill="#d55"/>
<circle cx="394.8" cy="309" r="0.3" fill="#d55"/>
<circle cx="395.5" cy="308" r="0.3" fill="#d55"/>
<circle cx="396.2" cy="307" r="0.3" fill="#d55"/>
<circle cx="394.8" cy="306" r="0.3" fill="#d55"/>
<circle cx="395.5" cy="305" r="0.3" fill="#d55"/>
<rect x="401.5" y="341.5" width="40.5" height="12" stroke="none" fill="#fff" stroke-width="1"/>
<text transform="translate(402.5 348.4) scale(0.9444 1)" y="2.88" font-size="7.99" fill="#222">FMO_IL-1β</text>
<line x1="368.6" y1="261" x2="368.6" y2="365.2" stroke="#111" stroke-width="1.1"/>
<line x1="368.1" y1="365.2" x2="486" y2="365.2" stroke="#111" stroke-width="1.1"/>
<path d="M368.6 256.8L372.3 262.6L364.9 262.6Z" stroke="none" fill="#111" stroke-width="1"/>
<path d="M491.2 365.2L485.3 361.5L485.3 368.9Z" stroke="none" fill="#111" stroke-width="1"/>
<text transform="translate(359.8 290.4) rotate(-90) scale(0.9623 1)" y="2.79" font-size="7.74" text-anchor="middle" fill="#222">SSC-H</text>
<text transform="translate(420.7 372.6) scale(0.9623 1)" y="2.82" font-size="7.84" text-anchor="middle" fill="#222">IL-1β_AF647</text>
<rect x="144.5" y="579.5" width="156.6" height="98.3" stroke="#666" fill="#fff" stroke-width="0.8"/>
<line x1="144.5" y1="609.2" x2="301.1" y2="609.2" stroke="#8a8a8a" stroke-width="0.7" stroke-dasharray="1.2 1.2"/>
<line x1="144.5" y1="623.2" x2="301.1" y2="623.2" stroke="#888" stroke-width="0.7"/>
<line x1="144.5" y1="637.1" x2="301.1" y2="637.1" stroke="#f5c99a" stroke-width="0.7"/>
<line x1="144.5" y1="651" x2="301.1" y2="651" stroke="#f3b0b0" stroke-width="0.7"/>
<line x1="144.5" y1="665.3" x2="301.1" y2="665.3" stroke="#b7d3ef" stroke-width="0.7"/>
<path d="M158 609.2C158.42 609.2 159.83 609.32 160.5 609.2C161.17 609.08 161.25 609.2 162 608.5C162.75 607.8 163.67 606.92 165 605C166.33 603.08 168.5 599.5 170 597C171.5 594.5 172.83 591.92 174 590C175.17 588.08 176.3 586.45 177 585.5C177.7 584.55 177.78 584.3 178.2 584.3C178.62 584.3 179.03 584.8 179.5 585.5C179.97 586.2 180.42 587.5 181 588.5C181.58 589.5 182.25 590.5 183 591.5C183.75 592.5 184.67 593.58 185.5 594.5C186.33 595.42 187.08 596.08 188 597C188.92 597.92 190 598.92 191 600C192 601.08 193 602.42 194 603.5C195 604.58 195.83 605.63 197 606.5C198.17 607.37 199.67 608.25 201 608.7C202.33 609.15 204.33 609.12 205 609.2" stroke="#666" fill="none" stroke-width="0.7" stroke-linejoin="round"/>
<path d="M163.5 623.2C163.92 623 165.42 622.95 166 622C166.58 621.05 166.25 619.5 167 617.5C167.75 615.5 169.33 612.42 170.5 610C171.67 607.58 173 604.83 174 603C175 601.17 175.73 599.92 176.5 599C177.27 598.08 177.93 597.58 178.6 597.5C179.27 597.42 179.85 597.83 180.5 598.5C181.15 599.17 181.75 600.62 182.5 601.5C183.25 602.38 184.17 603.18 185 603.8C185.83 604.42 186.58 604.5 187.5 605.2C188.42 605.9 189.5 606.87 190.5 608C191.5 609.13 192.5 610.42 193.5 612C194.5 613.58 195.5 615.87 196.5 617.5C197.5 619.13 198.42 620.85 199.5 621.8C200.58 622.75 202.42 622.97 203 623.2Z" stroke="none" fill="rgba(95,95,95,0.85)" stroke-width="1"/>
<path d="M163.5 623.2C163.92 623 165.42 622.95 166 622C166.58 621.05 166.25 619.5 167 617.5C167.75 615.5 169.33 612.42 170.5 610C171.67 607.58 173 604.83 174 603C175 601.17 175.73 599.92 176.5 599C177.27 598.08 177.93 597.58 178.6 597.5C179.27 597.42 179.85 597.83 180.5 598.5C181.15 599.17 181.75 600.62 182.5 601.5C183.25 602.38 184.17 603.18 185 603.8C185.83 604.42 186.58 604.5 187.5 605.2C188.42 605.9 189.5 606.87 190.5 608C191.5 609.13 192.5 610.42 193.5 612C194.5 613.58 195.5 615.87 196.5 617.5C197.5 619.13 198.42 620.85 199.5 621.8C200.58 622.75 202.42 622.97 203 623.2" stroke="#111" fill="none" stroke-width="0.9" stroke-linejoin="round"/>
<path d="M164 637.1C164.42 636.83 165.83 636.68 166.5 635.5C167.17 634.32 167.25 632.17 168 630C168.75 627.83 170 624.92 171 622.5C172 620.08 173.08 617.25 174 615.5C174.92 613.75 175.75 612.65 176.5 612C177.25 611.35 177.92 611.35 178.5 611.6C179.08 611.85 179.42 612.43 180 613.5C180.58 614.57 181.25 616.67 182 618C182.75 619.33 183.67 620.67 184.5 621.5C185.33 622.33 186.08 622.33 187 623C187.92 623.67 189 624.42 190 625.5C191 626.58 192 628.17 193 629.5C194 630.83 195 632.37 196 633.5C197 634.63 197.92 635.7 199 636.3C200.08 636.9 201.92 636.97 202.5 637.1Z" stroke="none" fill="rgba(245,160,80,0.62)" stroke-width="1"/>
<path d="M164 637.1C164.42 636.83 165.83 636.68 166.5 635.5C167.17 634.32 167.25 632.17 168 630C168.75 627.83 170 624.92 171 622.5C172 620.08 173.08 617.25 174 615.5C174.92 613.75 175.75 612.65 176.5 612C177.25 611.35 177.92 611.35 178.5 611.6C179.08 611.85 179.42 612.43 180 613.5C180.58 614.57 181.25 616.67 182 618C182.75 619.33 183.67 620.67 184.5 621.5C185.33 622.33 186.08 622.33 187 623C187.92 623.67 189 624.42 190 625.5C191 626.58 192 628.17 193 629.5C194 630.83 195 632.37 196 633.5C197 634.63 197.92 635.7 199 636.3C200.08 636.9 201.92 636.97 202.5 637.1" stroke="#F08A24" fill="none" stroke-width="0.8" stroke-linejoin="round"/>
<path d="M164 651C164.42 650.75 165.83 650.67 166.5 649.5C167.17 648.33 167.25 646.17 168 644C168.75 641.83 170 638.83 171 636.5C172 634.17 173.08 631.67 174 630C174.92 628.33 175.83 627.15 176.5 626.5C177.17 625.85 177.5 625.93 178 626.1C178.5 626.27 178.92 626.52 179.5 627.5C180.08 628.48 180.83 630.58 181.5 632C182.17 633.42 182.83 634.92 183.5 636C184.17 637.08 184.83 637.92 185.5 638.5C186.17 639.08 186.83 639.25 187.5 639.5C188.17 639.75 188.92 639.95 189.5 640C190.08 640.05 190.42 639.47 191 639.8C191.58 640.13 192.25 641.05 193 642C193.75 642.95 194.67 644.42 195.5 645.5C196.33 646.58 197.08 647.67 198 648.5C198.92 649.33 200 650.08 201 650.5C202 650.92 203.5 650.92 204 651Z" stroke="none" fill="rgba(230,85,90,0.6)" stroke-width="1"/>
<path d="M164 651C164.42 650.75 165.83 650.67 166.5 649.5C167.17 648.33 167.25 646.17 168 644C168.75 641.83 170 638.83 171 636.5C172 634.17 173.08 631.67 174 630C174.92 628.33 175.83 627.15 176.5 626.5C177.17 625.85 177.5 625.93 178 626.1C178.5 626.27 178.92 626.52 179.5 627.5C180.08 628.48 180.83 630.58 181.5 632C182.17 633.42 182.83 634.92 183.5 636C184.17 637.08 184.83 637.92 185.5 638.5C186.17 639.08 186.83 639.25 187.5 639.5C188.17 639.75 188.92 639.95 189.5 640C190.08 640.05 190.42 639.47 191 639.8C191.58 640.13 192.25 641.05 193 642C193.75 642.95 194.67 644.42 195.5 645.5C196.33 646.58 197.08 647.67 198 648.5C198.92 649.33 200 650.08 201 650.5C202 650.92 203.5 650.92 204 651" stroke="#E53935" fill="none" stroke-width="0.8" stroke-linejoin="round"/>
<path d="M160 665.3C160.5 665.17 162 665.22 163 664.5C164 663.78 164.83 662.58 166 661C167.17 659.42 168.67 657.17 170 655C171.33 652.83 172.67 650.17 174 648C175.33 645.83 176.77 643.47 178 642C179.23 640.53 180.48 639.28 181.4 639.2C182.32 639.12 182.82 640.03 183.5 641.5C184.18 642.97 184.83 646 185.5 648C186.17 650 186.75 652.25 187.5 653.5C188.25 654.75 189.08 655 190 655.5C190.92 656 192 656.13 193 656.5C194 656.87 195 657.2 196 657.7C197 658.2 197.83 659.03 199 659.5C200.17 659.97 201.5 660.2 203 660.5C204.5 660.8 206.33 661.1 208 661.3C209.67 661.5 211 661.5 213 661.7C215 661.9 217.67 662.15 220 662.5C222.33 662.85 224.67 663.33 227 663.8C229.33 664.27 232.83 665.05 234 665.3Z" stroke="none" fill="rgba(90,150,215,0.62)" stroke-width="1"/>
<path d="M160 665.3C160.5 665.17 162 665.22 163 664.5C164 663.78 164.83 662.58 166 661C167.17 659.42 168.67 657.17 170 655C171.33 652.83 172.67 650.17 174 648C175.33 645.83 176.77 643.47 178 642C179.23 640.53 180.48 639.28 181.4 639.2C182.32 639.12 182.82 640.03 183.5 641.5C184.18 642.97 184.83 646 185.5 648C186.17 650 186.75 652.25 187.5 653.5C188.25 654.75 189.08 655 190 655.5C190.92 656 192 656.13 193 656.5C194 656.87 195 657.2 196 657.7C197 658.2 197.83 659.03 199 659.5C200.17 659.97 201.5 660.2 203 660.5C204.5 660.8 206.33 661.1 208 661.3C209.67 661.5 211 661.5 213 661.7C215 661.9 217.67 662.15 220 662.5C222.33 662.85 224.67 663.33 227 663.8C229.33 664.27 232.83 665.05 234 665.3" stroke="#3C7DC4" fill="none" stroke-width="0.8" stroke-linejoin="round"/>
<path d="M199 677.8C199.67 677.58 201.67 677.47 203 676.5C204.33 675.53 205.83 673.75 207 672C208.17 670.25 209 668.17 210 666C211 663.83 212.17 660.83 213 659C213.83 657.17 214.45 655.8 215 655C215.55 654.2 215.8 654.12 216.3 654.2C216.8 654.28 217.38 654.95 218 655.5C218.62 656.05 219.22 656.87 220 657.5C220.78 658.13 221.87 658.55 222.7 659.3C223.53 660.05 223.78 660.72 225 662C226.22 663.28 228.17 665.25 230 667C231.83 668.75 234 670.7 236 672.5C238 674.3 241 676.92 242 677.8Z" stroke="none" fill="rgba(175,212,100,0.72)" stroke-width="1"/>
<path d="M199 677.8C199.67 677.58 201.67 677.47 203 676.5C204.33 675.53 205.83 673.75 207 672C208.17 670.25 209 668.17 210 666C211 663.83 212.17 660.83 213 659C213.83 657.17 214.45 655.8 215 655C215.55 654.2 215.8 654.12 216.3 654.2C216.8 654.28 217.38 654.95 218 655.5C218.62 656.05 219.22 656.87 220 657.5C220.78 658.13 221.87 658.55 222.7 659.3C223.53 660.05 223.78 660.72 225 662C226.22 663.28 228.17 665.25 230 667C231.83 668.75 234 670.7 236 672.5C238 674.3 241 676.92 242 677.8" stroke="#8DC63F" fill="none" stroke-width="0.8" stroke-linejoin="round"/>
<text transform="translate(241.9 602.9) scale(0.9533 1)" y="2.87" font-size="7.97" fill="#222">FMO</text>
<text transform="translate(241.9 617.3) scale(0.9533 1)" y="2.87" font-size="7.97" fill="#222">Control</text>
<text transform="translate(241.9 631.1) scale(0.9533 1)" y="2.87" font-size="7.97" fill="#222">FABP7 100 ng/ml</text>
<text transform="translate(241.9 645.8) scale(0.9533 1)" y="2.87" font-size="7.97" fill="#222">FABP7 300 ng/ml</text>
<text transform="translate(241.9 659.6) scale(0.9533 1)" y="2.87" font-size="7.97" fill="#222">LPS</text>
<text transform="translate(241.9 672.8) scale(0.9533 1)" y="2.87" font-size="7.97" fill="#222">H<tspan font-size="5" dy="1.5">2</tspan><tspan dy="-1.5">O</tspan><tspan font-size="5" dy="1.5">2</tspan></text>
<line x1="154.5" y1="677.8" x2="154.5" y2="680.2" stroke="#666" stroke-width="0.55"/>
<text transform="translate(154.5 683)" y="1.37" font-size="3.8" text-anchor="middle" fill="#444">-10³</text>
<line x1="163" y1="677.8" x2="163" y2="680.2" stroke="#666" stroke-width="0.55"/>
<line x1="165.5" y1="677.8" x2="165.5" y2="680.2" stroke="#666" stroke-width="0.55"/>
<line x1="178.1" y1="677.8" x2="178.1" y2="680.2" stroke="#666" stroke-width="0.55"/>
<text transform="translate(178.1 683)" y="1.37" font-size="3.8" text-anchor="middle" fill="#444">10³</text>
<line x1="215.2" y1="677.8" x2="215.2" y2="680.2" stroke="#666" stroke-width="0.55"/>
<text transform="translate(215.2 683)" y="1.37" font-size="3.8" text-anchor="middle" fill="#444">10³</text>
<line x1="252.6" y1="677.8" x2="252.6" y2="680.2" stroke="#666" stroke-width="0.55"/>
<text transform="translate(252.6 683)" y="1.37" font-size="3.8" text-anchor="middle" fill="#444">10⁴</text>
<line x1="288.8" y1="677.8" x2="288.8" y2="680.2" stroke="#666" stroke-width="0.55"/>
<text transform="translate(288.8 683)" y="1.37" font-size="3.8" text-anchor="middle" fill="#444">10⁵</text>
<line x1="148" y1="677.8" x2="148" y2="679.2" stroke="#888" stroke-width="0.45"/>
<line x1="151" y1="677.8" x2="151" y2="679.2" stroke="#888" stroke-width="0.45"/>
<line x1="157" y1="677.8" x2="157" y2="679.2" stroke="#888" stroke-width="0.45"/>
<line x1="159" y1="677.8" x2="159" y2="679.2" stroke="#888" stroke-width="0.45"/>
<line x1="161" y1="677.8" x2="161" y2="679.2" stroke="#888" stroke-width="0.45"/>
<line x1="167" y1="677.8" x2="167" y2="679.2" stroke="#888" stroke-width="0.45"/>
<line x1="170" y1="677.8" x2="170" y2="679.2" stroke="#888" stroke-width="0.45"/>
<line x1="172" y1="677.8" x2="172" y2="679.2" stroke="#888" stroke-width="0.45"/>
<line x1="174" y1="677.8" x2="174" y2="679.2" stroke="#888" stroke-width="0.45"/>
<line x1="176" y1="677.8" x2="176" y2="679.2" stroke="#888" stroke-width="0.45"/>
<line x1="190" y1="677.8" x2="190" y2="679.2" stroke="#888" stroke-width="0.45"/>
<line x1="197" y1="677.8" x2="197" y2="679.2" stroke="#888" stroke-width="0.45"/>
<line x1="202" y1="677.8" x2="202" y2="679.2" stroke="#888" stroke-width="0.45"/>
<line x1="206" y1="677.8" x2="206" y2="679.2" stroke="#888" stroke-width="0.45"/>
<line x1="209" y1="677.8" x2="209" y2="679.2" stroke="#888" stroke-width="0.45"/>
<line x1="211" y1="677.8" x2="211" y2="679.2" stroke="#888" stroke-width="0.45"/>
<line x1="213" y1="677.8" x2="213" y2="679.2" stroke="#888" stroke-width="0.45"/>
<line x1="226" y1="677.8" x2="226" y2="679.2" stroke="#888" stroke-width="0.45"/>
<line x1="234" y1="677.8" x2="234" y2="679.2" stroke="#888" stroke-width="0.45"/>
<line x1="240" y1="677.8" x2="240" y2="679.2" stroke="#888" stroke-width="0.45"/>
<line x1="244" y1="677.8" x2="244" y2="679.2" stroke="#888" stroke-width="0.45"/>
<line x1="247" y1="677.8" x2="247" y2="679.2" stroke="#888" stroke-width="0.45"/>
<line x1="249" y1="677.8" x2="249" y2="679.2" stroke="#888" stroke-width="0.45"/>
<line x1="251" y1="677.8" x2="251" y2="679.2" stroke="#888" stroke-width="0.45"/>
<line x1="263" y1="677.8" x2="263" y2="679.2" stroke="#888" stroke-width="0.45"/>
<line x1="271" y1="677.8" x2="271" y2="679.2" stroke="#888" stroke-width="0.45"/>
<line x1="277" y1="677.8" x2="277" y2="679.2" stroke="#888" stroke-width="0.45"/>
<line x1="281" y1="677.8" x2="281" y2="679.2" stroke="#888" stroke-width="0.45"/>
<line x1="284" y1="677.8" x2="284" y2="679.2" stroke="#888" stroke-width="0.45"/>
<line x1="286" y1="677.8" x2="286" y2="679.2" stroke="#888" stroke-width="0.45"/>
<text transform="translate(224.6 694) scale(0.9444 1)" y="2.84" font-size="7.88" text-anchor="middle" fill="#222">ROS</text>
<rect x="486.6" y="575.7" width="197.3" height="101" stroke="#666" fill="#fff" stroke-width="0.8"/>
<line x1="486.6" y1="606.3" x2="683.9" y2="606.3" stroke="#8a8a8a" stroke-width="0.7" stroke-dasharray="1.2 1.2"/>
<line x1="486.6" y1="620.2" x2="683.9" y2="620.2" stroke="#888" stroke-width="0.7"/>
<line x1="486.6" y1="634.4" x2="683.9" y2="634.4" stroke="#f5c99a" stroke-width="0.7"/>
<line x1="486.6" y1="648.4" x2="683.9" y2="648.4" stroke="#f3b0b0" stroke-width="0.7"/>
<line x1="486.6" y1="663" x2="683.9" y2="663" stroke="#b7d3ef" stroke-width="0.7"/>
<path d="M520 606.3C521.32 606.27 526.23 606.65 527.9 606.1C529.57 605.55 529.4 605.35 530 603C530.6 600.65 531.13 595.17 531.5 592C531.87 588.83 532.02 585.62 532.2 584C532.38 582.38 532.45 582.3 532.6 582.3C532.75 582.3 532.87 582.38 533.1 584C533.33 585.62 533.6 589.33 534 592C534.4 594.67 534.83 598 535.5 600C536.17 602 536.92 603.07 538 604C539.08 604.93 540.33 605.22 542 605.6C543.67 605.98 547 606.18 548 606.3" stroke="#777" fill="none" stroke-width="0.6" stroke-dasharray="1 0.8"/>
<path d="M528.9 620.2C529.25 620.05 530.15 619.67 531 619.3C531.85 618.93 533 618.17 534 618C535 617.83 535.83 618.33 537 618.3C538.17 618.27 539.45 618.02 541 617.8C542.55 617.58 544.72 617.55 546.3 617C547.88 616.45 549.13 615.52 550.5 614.5C551.87 613.48 553.17 612.4 554.5 610.9C555.83 609.4 557.13 607.23 558.5 605.5C559.87 603.77 561.37 602.08 562.7 600.5C564.03 598.92 565.32 597.07 566.5 596C567.68 594.93 568.63 594.02 569.8 594.1C570.97 594.18 572.3 595.4 573.5 596.5C574.7 597.6 575.75 599.03 577 600.7C578.25 602.37 579.65 604.63 581 606.5C582.35 608.37 583.6 610.35 585.1 611.9C586.6 613.45 588.28 614.78 590 615.8C591.72 616.82 593.73 617.42 595.4 618C597.07 618.58 598.3 618.93 600 619.3C601.7 619.67 604.67 620.05 605.6 620.2Z" stroke="none" fill="rgba(95,95,95,0.85)" stroke-width="1"/>
<path d="M528.9 620.2C529.25 620.05 530.15 619.67 531 619.3C531.85 618.93 533 618.17 534 618C535 617.83 535.83 618.33 537 618.3C538.17 618.27 539.45 618.02 541 617.8C542.55 617.58 544.72 617.55 546.3 617C547.88 616.45 549.13 615.52 550.5 614.5C551.87 613.48 553.17 612.4 554.5 610.9C555.83 609.4 557.13 607.23 558.5 605.5C559.87 603.77 561.37 602.08 562.7 600.5C564.03 598.92 565.32 597.07 566.5 596C567.68 594.93 568.63 594.02 569.8 594.1C570.97 594.18 572.3 595.4 573.5 596.5C574.7 597.6 575.75 599.03 577 600.7C578.25 602.37 579.65 604.63 581 606.5C582.35 608.37 583.6 610.35 585.1 611.9C586.6 613.45 588.28 614.78 590 615.8C591.72 616.82 593.73 617.42 595.4 618C597.07 618.58 598.3 618.93 600 619.3C601.7 619.67 604.67 620.05 605.6 620.2" stroke="#111" fill="none" stroke-width="0.8" stroke-linejoin="round"/>
<path d="M528.9 634.4C529.25 634.22 530.15 633.67 531 633.3C531.85 632.93 532.83 632.35 534 632.2C535.17 632.05 536.67 632.47 538 632.4C539.33 632.33 540.62 632.03 542 631.8C543.38 631.57 544.88 631.58 546.3 631C547.72 630.42 549.13 629.33 550.5 628.3C551.87 627.27 553.17 626.27 554.5 624.8C555.83 623.33 557.13 621.22 558.5 619.5C559.87 617.78 561.37 616.08 562.7 614.5C564.03 612.92 565.32 611.02 566.5 610C567.68 608.98 568.63 608.32 569.8 608.4C570.97 608.48 572.3 609.48 573.5 610.5C574.7 611.52 575.75 612.87 577 614.5C578.25 616.13 579.65 618.42 581 620.3C582.35 622.18 583.6 624.27 585.1 625.8C586.6 627.33 588.28 628.47 590 629.5C591.72 630.53 593.73 631.33 595.4 632C597.07 632.67 598.13 633.1 600 633.5C601.87 633.9 605.5 634.25 606.6 634.4Z" stroke="none" fill="rgba(245,160,80,0.62)" stroke-width="1"/>
<path d="M528.9 634.4C529.25 634.22 530.15 633.67 531 633.3C531.85 632.93 532.83 632.35 534 632.2C535.17 632.05 536.67 632.47 538 632.4C539.33 632.33 540.62 632.03 542 631.8C543.38 631.57 544.88 631.58 546.3 631C547.72 630.42 549.13 629.33 550.5 628.3C551.87 627.27 553.17 626.27 554.5 624.8C555.83 623.33 557.13 621.22 558.5 619.5C559.87 617.78 561.37 616.08 562.7 614.5C564.03 612.92 565.32 611.02 566.5 610C567.68 608.98 568.63 608.32 569.8 608.4C570.97 608.48 572.3 609.48 573.5 610.5C574.7 611.52 575.75 612.87 577 614.5C578.25 616.13 579.65 618.42 581 620.3C582.35 622.18 583.6 624.27 585.1 625.8C586.6 627.33 588.28 628.47 590 629.5C591.72 630.53 593.73 631.33 595.4 632C597.07 632.67 598.13 633.1 600 633.5C601.87 633.9 605.5 634.25 606.6 634.4" stroke="#F08A24" fill="none" stroke-width="0.8" stroke-linejoin="round"/>
<path d="M528.9 648.4C529.25 648.17 530.15 647.37 531 647C531.85 646.63 532.83 646.27 534 646.2C535.17 646.13 536.67 646.67 538 646.6C539.33 646.53 540.5 646.1 542 645.8C543.5 645.5 545.33 645.35 547 644.8C548.67 644.25 550.33 643.72 552 642.5C553.67 641.28 555.33 639.42 557 637.5C558.67 635.58 560.42 633 562 631C563.58 629 565.17 626.92 566.5 625.5C567.83 624.08 569.1 623.07 570 622.5C570.9 621.93 571.07 621.93 571.9 622.1C572.73 622.27 573.9 622.6 575 623.5C576.1 624.4 577.33 626.08 578.5 627.5C579.67 628.92 580.75 630.58 582 632C583.25 633.42 584.58 634.75 586 636C587.42 637.25 589 638.42 590.5 639.5C592 640.58 593.42 641.58 595 642.5C596.58 643.42 598.33 644.28 600 645C601.67 645.72 603.22 646.23 605 646.8C606.78 647.37 609.75 648.13 610.7 648.4Z" stroke="none" fill="rgba(230,85,90,0.6)" stroke-width="1"/>
<path d="M528.9 648.4C529.25 648.17 530.15 647.37 531 647C531.85 646.63 532.83 646.27 534 646.2C535.17 646.13 536.67 646.67 538 646.6C539.33 646.53 540.5 646.1 542 645.8C543.5 645.5 545.33 645.35 547 644.8C548.67 644.25 550.33 643.72 552 642.5C553.67 641.28 555.33 639.42 557 637.5C558.67 635.58 560.42 633 562 631C563.58 629 565.17 626.92 566.5 625.5C567.83 624.08 569.1 623.07 570 622.5C570.9 621.93 571.07 621.93 571.9 622.1C572.73 622.27 573.9 622.6 575 623.5C576.1 624.4 577.33 626.08 578.5 627.5C579.67 628.92 580.75 630.58 582 632C583.25 633.42 584.58 634.75 586 636C587.42 637.25 589 638.42 590.5 639.5C592 640.58 593.42 641.58 595 642.5C596.58 643.42 598.33 644.28 600 645C601.67 645.72 603.22 646.23 605 646.8C606.78 647.37 609.75 648.13 610.7 648.4" stroke="#E53935" fill="none" stroke-width="0.8" stroke-linejoin="round"/>
<path d="M528.3 663C528.67 662.58 529.55 661.35 530.5 660.5C531.45 659.65 532.75 658.22 534 657.9C535.25 657.58 535.95 658.43 538 658.6C540.05 658.77 543.47 658.97 546.3 658.9C549.13 658.83 552.27 658.53 555 658.2C557.73 657.87 560.78 657.93 562.7 656.9C564.62 655.87 565.28 653.73 566.5 652C567.72 650.27 568.93 647.9 570 646.5C571.07 645.1 571.73 644.35 572.9 643.6C574.07 642.85 575.65 642.57 577 642C578.35 641.43 579.72 640.68 581 640.2C582.28 639.72 583.53 638.88 584.7 639.1C585.87 639.32 586.57 640.42 588 641.5C589.43 642.58 591.8 644.48 593.3 645.6C594.8 646.72 595.97 647.35 597 648.2C598.03 649.05 598.5 649.65 599.5 650.7C600.5 651.75 601.65 652.97 603 654.5C604.35 656.03 606.27 658.65 607.6 659.9C608.93 661.15 609.63 661.48 611 662C612.37 662.52 615 662.83 615.8 663Z" stroke="none" fill="rgba(90,150,215,0.62)" stroke-width="1"/>
<path d="M528.3 663C528.67 662.58 529.55 661.35 530.5 660.5C531.45 659.65 532.75 658.22 534 657.9C535.25 657.58 535.95 658.43 538 658.6C540.05 658.77 543.47 658.97 546.3 658.9C549.13 658.83 552.27 658.53 555 658.2C557.73 657.87 560.78 657.93 562.7 656.9C564.62 655.87 565.28 653.73 566.5 652C567.72 650.27 568.93 647.9 570 646.5C571.07 645.1 571.73 644.35 572.9 643.6C574.07 642.85 575.65 642.57 577 642C578.35 641.43 579.72 640.68 581 640.2C582.28 639.72 583.53 638.88 584.7 639.1C585.87 639.32 586.57 640.42 588 641.5C589.43 642.58 591.8 644.48 593.3 645.6C594.8 646.72 595.97 647.35 597 648.2C598.03 649.05 598.5 649.65 599.5 650.7C600.5 651.75 601.65 652.97 603 654.5C604.35 656.03 606.27 658.65 607.6 659.9C608.93 661.15 609.63 661.48 611 662C612.37 662.52 615 662.83 615.8 663" stroke="#3C7DC4" fill="none" stroke-width="0.8" stroke-linejoin="round"/>
<path d="M530 676.7C531.33 676.5 535.28 676.08 538 675.5C540.72 674.92 544.22 673.95 546.3 673.2C548.38 672.45 549.13 671.85 550.5 671C551.87 670.15 553 669.35 554.5 668.1C556 666.85 557.8 665.2 559.5 663.5C561.2 661.8 563.03 659.48 564.7 657.9C566.37 656.32 567.97 654.95 569.5 654C571.03 653.05 572.57 651.95 573.9 652.2C575.23 652.45 576.3 654.22 577.5 655.5C578.7 656.78 579.85 658.32 581.1 659.9C582.35 661.48 583.65 663.3 585 665C586.35 666.7 587.87 668.6 589.2 670.1C590.53 671.6 591.63 672.9 593 674C594.37 675.1 596.67 676.25 597.4 676.7Z" stroke="none" fill="rgba(175,212,100,0.72)" stroke-width="1"/>
<path d="M530 676.7C531.33 676.5 535.28 676.08 538 675.5C540.72 674.92 544.22 673.95 546.3 673.2C548.38 672.45 549.13 671.85 550.5 671C551.87 670.15 553 669.35 554.5 668.1C556 666.85 557.8 665.2 559.5 663.5C561.2 661.8 563.03 659.48 564.7 657.9C566.37 656.32 567.97 654.95 569.5 654C571.03 653.05 572.57 651.95 573.9 652.2C575.23 652.45 576.3 654.22 577.5 655.5C578.7 656.78 579.85 658.32 581.1 659.9C582.35 661.48 583.65 663.3 585 665C586.35 666.7 587.87 668.6 589.2 670.1C590.53 671.6 591.63 672.9 593 674C594.37 675.1 596.67 676.25 597.4 676.7" stroke="#8DC63F" fill="none" stroke-width="0.8" stroke-linejoin="round"/>
<text transform="translate(618.2 599.8) scale(0.9533 1)" y="2.87" font-size="7.97" fill="#222">FMO</text>
<text transform="translate(618.2 613.9) scale(0.9533 1)" y="2.87" font-size="7.97" fill="#222">Control</text>
<text transform="translate(618.2 627.6) scale(0.9533 1)" y="2.87" font-size="7.97" fill="#222">FABP7 100 ng/ml</text>
<text transform="translate(618.2 640.9) scale(0.9533 1)" y="2.87" font-size="7.97" fill="#222">FABP7 300 ng/ml</text>
<text transform="translate(618.2 655.3) scale(0.9533 1)" y="2.87" font-size="7.97" fill="#222">LPS</text>
<text transform="translate(618.2 669.4) scale(0.9533 1)" y="2.87" font-size="7.97" fill="#222">H<tspan font-size="5" dy="1.5">2</tspan><tspan dy="-1.5">O</tspan><tspan font-size="5" dy="1.5">2</tspan></text>
<line x1="500.3" y1="676.7" x2="500.3" y2="679.1" stroke="#666" stroke-width="0.55"/>
<text transform="translate(500.3 685.2)" y="1.37" font-size="3.8" text-anchor="middle" fill="#444">-10³</text>
<line x1="532.6" y1="676.7" x2="532.6" y2="679.1" stroke="#666" stroke-width="0.55"/>
<text transform="translate(532.6 685.2)" y="1.37" font-size="3.8" text-anchor="middle" fill="#444">0</text>
<line x1="564.7" y1="676.7" x2="564.7" y2="679.1" stroke="#666" stroke-width="0.55"/>
<text transform="translate(564.7 685.2)" y="1.37" font-size="3.8" text-anchor="middle" fill="#444">10³</text>
<line x1="619.9" y1="676.7" x2="619.9" y2="679.1" stroke="#666" stroke-width="0.55"/>
<text transform="translate(619.9 685.2)" y="1.37" font-size="3.8" text-anchor="middle" fill="#444">10⁴</text>
<line x1="666.3" y1="676.7" x2="666.3" y2="679.1" stroke="#666" stroke-width="0.55"/>
<text transform="translate(666.3 685.2)" y="1.37" font-size="3.8" text-anchor="middle" fill="#444">10⁵</text>
<line x1="490" y1="676.7" x2="490" y2="678.1" stroke="#888" stroke-width="0.45"/>
<line x1="494" y1="676.7" x2="494" y2="678.1" stroke="#888" stroke-width="0.45"/>
<line x1="497" y1="676.7" x2="497" y2="678.1" stroke="#888" stroke-width="0.45"/>
<line x1="504" y1="676.7" x2="504" y2="678.1" stroke="#888" stroke-width="0.45"/>
<line x1="508" y1="676.7" x2="508" y2="678.1" stroke="#888" stroke-width="0.45"/>
<line x1="512" y1="676.7" x2="512" y2="678.1" stroke="#888" stroke-width="0.45"/>
<line x1="516" y1="676.7" x2="516" y2="678.1" stroke="#888" stroke-width="0.45"/>
<line x1="520" y1="676.7" x2="520" y2="678.1" stroke="#888" stroke-width="0.45"/>
<line x1="524" y1="676.7" x2="524" y2="678.1" stroke="#888" stroke-width="0.45"/>
<line x1="527" y1="676.7" x2="527" y2="678.1" stroke="#888" stroke-width="0.45"/>
<line x1="529" y1="676.7" x2="529" y2="678.1" stroke="#888" stroke-width="0.45"/>
<line x1="537" y1="676.7" x2="537" y2="678.1" stroke="#888" stroke-width="0.45"/>
<line x1="540" y1="676.7" x2="540" y2="678.1" stroke="#888" stroke-width="0.45"/>
<line x1="543" y1="676.7" x2="543" y2="678.1" stroke="#888" stroke-width="0.45"/>
<line x1="546" y1="676.7" x2="546" y2="678.1" stroke="#888" stroke-width="0.45"/>
<line x1="549" y1="676.7" x2="549" y2="678.1" stroke="#888" stroke-width="0.45"/>
<line x1="551" y1="676.7" x2="551" y2="678.1" stroke="#888" stroke-width="0.45"/>
<line x1="553" y1="676.7" x2="553" y2="678.1" stroke="#888" stroke-width="0.45"/>
<line x1="556" y1="676.7" x2="556" y2="678.1" stroke="#888" stroke-width="0.45"/>
<line x1="559" y1="676.7" x2="559" y2="678.1" stroke="#888" stroke-width="0.45"/>
<line x1="561" y1="676.7" x2="561" y2="678.1" stroke="#888" stroke-width="0.45"/>
<line x1="563" y1="676.7" x2="563" y2="678.1" stroke="#888" stroke-width="0.45"/>
<line x1="583" y1="676.7" x2="583" y2="678.1" stroke="#888" stroke-width="0.45"/>
<line x1="594" y1="676.7" x2="594" y2="678.1" stroke="#888" stroke-width="0.45"/>
<line x1="602" y1="676.7" x2="602" y2="678.1" stroke="#888" stroke-width="0.45"/>
<line x1="607" y1="676.7" x2="607" y2="678.1" stroke="#888" stroke-width="0.45"/>
<line x1="611" y1="676.7" x2="611" y2="678.1" stroke="#888" stroke-width="0.45"/>
<line x1="614" y1="676.7" x2="614" y2="678.1" stroke="#888" stroke-width="0.45"/>
<line x1="617" y1="676.7" x2="617" y2="678.1" stroke="#888" stroke-width="0.45"/>
<line x1="636" y1="676.7" x2="636" y2="678.1" stroke="#888" stroke-width="0.45"/>
<line x1="647" y1="676.7" x2="647" y2="678.1" stroke="#888" stroke-width="0.45"/>
<line x1="655" y1="676.7" x2="655" y2="678.1" stroke="#888" stroke-width="0.45"/>
<line x1="660" y1="676.7" x2="660" y2="678.1" stroke="#888" stroke-width="0.45"/>
<line x1="664" y1="676.7" x2="664" y2="678.1" stroke="#888" stroke-width="0.45"/>
<line x1="667" y1="676.7" x2="667" y2="678.1" stroke="#888" stroke-width="0.45"/>
<line x1="670" y1="676.7" x2="670" y2="678.1" stroke="#888" stroke-width="0.45"/>
<line x1="672" y1="676.7" x2="672" y2="678.1" stroke="#888" stroke-width="0.45"/>
<line x1="674" y1="676.7" x2="674" y2="678.1" stroke="#888" stroke-width="0.45"/>
<text transform="translate(586.3 696.2) scale(0.9444 1)" y="3.11" font-size="8.64" text-anchor="middle" fill="#222">Mitochondrial superoxide</text>
<rect x="527.5" y="676.9" width="6" height="1.8" stroke="none" fill="#222" stroke-width="1"/>
<rect x="162.5" y="678" width="4" height="1.5" stroke="none" fill="#444" stroke-width="1"/>
</svg>
</body></html>
